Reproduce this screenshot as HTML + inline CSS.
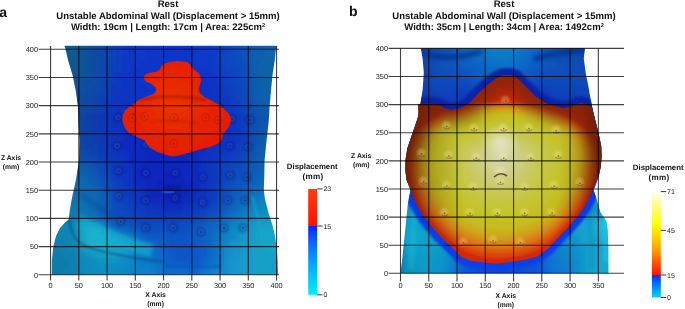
<!DOCTYPE html>
<html><head><meta charset="utf-8"><title>Abdominal wall displacement</title>
<style>
html,body{margin:0;padding:0;background:#fff;}
body{width:685px;height:309px;overflow:hidden;font-family:"Liberation Sans",sans-serif;}
svg{display:block;}
text{will-change:transform;text-rendering:geometricPrecision;}
.t{will-change:transform;}
</style></head><body>
<svg width="685" height="309" viewBox="0 0 685 309" font-family="Liberation Sans">
<rect width="685" height="309" fill="#fff"/>

<defs>
<clipPath id="clipL"><polygon points="64.4,45.8 276.6,45.8 276.0,48.0 274.7,60.5 272.4,76.0 270.9,91.5 269.6,107.0 268.6,122.6 266.6,140.0 264.6,160.0 264.3,175.0 263.8,190.0 264.8,198.3 268.7,213.8 272.6,225.5 274.5,233.3 276.4,245.0 277.4,257.0 278.2,274.8 51.8,274.8 51.8,261.0 53.2,247.0 56.0,236.0 60.0,228.0 65.0,222.5 68.6,219.5 69.6,212.0 71.0,203.0 72.8,194.0 76.0,179.4 79.0,160.0 79.4,140.0 78.6,125.0 77.9,107.0 75.9,91.5 72.8,76.0 68.1,60.5 65.2,48.0"/></clipPath>
<filter id="bl2" x="-50%" y="-50%" width="200%" height="200%"><feGaussianBlur stdDeviation="2"/></filter>
<filter id="bl4" x="-50%" y="-50%" width="200%" height="200%"><feGaussianBlur stdDeviation="4"/></filter>
<filter id="bl7" x="-50%" y="-50%" width="200%" height="200%"><feGaussianBlur stdDeviation="7"/></filter>
<filter id="bl10" x="-50%" y="-50%" width="200%" height="200%"><feGaussianBlur stdDeviation="10"/></filter>
<filter id="bl05" x="-20%" y="-20%" width="140%" height="140%"><feGaussianBlur stdDeviation="0.5"/></filter>
<filter id="bl1" x="-50%" y="-50%" width="200%" height="200%"><feGaussianBlur stdDeviation="1"/></filter>
<radialGradient id="redL" cx="0.45" cy="0.45" r="0.6">
 <stop offset="0" stop-color="#ea3406"/>
 <stop offset="0.6" stop-color="#e62404"/>
 <stop offset="1" stop-color="#e41c00"/>
</radialGradient>
</defs>
<g clip-path="url(#clipL)">
<g filter="url(#bl2)">
<rect x="50" y="42" width="12.5" height="6.5" fill="#0c6088"/>
<rect x="62" y="42" width="6.5" height="6.5" fill="#0c608c"/>
<rect x="68" y="42" width="6.5" height="6.5" fill="#0c5c8c"/>
<rect x="74" y="42" width="6.5" height="6.5" fill="#0c5890"/>
<rect x="80" y="42" width="6.5" height="6.5" fill="#0c5494"/>
<rect x="86" y="42" width="6.5" height="6.5" fill="#0c509c"/>
<rect x="92" y="42" width="6.5" height="6.5" fill="#0c4ca0"/>
<rect x="98" y="42" width="6.5" height="6.5" fill="#0c48a8"/>
<rect x="104" y="42" width="6.5" height="6.5" fill="#0c44b0"/>
<rect x="110" y="42" width="6.5" height="6.5" fill="#0c40b8"/>
<rect x="116" y="42" width="6.5" height="6.5" fill="#0c3cc0"/>
<rect x="122" y="42" width="12.5" height="6.5" fill="#0c38c4"/>
<rect x="134" y="42" width="12.5" height="6.5" fill="#0c38c8"/>
<rect x="146" y="42" width="18.5" height="6.5" fill="#0c34c8"/>
<rect x="164" y="42" width="24.5" height="6.5" fill="#0834c8"/>
<rect x="188" y="42" width="6.5" height="6.5" fill="#0c34c8"/>
<rect x="194" y="42" width="18.5" height="6.5" fill="#0c38c8"/>
<rect x="212" y="42" width="6.5" height="6.5" fill="#0c3cc8"/>
<rect x="218" y="42" width="6.5" height="6.5" fill="#0c40c4"/>
<rect x="224" y="42" width="6.5" height="6.5" fill="#0c44c4"/>
<rect x="230" y="42" width="6.5" height="6.5" fill="#0c48c0"/>
<rect x="236" y="42" width="6.5" height="6.5" fill="#0c4cbc"/>
<rect x="242" y="42" width="6.5" height="6.5" fill="#0c54b8"/>
<rect x="248" y="42" width="6.5" height="6.5" fill="#0c58b4"/>
<rect x="254" y="42" width="6.5" height="6.5" fill="#0c5cb0"/>
<rect x="260" y="42" width="6.5" height="6.5" fill="#0c60b0"/>
<rect x="266" y="42" width="6.5" height="6.5" fill="#0c60ac"/>
<rect x="272" y="42" width="12.5" height="6.5" fill="#0c64ac"/>
<rect x="50" y="48" width="6.5" height="6.5" fill="#0c6088"/>
<rect x="56" y="48" width="6.5" height="6.5" fill="#0c608c"/>
<rect x="62" y="48" width="12.5" height="6.5" fill="#0c5c8c"/>
<rect x="74" y="48" width="6.5" height="6.5" fill="#0c5890"/>
<rect x="80" y="48" width="6.5" height="6.5" fill="#0c5498"/>
<rect x="86" y="48" width="6.5" height="6.5" fill="#0c509c"/>
<rect x="92" y="48" width="6.5" height="6.5" fill="#0c4ca0"/>
<rect x="98" y="48" width="6.5" height="6.5" fill="#0c48a8"/>
<rect x="104" y="48" width="6.5" height="6.5" fill="#0c44b0"/>
<rect x="110" y="48" width="6.5" height="6.5" fill="#0c40b8"/>
<rect x="116" y="48" width="6.5" height="6.5" fill="#0c3cc0"/>
<rect x="122" y="48" width="12.5" height="6.5" fill="#0c38c4"/>
<rect x="134" y="48" width="12.5" height="6.5" fill="#0c38c8"/>
<rect x="146" y="48" width="24.5" height="6.5" fill="#0c34c8"/>
<rect x="170" y="48" width="24.5" height="6.5" fill="#0834c8"/>
<rect x="194" y="48" width="18.5" height="6.5" fill="#0c38c8"/>
<rect x="212" y="48" width="6.5" height="6.5" fill="#0c3cc8"/>
<rect x="218" y="48" width="6.5" height="6.5" fill="#0c40c4"/>
<rect x="224" y="48" width="6.5" height="6.5" fill="#0c44c4"/>
<rect x="230" y="48" width="6.5" height="6.5" fill="#0c48c0"/>
<rect x="236" y="48" width="6.5" height="6.5" fill="#0c4cc0"/>
<rect x="242" y="48" width="6.5" height="6.5" fill="#0c54b8"/>
<rect x="248" y="48" width="6.5" height="6.5" fill="#0c58b4"/>
<rect x="254" y="48" width="6.5" height="6.5" fill="#0c60b0"/>
<rect x="260" y="48" width="6.5" height="6.5" fill="#0c60ac"/>
<rect x="266" y="48" width="12.5" height="6.5" fill="#0c64ac"/>
<rect x="278" y="48" width="6.5" height="6.5" fill="#0c64a8"/>
<rect x="50" y="54" width="12.5" height="6.5" fill="#0c608c"/>
<rect x="62" y="54" width="6.5" height="6.5" fill="#0c5c8c"/>
<rect x="68" y="54" width="6.5" height="6.5" fill="#0c5c90"/>
<rect x="74" y="54" width="6.5" height="6.5" fill="#0c5894"/>
<rect x="80" y="54" width="6.5" height="6.5" fill="#0c5498"/>
<rect x="86" y="54" width="6.5" height="6.5" fill="#0c509c"/>
<rect x="92" y="54" width="6.5" height="6.5" fill="#0c4ca0"/>
<rect x="98" y="54" width="6.5" height="6.5" fill="#0c48a8"/>
<rect x="104" y="54" width="6.5" height="6.5" fill="#0c44b0"/>
<rect x="110" y="54" width="6.5" height="6.5" fill="#0c40b8"/>
<rect x="116" y="54" width="6.5" height="6.5" fill="#0c3cc0"/>
<rect x="122" y="54" width="12.5" height="6.5" fill="#0c38c4"/>
<rect x="134" y="54" width="12.5" height="6.5" fill="#0c38c8"/>
<rect x="146" y="54" width="18.5" height="6.5" fill="#0c34c8"/>
<rect x="164" y="54" width="30.5" height="6.5" fill="#0834c8"/>
<rect x="194" y="54" width="18.5" height="6.5" fill="#0c38c8"/>
<rect x="212" y="54" width="6.5" height="6.5" fill="#0c3cc8"/>
<rect x="218" y="54" width="6.5" height="6.5" fill="#0c40c4"/>
<rect x="224" y="54" width="6.5" height="6.5" fill="#0c44c4"/>
<rect x="230" y="54" width="6.5" height="6.5" fill="#0c48c0"/>
<rect x="236" y="54" width="6.5" height="6.5" fill="#0c4cc0"/>
<rect x="242" y="54" width="6.5" height="6.5" fill="#0c54b8"/>
<rect x="248" y="54" width="6.5" height="6.5" fill="#0c58b4"/>
<rect x="254" y="54" width="6.5" height="6.5" fill="#0c60b0"/>
<rect x="260" y="54" width="6.5" height="6.5" fill="#0c60ac"/>
<rect x="266" y="54" width="6.5" height="6.5" fill="#0c64ac"/>
<rect x="272" y="54" width="12.5" height="6.5" fill="#0c64a8"/>
<rect x="50" y="60" width="12.5" height="6.5" fill="#0c608c"/>
<rect x="62" y="60" width="6.5" height="6.5" fill="#0c5c90"/>
<rect x="68" y="60" width="6.5" height="6.5" fill="#0c5890"/>
<rect x="74" y="60" width="6.5" height="6.5" fill="#0c5894"/>
<rect x="80" y="60" width="6.5" height="6.5" fill="#0c5498"/>
<rect x="86" y="60" width="6.5" height="6.5" fill="#0c509c"/>
<rect x="92" y="60" width="6.5" height="6.5" fill="#0c4ca4"/>
<rect x="98" y="60" width="6.5" height="6.5" fill="#0c48a8"/>
<rect x="104" y="60" width="6.5" height="6.5" fill="#0c44b0"/>
<rect x="110" y="60" width="6.5" height="6.5" fill="#0c40b8"/>
<rect x="116" y="60" width="6.5" height="6.5" fill="#0c3cc0"/>
<rect x="122" y="60" width="12.5" height="6.5" fill="#0c38c4"/>
<rect x="134" y="60" width="6.5" height="6.5" fill="#0c38c8"/>
<rect x="140" y="60" width="24.5" height="6.5" fill="#0c34c8"/>
<rect x="164" y="60" width="24.5" height="6.5" fill="#0834c8"/>
<rect x="188" y="60" width="6.5" height="6.5" fill="#0c34c8"/>
<rect x="194" y="60" width="18.5" height="6.5" fill="#0c38c8"/>
<rect x="212" y="60" width="6.5" height="6.5" fill="#0c3cc4"/>
<rect x="218" y="60" width="6.5" height="6.5" fill="#0c40c4"/>
<rect x="224" y="60" width="6.5" height="6.5" fill="#0c44c4"/>
<rect x="230" y="60" width="6.5" height="6.5" fill="#0c48c0"/>
<rect x="236" y="60" width="6.5" height="6.5" fill="#0c4cc0"/>
<rect x="242" y="60" width="6.5" height="6.5" fill="#0c50b8"/>
<rect x="248" y="60" width="6.5" height="6.5" fill="#0c58b4"/>
<rect x="254" y="60" width="6.5" height="6.5" fill="#0c60ac"/>
<rect x="260" y="60" width="6.5" height="6.5" fill="#0c64ac"/>
<rect x="266" y="60" width="12.5" height="6.5" fill="#0c64a8"/>
<rect x="278" y="60" width="6.5" height="6.5" fill="#0c68a4"/>
<rect x="50" y="66" width="6.5" height="6.5" fill="#0c608c"/>
<rect x="56" y="66" width="12.5" height="6.5" fill="#0c5c90"/>
<rect x="68" y="66" width="12.5" height="6.5" fill="#0c5894"/>
<rect x="80" y="66" width="6.5" height="6.5" fill="#0c5498"/>
<rect x="86" y="66" width="6.5" height="6.5" fill="#0c509c"/>
<rect x="92" y="66" width="6.5" height="6.5" fill="#0c4ca4"/>
<rect x="98" y="66" width="6.5" height="6.5" fill="#0c48a8"/>
<rect x="104" y="66" width="6.5" height="6.5" fill="#0c44b0"/>
<rect x="110" y="66" width="6.5" height="6.5" fill="#0c40b8"/>
<rect x="116" y="66" width="6.5" height="6.5" fill="#0c3cc0"/>
<rect x="122" y="66" width="12.5" height="6.5" fill="#0c38c4"/>
<rect x="134" y="66" width="6.5" height="6.5" fill="#0c34c4"/>
<rect x="140" y="66" width="24.5" height="6.5" fill="#0c34c8"/>
<rect x="164" y="66" width="12.5" height="6.5" fill="#0834c8"/>
<rect x="176" y="66" width="6.5" height="6.5" fill="#0c34c8"/>
<rect x="182" y="66" width="6.5" height="6.5" fill="#0834c8"/>
<rect x="188" y="66" width="12.5" height="6.5" fill="#0c34c8"/>
<rect x="200" y="66" width="12.5" height="6.5" fill="#0c38c8"/>
<rect x="212" y="66" width="6.5" height="6.5" fill="#0c3cc4"/>
<rect x="218" y="66" width="6.5" height="6.5" fill="#0c40c4"/>
<rect x="224" y="66" width="6.5" height="6.5" fill="#0c44c4"/>
<rect x="230" y="66" width="6.5" height="6.5" fill="#0c44c0"/>
<rect x="236" y="66" width="6.5" height="6.5" fill="#0c48c0"/>
<rect x="242" y="66" width="6.5" height="6.5" fill="#0c50b8"/>
<rect x="248" y="66" width="6.5" height="6.5" fill="#0c58b4"/>
<rect x="254" y="66" width="6.5" height="6.5" fill="#0c60ac"/>
<rect x="260" y="66" width="12.5" height="6.5" fill="#0c64a8"/>
<rect x="272" y="66" width="6.5" height="6.5" fill="#0c64a4"/>
<rect x="278" y="66" width="6.5" height="6.5" fill="#0c68a4"/>
<rect x="56" y="72" width="6.5" height="6.5" fill="#0c5c90"/>
<rect x="62" y="72" width="6.5" height="6.5" fill="#0c5c94"/>
<rect x="68" y="72" width="6.5" height="6.5" fill="#0c5894"/>
<rect x="74" y="72" width="6.5" height="6.5" fill="#0c5498"/>
<rect x="80" y="72" width="6.5" height="6.5" fill="#0c549c"/>
<rect x="86" y="72" width="6.5" height="6.5" fill="#0c50a0"/>
<rect x="92" y="72" width="6.5" height="6.5" fill="#0c4ca4"/>
<rect x="98" y="72" width="6.5" height="6.5" fill="#0c48ac"/>
<rect x="104" y="72" width="6.5" height="6.5" fill="#0c44b0"/>
<rect x="110" y="72" width="6.5" height="6.5" fill="#0c3cb8"/>
<rect x="116" y="72" width="6.5" height="6.5" fill="#0c38c0"/>
<rect x="122" y="72" width="6.5" height="6.5" fill="#0c38c4"/>
<rect x="128" y="72" width="12.5" height="6.5" fill="#0c34c4"/>
<rect x="140" y="72" width="24.5" height="6.5" fill="#0c34c8"/>
<rect x="164" y="72" width="24.5" height="6.5" fill="#0834c8"/>
<rect x="188" y="72" width="12.5" height="6.5" fill="#0c34c8"/>
<rect x="200" y="72" width="12.5" height="6.5" fill="#0c34c4"/>
<rect x="212" y="72" width="6.5" height="6.5" fill="#0c38c4"/>
<rect x="218" y="72" width="6.5" height="6.5" fill="#0c3cc4"/>
<rect x="224" y="72" width="6.5" height="6.5" fill="#0c40c4"/>
<rect x="230" y="72" width="6.5" height="6.5" fill="#0c44c0"/>
<rect x="236" y="72" width="6.5" height="6.5" fill="#0c48c0"/>
<rect x="242" y="72" width="6.5" height="6.5" fill="#0c50b8"/>
<rect x="248" y="72" width="6.5" height="6.5" fill="#0c58b4"/>
<rect x="254" y="72" width="6.5" height="6.5" fill="#0c5cac"/>
<rect x="260" y="72" width="6.5" height="6.5" fill="#0c60a8"/>
<rect x="266" y="72" width="6.5" height="6.5" fill="#0c64a8"/>
<rect x="272" y="72" width="6.5" height="6.5" fill="#0c64a4"/>
<rect x="278" y="72" width="6.5" height="6.5" fill="#0c68a4"/>
<rect x="56" y="78" width="12.5" height="6.5" fill="#0c5c94"/>
<rect x="68" y="78" width="6.5" height="6.5" fill="#0c5898"/>
<rect x="74" y="78" width="6.5" height="6.5" fill="#0c549c"/>
<rect x="80" y="78" width="6.5" height="6.5" fill="#0c509c"/>
<rect x="86" y="78" width="6.5" height="6.5" fill="#0c4ca4"/>
<rect x="92" y="78" width="6.5" height="6.5" fill="#0c4ca8"/>
<rect x="98" y="78" width="6.5" height="6.5" fill="#0c44ac"/>
<rect x="104" y="78" width="6.5" height="6.5" fill="#0c40b4"/>
<rect x="110" y="78" width="6.5" height="6.5" fill="#0c3cbc"/>
<rect x="116" y="78" width="6.5" height="6.5" fill="#0c38c0"/>
<rect x="122" y="78" width="18.5" height="6.5" fill="#0c34c4"/>
<rect x="140" y="78" width="6.5" height="6.5" fill="#0c34c8"/>
<rect x="146" y="78" width="18.5" height="6.5" fill="#0c30c8"/>
<rect x="164" y="78" width="6.5" height="6.5" fill="#0830c8"/>
<rect x="170" y="78" width="12.5" height="6.5" fill="#0c30c4"/>
<rect x="182" y="78" width="12.5" height="6.5" fill="#0830c4"/>
<rect x="194" y="78" width="12.5" height="6.5" fill="#0c30c4"/>
<rect x="206" y="78" width="12.5" height="6.5" fill="#0c34c4"/>
<rect x="218" y="78" width="6.5" height="6.5" fill="#0c3cc4"/>
<rect x="224" y="78" width="6.5" height="6.5" fill="#0c40c4"/>
<rect x="230" y="78" width="6.5" height="6.5" fill="#0c44c0"/>
<rect x="236" y="78" width="6.5" height="6.5" fill="#0c48c0"/>
<rect x="242" y="78" width="6.5" height="6.5" fill="#0c4cb8"/>
<rect x="248" y="78" width="6.5" height="6.5" fill="#0c54b4"/>
<rect x="254" y="78" width="6.5" height="6.5" fill="#0c5cac"/>
<rect x="260" y="78" width="6.5" height="6.5" fill="#0c60a8"/>
<rect x="266" y="78" width="6.5" height="6.5" fill="#0c64a8"/>
<rect x="272" y="78" width="6.5" height="6.5" fill="#0c64a4"/>
<rect x="278" y="78" width="6.5" height="6.5" fill="#0c68a4"/>
<rect x="56" y="84" width="6.5" height="6.5" fill="#0c5894"/>
<rect x="62" y="84" width="12.5" height="6.5" fill="#0c5898"/>
<rect x="74" y="84" width="6.5" height="6.5" fill="#0c549c"/>
<rect x="80" y="84" width="6.5" height="6.5" fill="#0c50a0"/>
<rect x="86" y="84" width="6.5" height="6.5" fill="#0c4ca4"/>
<rect x="92" y="84" width="6.5" height="6.5" fill="#0c48a8"/>
<rect x="98" y="84" width="6.5" height="6.5" fill="#0c44b0"/>
<rect x="104" y="84" width="6.5" height="6.5" fill="#0c40b4"/>
<rect x="110" y="84" width="6.5" height="6.5" fill="#0c38bc"/>
<rect x="116" y="84" width="6.5" height="6.5" fill="#0c38c0"/>
<rect x="122" y="84" width="18.5" height="6.5" fill="#0c34c4"/>
<rect x="140" y="84" width="24.5" height="6.5" fill="#0c30c8"/>
<rect x="164" y="84" width="24.5" height="6.5" fill="#0830c4"/>
<rect x="188" y="84" width="24.5" height="6.5" fill="#0c30c4"/>
<rect x="212" y="84" width="6.5" height="6.5" fill="#0c34c4"/>
<rect x="218" y="84" width="6.5" height="6.5" fill="#0c38c4"/>
<rect x="224" y="84" width="6.5" height="6.5" fill="#0c3cc4"/>
<rect x="230" y="84" width="6.5" height="6.5" fill="#0c40c0"/>
<rect x="236" y="84" width="6.5" height="6.5" fill="#0c44c0"/>
<rect x="242" y="84" width="6.5" height="6.5" fill="#0c4cb8"/>
<rect x="248" y="84" width="6.5" height="6.5" fill="#0c54b4"/>
<rect x="254" y="84" width="6.5" height="6.5" fill="#0c5cac"/>
<rect x="260" y="84" width="6.5" height="6.5" fill="#0c60ac"/>
<rect x="266" y="84" width="12.5" height="6.5" fill="#0c64a8"/>
<rect x="278" y="84" width="6.5" height="6.5" fill="#0c68a4"/>
<rect x="56" y="90" width="12.5" height="6.5" fill="#0c5898"/>
<rect x="68" y="90" width="6.5" height="6.5" fill="#0c549c"/>
<rect x="74" y="90" width="6.5" height="6.5" fill="#0c509c"/>
<rect x="80" y="90" width="6.5" height="6.5" fill="#0c50a0"/>
<rect x="86" y="90" width="6.5" height="6.5" fill="#0c4ca4"/>
<rect x="92" y="90" width="6.5" height="6.5" fill="#0c48a8"/>
<rect x="98" y="90" width="6.5" height="6.5" fill="#0c44b0"/>
<rect x="104" y="90" width="6.5" height="6.5" fill="#0c3cb8"/>
<rect x="110" y="90" width="6.5" height="6.5" fill="#0c38bc"/>
<rect x="116" y="90" width="12.5" height="6.5" fill="#0c34c0"/>
<rect x="128" y="90" width="6.5" height="6.5" fill="#0c34c4"/>
<rect x="134" y="90" width="6.5" height="6.5" fill="#0c30c4"/>
<rect x="140" y="90" width="24.5" height="6.5" fill="#0c30c8"/>
<rect x="164" y="90" width="18.5" height="6.5" fill="#0830c4"/>
<rect x="182" y="90" width="6.5" height="6.5" fill="#0c30c4"/>
<rect x="188" y="90" width="6.5" height="6.5" fill="#0830c4"/>
<rect x="194" y="90" width="18.5" height="6.5" fill="#0c30c4"/>
<rect x="212" y="90" width="6.5" height="6.5" fill="#0c34c4"/>
<rect x="218" y="90" width="6.5" height="6.5" fill="#0c38c4"/>
<rect x="224" y="90" width="6.5" height="6.5" fill="#0c3cc4"/>
<rect x="230" y="90" width="6.5" height="6.5" fill="#0c40c0"/>
<rect x="236" y="90" width="6.5" height="6.5" fill="#0c44c0"/>
<rect x="242" y="90" width="6.5" height="6.5" fill="#0c4cb8"/>
<rect x="248" y="90" width="6.5" height="6.5" fill="#0c54b4"/>
<rect x="254" y="90" width="6.5" height="6.5" fill="#0c5cac"/>
<rect x="260" y="90" width="6.5" height="6.5" fill="#0c60ac"/>
<rect x="266" y="90" width="12.5" height="6.5" fill="#0c64a8"/>
<rect x="278" y="90" width="6.5" height="6.5" fill="#0c68a4"/>
<rect x="62" y="96" width="6.5" height="6.5" fill="#0c5498"/>
<rect x="68" y="96" width="12.5" height="6.5" fill="#0c509c"/>
<rect x="80" y="96" width="6.5" height="6.5" fill="#0c4ca0"/>
<rect x="86" y="96" width="6.5" height="6.5" fill="#0c48a4"/>
<rect x="92" y="96" width="6.5" height="6.5" fill="#0c44ac"/>
<rect x="98" y="96" width="6.5" height="6.5" fill="#0c40b0"/>
<rect x="104" y="96" width="6.5" height="6.5" fill="#0c3cb8"/>
<rect x="110" y="96" width="6.5" height="6.5" fill="#0c38bc"/>
<rect x="116" y="96" width="12.5" height="6.5" fill="#0c34c0"/>
<rect x="128" y="96" width="12.5" height="6.5" fill="#0c30c4"/>
<rect x="140" y="96" width="24.5" height="6.5" fill="#0c30c8"/>
<rect x="164" y="96" width="6.5" height="6.5" fill="#0c30c4"/>
<rect x="170" y="96" width="6.5" height="6.5" fill="#0830c4"/>
<rect x="176" y="96" width="6.5" height="6.5" fill="#0c30c4"/>
<rect x="182" y="96" width="6.5" height="6.5" fill="#0830c4"/>
<rect x="188" y="96" width="24.5" height="6.5" fill="#0c30c4"/>
<rect x="212" y="96" width="6.5" height="6.5" fill="#0c34c4"/>
<rect x="218" y="96" width="12.5" height="6.5" fill="#0c38c4"/>
<rect x="230" y="96" width="6.5" height="6.5" fill="#0c3cc0"/>
<rect x="236" y="96" width="6.5" height="6.5" fill="#0c44c0"/>
<rect x="242" y="96" width="6.5" height="6.5" fill="#0c48b8"/>
<rect x="248" y="96" width="6.5" height="6.5" fill="#0c54b4"/>
<rect x="254" y="96" width="6.5" height="6.5" fill="#0c5cac"/>
<rect x="260" y="96" width="6.5" height="6.5" fill="#0c60ac"/>
<rect x="266" y="96" width="12.5" height="6.5" fill="#0c64a8"/>
<rect x="278" y="96" width="6.5" height="6.5" fill="#0c68a4"/>
<rect x="62" y="102" width="12.5" height="6.5" fill="#0c5098"/>
<rect x="74" y="102" width="6.5" height="6.5" fill="#0c4c9c"/>
<rect x="80" y="102" width="6.5" height="6.5" fill="#0c4ca0"/>
<rect x="86" y="102" width="6.5" height="6.5" fill="#0c48a4"/>
<rect x="92" y="102" width="6.5" height="6.5" fill="#0c44ac"/>
<rect x="98" y="102" width="6.5" height="6.5" fill="#0c40b0"/>
<rect x="104" y="102" width="6.5" height="6.5" fill="#0c38b8"/>
<rect x="110" y="102" width="6.5" height="6.5" fill="#0c34bc"/>
<rect x="116" y="102" width="6.5" height="6.5" fill="#0c34c0"/>
<rect x="122" y="102" width="6.5" height="6.5" fill="#0c30c0"/>
<rect x="128" y="102" width="18.5" height="6.5" fill="#0c30c4"/>
<rect x="146" y="102" width="12.5" height="6.5" fill="#0c30c8"/>
<rect x="158" y="102" width="6.5" height="6.5" fill="#0c30c4"/>
<rect x="164" y="102" width="30.5" height="6.5" fill="#0830c4"/>
<rect x="194" y="102" width="24.5" height="6.5" fill="#0c30c4"/>
<rect x="218" y="102" width="6.5" height="6.5" fill="#0c34c4"/>
<rect x="224" y="102" width="6.5" height="6.5" fill="#0c38c4"/>
<rect x="230" y="102" width="6.5" height="6.5" fill="#0c3cc4"/>
<rect x="236" y="102" width="6.5" height="6.5" fill="#0c40c0"/>
<rect x="242" y="102" width="6.5" height="6.5" fill="#0c48bc"/>
<rect x="248" y="102" width="6.5" height="6.5" fill="#0c50b4"/>
<rect x="254" y="102" width="6.5" height="6.5" fill="#0c58b0"/>
<rect x="260" y="102" width="6.5" height="6.5" fill="#0c5cac"/>
<rect x="266" y="102" width="6.5" height="6.5" fill="#0c60a8"/>
<rect x="272" y="102" width="6.5" height="6.5" fill="#0c64a8"/>
<rect x="278" y="102" width="6.5" height="6.5" fill="#0c68a4"/>
<rect x="62" y="108" width="12.5" height="6.5" fill="#0c4c98"/>
<rect x="74" y="108" width="6.5" height="6.5" fill="#0c489c"/>
<rect x="80" y="108" width="6.5" height="6.5" fill="#0c48a0"/>
<rect x="86" y="108" width="6.5" height="6.5" fill="#0c44a4"/>
<rect x="92" y="108" width="6.5" height="6.5" fill="#0c40ac"/>
<rect x="98" y="108" width="6.5" height="6.5" fill="#0c3cb0"/>
<rect x="104" y="108" width="6.5" height="6.5" fill="#0c38b8"/>
<rect x="110" y="108" width="6.5" height="6.5" fill="#0c34bc"/>
<rect x="116" y="108" width="18.5" height="6.5" fill="#0c30c0"/>
<rect x="134" y="108" width="24.5" height="6.5" fill="#0c30c4"/>
<rect x="158" y="108" width="18.5" height="6.5" fill="#0830c4"/>
<rect x="176" y="108" width="12.5" height="6.5" fill="#0c30c4"/>
<rect x="188" y="108" width="6.5" height="6.5" fill="#082cc4"/>
<rect x="194" y="108" width="12.5" height="6.5" fill="#0c2cc4"/>
<rect x="206" y="108" width="18.5" height="6.5" fill="#0c30c4"/>
<rect x="224" y="108" width="6.5" height="6.5" fill="#0c34c4"/>
<rect x="230" y="108" width="6.5" height="6.5" fill="#0c38c4"/>
<rect x="236" y="108" width="6.5" height="6.5" fill="#0c3cc0"/>
<rect x="242" y="108" width="6.5" height="6.5" fill="#0c44bc"/>
<rect x="248" y="108" width="6.5" height="6.5" fill="#0c4cb8"/>
<rect x="254" y="108" width="6.5" height="6.5" fill="#0c54b0"/>
<rect x="260" y="108" width="6.5" height="6.5" fill="#0c58ac"/>
<rect x="266" y="108" width="6.5" height="6.5" fill="#0c5cac"/>
<rect x="272" y="108" width="6.5" height="6.5" fill="#0c60a8"/>
<rect x="278" y="108" width="6.5" height="6.5" fill="#0c64a8"/>
<rect x="62" y="114" width="12.5" height="6.5" fill="#0c4898"/>
<rect x="74" y="114" width="6.5" height="6.5" fill="#0c489c"/>
<rect x="80" y="114" width="6.5" height="6.5" fill="#0c44a0"/>
<rect x="86" y="114" width="6.5" height="6.5" fill="#0c40a4"/>
<rect x="92" y="114" width="6.5" height="6.5" fill="#0c3cac"/>
<rect x="98" y="114" width="6.5" height="6.5" fill="#0c38b0"/>
<rect x="104" y="114" width="6.5" height="6.5" fill="#0c34b8"/>
<rect x="110" y="114" width="6.5" height="6.5" fill="#0c30bc"/>
<rect x="116" y="114" width="6.5" height="6.5" fill="#0c30c0"/>
<rect x="122" y="114" width="18.5" height="6.5" fill="#0c2cc0"/>
<rect x="140" y="114" width="6.5" height="6.5" fill="#0c2cc4"/>
<rect x="146" y="114" width="12.5" height="6.5" fill="#0c30c4"/>
<rect x="158" y="114" width="24.5" height="6.5" fill="#082cc4"/>
<rect x="182" y="114" width="30.5" height="6.5" fill="#0c2cc4"/>
<rect x="212" y="114" width="12.5" height="6.5" fill="#0c30c4"/>
<rect x="224" y="114" width="12.5" height="6.5" fill="#0c34c4"/>
<rect x="236" y="114" width="6.5" height="6.5" fill="#0c38c0"/>
<rect x="242" y="114" width="6.5" height="6.5" fill="#0c40bc"/>
<rect x="248" y="114" width="6.5" height="6.5" fill="#0c48b8"/>
<rect x="254" y="114" width="6.5" height="6.5" fill="#0c50b4"/>
<rect x="260" y="114" width="6.5" height="6.5" fill="#0c54b0"/>
<rect x="266" y="114" width="6.5" height="6.5" fill="#0c58ac"/>
<rect x="272" y="114" width="6.5" height="6.5" fill="#0c5cac"/>
<rect x="278" y="114" width="6.5" height="6.5" fill="#0c60a8"/>
<rect x="62" y="120" width="12.5" height="6.5" fill="#0c4898"/>
<rect x="74" y="120" width="6.5" height="6.5" fill="#0c449c"/>
<rect x="80" y="120" width="6.5" height="6.5" fill="#0c44a0"/>
<rect x="86" y="120" width="6.5" height="6.5" fill="#0c40a8"/>
<rect x="92" y="120" width="6.5" height="6.5" fill="#0c3cac"/>
<rect x="98" y="120" width="6.5" height="6.5" fill="#0c38b4"/>
<rect x="104" y="120" width="6.5" height="6.5" fill="#0c34b8"/>
<rect x="110" y="120" width="6.5" height="6.5" fill="#0c30bc"/>
<rect x="116" y="120" width="6.5" height="6.5" fill="#0c30c0"/>
<rect x="122" y="120" width="24.5" height="6.5" fill="#0c2cc0"/>
<rect x="146" y="120" width="12.5" height="6.5" fill="#0c2cc4"/>
<rect x="158" y="120" width="36.5" height="6.5" fill="#082cc4"/>
<rect x="194" y="120" width="24.5" height="6.5" fill="#0c2cc4"/>
<rect x="218" y="120" width="12.5" height="6.5" fill="#0c30c4"/>
<rect x="230" y="120" width="6.5" height="6.5" fill="#0c34c4"/>
<rect x="236" y="120" width="6.5" height="6.5" fill="#0c38c0"/>
<rect x="242" y="120" width="6.5" height="6.5" fill="#0c40bc"/>
<rect x="248" y="120" width="6.5" height="6.5" fill="#0c48b8"/>
<rect x="254" y="120" width="6.5" height="6.5" fill="#0c50b4"/>
<rect x="260" y="120" width="6.5" height="6.5" fill="#0c54b0"/>
<rect x="266" y="120" width="6.5" height="6.5" fill="#0c58ac"/>
<rect x="272" y="120" width="6.5" height="6.5" fill="#0c5cac"/>
<rect x="278" y="120" width="6.5" height="6.5" fill="#0c5ca8"/>
<rect x="62" y="126" width="12.5" height="6.5" fill="#0c4898"/>
<rect x="74" y="126" width="6.5" height="6.5" fill="#0c449c"/>
<rect x="80" y="126" width="6.5" height="6.5" fill="#0c44a4"/>
<rect x="86" y="126" width="6.5" height="6.5" fill="#0c40a8"/>
<rect x="92" y="126" width="6.5" height="6.5" fill="#0c3cac"/>
<rect x="98" y="126" width="6.5" height="6.5" fill="#0c38b4"/>
<rect x="104" y="126" width="6.5" height="6.5" fill="#0c34b8"/>
<rect x="110" y="126" width="6.5" height="6.5" fill="#0c30bc"/>
<rect x="116" y="126" width="6.5" height="6.5" fill="#0c30c0"/>
<rect x="122" y="126" width="24.5" height="6.5" fill="#0c2cc0"/>
<rect x="146" y="126" width="6.5" height="6.5" fill="#0c2cc4"/>
<rect x="152" y="126" width="42.5" height="6.5" fill="#082cc4"/>
<rect x="194" y="126" width="24.5" height="6.5" fill="#0c2cc4"/>
<rect x="218" y="126" width="12.5" height="6.5" fill="#0c30c8"/>
<rect x="230" y="126" width="6.5" height="6.5" fill="#0c34c4"/>
<rect x="236" y="126" width="6.5" height="6.5" fill="#0c38c4"/>
<rect x="242" y="126" width="6.5" height="6.5" fill="#0c40bc"/>
<rect x="248" y="126" width="6.5" height="6.5" fill="#0c48b8"/>
<rect x="254" y="126" width="6.5" height="6.5" fill="#0c50b4"/>
<rect x="260" y="126" width="6.5" height="6.5" fill="#0c54b0"/>
<rect x="266" y="126" width="6.5" height="6.5" fill="#0c58ac"/>
<rect x="272" y="126" width="6.5" height="6.5" fill="#0c5cac"/>
<rect x="278" y="126" width="6.5" height="6.5" fill="#0c5ca8"/>
<rect x="62" y="132" width="6.5" height="6.5" fill="#0c4898"/>
<rect x="68" y="132" width="6.5" height="6.5" fill="#0c489c"/>
<rect x="74" y="132" width="6.5" height="6.5" fill="#0c44a0"/>
<rect x="80" y="132" width="6.5" height="6.5" fill="#0c44a4"/>
<rect x="86" y="132" width="6.5" height="6.5" fill="#0c40a8"/>
<rect x="92" y="132" width="6.5" height="6.5" fill="#0c3cac"/>
<rect x="98" y="132" width="6.5" height="6.5" fill="#0c38b4"/>
<rect x="104" y="132" width="6.5" height="6.5" fill="#0c34b8"/>
<rect x="110" y="132" width="6.5" height="6.5" fill="#0c30bc"/>
<rect x="116" y="132" width="6.5" height="6.5" fill="#0c30c0"/>
<rect x="122" y="132" width="24.5" height="6.5" fill="#0c2cc0"/>
<rect x="146" y="132" width="6.5" height="6.5" fill="#082cc0"/>
<rect x="152" y="132" width="48.5" height="6.5" fill="#082cc4"/>
<rect x="200" y="132" width="18.5" height="6.5" fill="#0c2cc4"/>
<rect x="218" y="132" width="12.5" height="6.5" fill="#0c30c8"/>
<rect x="230" y="132" width="6.5" height="6.5" fill="#0c34c4"/>
<rect x="236" y="132" width="6.5" height="6.5" fill="#0c38c4"/>
<rect x="242" y="132" width="6.5" height="6.5" fill="#0c40bc"/>
<rect x="248" y="132" width="6.5" height="6.5" fill="#0c4cb4"/>
<rect x="254" y="132" width="6.5" height="6.5" fill="#0c54b0"/>
<rect x="260" y="132" width="6.5" height="6.5" fill="#0c58ac"/>
<rect x="266" y="132" width="6.5" height="6.5" fill="#0c5cac"/>
<rect x="272" y="132" width="6.5" height="6.5" fill="#0c5ca8"/>
<rect x="278" y="132" width="6.5" height="6.5" fill="#0c60a8"/>
<rect x="62" y="138" width="12.5" height="6.5" fill="#0c489c"/>
<rect x="74" y="138" width="6.5" height="6.5" fill="#0c44a0"/>
<rect x="80" y="138" width="6.5" height="6.5" fill="#0c44a4"/>
<rect x="86" y="138" width="6.5" height="6.5" fill="#0c40a8"/>
<rect x="92" y="138" width="6.5" height="6.5" fill="#0c3cb0"/>
<rect x="98" y="138" width="6.5" height="6.5" fill="#0c38b4"/>
<rect x="104" y="138" width="6.5" height="6.5" fill="#0c34b8"/>
<rect x="110" y="138" width="6.5" height="6.5" fill="#0c30bc"/>
<rect x="116" y="138" width="6.5" height="6.5" fill="#0c30c0"/>
<rect x="122" y="138" width="24.5" height="6.5" fill="#0c2cc0"/>
<rect x="146" y="138" width="6.5" height="6.5" fill="#082cc0"/>
<rect x="152" y="138" width="48.5" height="6.5" fill="#082cc4"/>
<rect x="200" y="138" width="12.5" height="6.5" fill="#0c2cc4"/>
<rect x="212" y="138" width="6.5" height="6.5" fill="#0c30c4"/>
<rect x="218" y="138" width="12.5" height="6.5" fill="#0c30c8"/>
<rect x="230" y="138" width="6.5" height="6.5" fill="#0c34c4"/>
<rect x="236" y="138" width="6.5" height="6.5" fill="#0c38c4"/>
<rect x="242" y="138" width="6.5" height="6.5" fill="#0c40bc"/>
<rect x="248" y="138" width="6.5" height="6.5" fill="#0c4cb4"/>
<rect x="254" y="138" width="6.5" height="6.5" fill="#0c54ac"/>
<rect x="260" y="138" width="12.5" height="6.5" fill="#0c5ca8"/>
<rect x="272" y="138" width="12.5" height="6.5" fill="#0c60a8"/>
<rect x="62" y="144" width="6.5" height="6.5" fill="#0c4c9c"/>
<rect x="68" y="144" width="12.5" height="6.5" fill="#0c48a0"/>
<rect x="80" y="144" width="6.5" height="6.5" fill="#0c44a4"/>
<rect x="86" y="144" width="6.5" height="6.5" fill="#0c40a8"/>
<rect x="92" y="144" width="6.5" height="6.5" fill="#0c40b0"/>
<rect x="98" y="144" width="6.5" height="6.5" fill="#0c3cb4"/>
<rect x="104" y="144" width="6.5" height="6.5" fill="#0c34b8"/>
<rect x="110" y="144" width="6.5" height="6.5" fill="#0c30bc"/>
<rect x="116" y="144" width="6.5" height="6.5" fill="#0c30c0"/>
<rect x="122" y="144" width="24.5" height="6.5" fill="#0c2cc0"/>
<rect x="146" y="144" width="12.5" height="6.5" fill="#082cc0"/>
<rect x="158" y="144" width="48.5" height="6.5" fill="#082cc4"/>
<rect x="206" y="144" width="12.5" height="6.5" fill="#0c30c4"/>
<rect x="218" y="144" width="6.5" height="6.5" fill="#0c30c8"/>
<rect x="224" y="144" width="6.5" height="6.5" fill="#0c34c8"/>
<rect x="230" y="144" width="6.5" height="6.5" fill="#0c34c4"/>
<rect x="236" y="144" width="6.5" height="6.5" fill="#0c3cc4"/>
<rect x="242" y="144" width="6.5" height="6.5" fill="#0c44bc"/>
<rect x="248" y="144" width="6.5" height="6.5" fill="#0c50b4"/>
<rect x="254" y="144" width="6.5" height="6.5" fill="#0c58ac"/>
<rect x="260" y="144" width="6.5" height="6.5" fill="#0c5ca8"/>
<rect x="266" y="144" width="18.5" height="6.5" fill="#0c60a4"/>
<rect x="62" y="150" width="12.5" height="6.5" fill="#0c50a0"/>
<rect x="74" y="150" width="6.5" height="6.5" fill="#0c4ca4"/>
<rect x="80" y="150" width="6.5" height="6.5" fill="#0c48a8"/>
<rect x="86" y="150" width="6.5" height="6.5" fill="#0c44ac"/>
<rect x="92" y="150" width="6.5" height="6.5" fill="#0c40b0"/>
<rect x="98" y="150" width="6.5" height="6.5" fill="#0c3cb4"/>
<rect x="104" y="150" width="6.5" height="6.5" fill="#0c38b8"/>
<rect x="110" y="150" width="6.5" height="6.5" fill="#0c34bc"/>
<rect x="116" y="150" width="12.5" height="6.5" fill="#0c30c0"/>
<rect x="128" y="150" width="12.5" height="6.5" fill="#0c2cc0"/>
<rect x="140" y="150" width="6.5" height="6.5" fill="#082cc0"/>
<rect x="146" y="150" width="30.5" height="6.5" fill="#0828c0"/>
<rect x="176" y="150" width="24.5" height="6.5" fill="#082cc0"/>
<rect x="200" y="150" width="6.5" height="6.5" fill="#0830c0"/>
<rect x="206" y="150" width="6.5" height="6.5" fill="#0c30c4"/>
<rect x="212" y="150" width="12.5" height="6.5" fill="#0c34c4"/>
<rect x="224" y="150" width="12.5" height="6.5" fill="#0c38c4"/>
<rect x="236" y="150" width="6.5" height="6.5" fill="#0c40c0"/>
<rect x="242" y="150" width="6.5" height="6.5" fill="#0c48bc"/>
<rect x="248" y="150" width="6.5" height="6.5" fill="#0c50b4"/>
<rect x="254" y="150" width="6.5" height="6.5" fill="#0c58ac"/>
<rect x="260" y="150" width="6.5" height="6.5" fill="#0c60a8"/>
<rect x="266" y="150" width="12.5" height="6.5" fill="#0c60a4"/>
<rect x="278" y="150" width="6.5" height="6.5" fill="#0c64a4"/>
<rect x="62" y="156" width="12.5" height="6.5" fill="#0c58a4"/>
<rect x="74" y="156" width="6.5" height="6.5" fill="#0c54a4"/>
<rect x="80" y="156" width="6.5" height="6.5" fill="#0c50a8"/>
<rect x="86" y="156" width="6.5" height="6.5" fill="#0c4cac"/>
<rect x="92" y="156" width="6.5" height="6.5" fill="#0c48b0"/>
<rect x="98" y="156" width="6.5" height="6.5" fill="#0c40b4"/>
<rect x="104" y="156" width="6.5" height="6.5" fill="#0c3cb8"/>
<rect x="110" y="156" width="6.5" height="6.5" fill="#0c38bc"/>
<rect x="116" y="156" width="6.5" height="6.5" fill="#0c34c0"/>
<rect x="122" y="156" width="6.5" height="6.5" fill="#0c30c0"/>
<rect x="128" y="156" width="12.5" height="6.5" fill="#0c2cc0"/>
<rect x="140" y="156" width="6.5" height="6.5" fill="#082cc0"/>
<rect x="146" y="156" width="42.5" height="6.5" fill="#0828c0"/>
<rect x="188" y="156" width="12.5" height="6.5" fill="#082cc0"/>
<rect x="200" y="156" width="6.5" height="6.5" fill="#0830c0"/>
<rect x="206" y="156" width="6.5" height="6.5" fill="#0c34c0"/>
<rect x="212" y="156" width="6.5" height="6.5" fill="#0c34c4"/>
<rect x="218" y="156" width="6.5" height="6.5" fill="#0c38c4"/>
<rect x="224" y="156" width="6.5" height="6.5" fill="#0c3cc4"/>
<rect x="230" y="156" width="6.5" height="6.5" fill="#0c40c4"/>
<rect x="236" y="156" width="6.5" height="6.5" fill="#0c44c0"/>
<rect x="242" y="156" width="6.5" height="6.5" fill="#0c4cbc"/>
<rect x="248" y="156" width="6.5" height="6.5" fill="#0c54b4"/>
<rect x="254" y="156" width="6.5" height="6.5" fill="#0c5cb0"/>
<rect x="260" y="156" width="6.5" height="6.5" fill="#0c60ac"/>
<rect x="266" y="156" width="6.5" height="6.5" fill="#0c60a8"/>
<rect x="272" y="156" width="6.5" height="6.5" fill="#0c60a4"/>
<rect x="278" y="156" width="6.5" height="6.5" fill="#0c64a4"/>
<rect x="62" y="162" width="12.5" height="6.5" fill="#0c60a8"/>
<rect x="74" y="162" width="6.5" height="6.5" fill="#0c5ca8"/>
<rect x="80" y="162" width="6.5" height="6.5" fill="#0c58ac"/>
<rect x="86" y="162" width="6.5" height="6.5" fill="#0c54b0"/>
<rect x="92" y="162" width="6.5" height="6.5" fill="#0c4cb4"/>
<rect x="98" y="162" width="6.5" height="6.5" fill="#0c48b8"/>
<rect x="104" y="162" width="6.5" height="6.5" fill="#0c40b8"/>
<rect x="110" y="162" width="6.5" height="6.5" fill="#0c38bc"/>
<rect x="116" y="162" width="6.5" height="6.5" fill="#0c34c0"/>
<rect x="122" y="162" width="12.5" height="6.5" fill="#0c30c0"/>
<rect x="134" y="162" width="6.5" height="6.5" fill="#0c2cc0"/>
<rect x="140" y="162" width="24.5" height="6.5" fill="#0828c0"/>
<rect x="164" y="162" width="18.5" height="6.5" fill="#0828bc"/>
<rect x="182" y="162" width="6.5" height="6.5" fill="#0828c0"/>
<rect x="188" y="162" width="12.5" height="6.5" fill="#082cc0"/>
<rect x="200" y="162" width="6.5" height="6.5" fill="#0830c0"/>
<rect x="206" y="162" width="6.5" height="6.5" fill="#0c34c0"/>
<rect x="212" y="162" width="6.5" height="6.5" fill="#0c38c0"/>
<rect x="218" y="162" width="6.5" height="6.5" fill="#0c3cc0"/>
<rect x="224" y="162" width="6.5" height="6.5" fill="#0c40c0"/>
<rect x="230" y="162" width="6.5" height="6.5" fill="#0c44c0"/>
<rect x="236" y="162" width="6.5" height="6.5" fill="#0c48c0"/>
<rect x="242" y="162" width="6.5" height="6.5" fill="#0c50bc"/>
<rect x="248" y="162" width="6.5" height="6.5" fill="#0c54b8"/>
<rect x="254" y="162" width="6.5" height="6.5" fill="#0c5cb4"/>
<rect x="260" y="162" width="6.5" height="6.5" fill="#0c60b0"/>
<rect x="266" y="162" width="6.5" height="6.5" fill="#0c60ac"/>
<rect x="272" y="162" width="6.5" height="6.5" fill="#0c60a8"/>
<rect x="62" y="168" width="6.5" height="6.5" fill="#0c68a8"/>
<rect x="68" y="168" width="6.5" height="6.5" fill="#0c64a8"/>
<rect x="74" y="168" width="6.5" height="6.5" fill="#0c64ac"/>
<rect x="80" y="168" width="6.5" height="6.5" fill="#0c60ac"/>
<rect x="86" y="168" width="6.5" height="6.5" fill="#0c58b0"/>
<rect x="92" y="168" width="6.5" height="6.5" fill="#0c54b4"/>
<rect x="98" y="168" width="6.5" height="6.5" fill="#0c4cb8"/>
<rect x="104" y="168" width="6.5" height="6.5" fill="#0c44bc"/>
<rect x="110" y="168" width="6.5" height="6.5" fill="#0c3cbc"/>
<rect x="116" y="168" width="6.5" height="6.5" fill="#0c38c0"/>
<rect x="122" y="168" width="12.5" height="6.5" fill="#0c30c0"/>
<rect x="134" y="168" width="6.5" height="6.5" fill="#0c2cc0"/>
<rect x="140" y="168" width="12.5" height="6.5" fill="#0828c0"/>
<rect x="152" y="168" width="36.5" height="6.5" fill="#0828bc"/>
<rect x="188" y="168" width="12.5" height="6.5" fill="#082cc0"/>
<rect x="200" y="168" width="6.5" height="6.5" fill="#0830c0"/>
<rect x="206" y="168" width="6.5" height="6.5" fill="#0c34c0"/>
<rect x="212" y="168" width="6.5" height="6.5" fill="#0c38c0"/>
<rect x="218" y="168" width="6.5" height="6.5" fill="#0c3cc0"/>
<rect x="224" y="168" width="6.5" height="6.5" fill="#0c44c0"/>
<rect x="230" y="168" width="6.5" height="6.5" fill="#0c48c0"/>
<rect x="236" y="168" width="6.5" height="6.5" fill="#0c4cc0"/>
<rect x="242" y="168" width="6.5" height="6.5" fill="#0c50c0"/>
<rect x="248" y="168" width="6.5" height="6.5" fill="#0c58bc"/>
<rect x="254" y="168" width="6.5" height="6.5" fill="#0c5cb8"/>
<rect x="260" y="168" width="6.5" height="6.5" fill="#0c60b4"/>
<rect x="266" y="168" width="6.5" height="6.5" fill="#0c64b0"/>
<rect x="272" y="168" width="6.5" height="6.5" fill="#0c60ac"/>
<rect x="56" y="174" width="6.5" height="6.5" fill="#0c6ca8"/>
<rect x="62" y="174" width="6.5" height="6.5" fill="#0c68a8"/>
<rect x="68" y="174" width="12.5" height="6.5" fill="#0c68ac"/>
<rect x="80" y="174" width="6.5" height="6.5" fill="#0c64b0"/>
<rect x="86" y="174" width="6.5" height="6.5" fill="#0c60b0"/>
<rect x="92" y="174" width="6.5" height="6.5" fill="#0c58b4"/>
<rect x="98" y="174" width="6.5" height="6.5" fill="#0c50b8"/>
<rect x="104" y="174" width="6.5" height="6.5" fill="#0c48b8"/>
<rect x="110" y="174" width="6.5" height="6.5" fill="#0c40bc"/>
<rect x="116" y="174" width="6.5" height="6.5" fill="#0c38c0"/>
<rect x="122" y="174" width="6.5" height="6.5" fill="#0c34c0"/>
<rect x="128" y="174" width="6.5" height="6.5" fill="#0c30c0"/>
<rect x="134" y="174" width="6.5" height="6.5" fill="#082cc0"/>
<rect x="140" y="174" width="12.5" height="6.5" fill="#0828c0"/>
<rect x="152" y="174" width="12.5" height="6.5" fill="#0828bc"/>
<rect x="164" y="174" width="12.5" height="6.5" fill="#0824b8"/>
<rect x="176" y="174" width="6.5" height="6.5" fill="#0828b8"/>
<rect x="182" y="174" width="6.5" height="6.5" fill="#0828bc"/>
<rect x="188" y="174" width="6.5" height="6.5" fill="#082cbc"/>
<rect x="194" y="174" width="6.5" height="6.5" fill="#082cc0"/>
<rect x="200" y="174" width="6.5" height="6.5" fill="#0830c0"/>
<rect x="206" y="174" width="6.5" height="6.5" fill="#0c34c0"/>
<rect x="212" y="174" width="6.5" height="6.5" fill="#0c38c0"/>
<rect x="218" y="174" width="6.5" height="6.5" fill="#0c40c0"/>
<rect x="224" y="174" width="6.5" height="6.5" fill="#0c44c0"/>
<rect x="230" y="174" width="6.5" height="6.5" fill="#0c4cc0"/>
<rect x="236" y="174" width="6.5" height="6.5" fill="#0c50c0"/>
<rect x="242" y="174" width="6.5" height="6.5" fill="#0c54c0"/>
<rect x="248" y="174" width="6.5" height="6.5" fill="#0c58bc"/>
<rect x="254" y="174" width="6.5" height="6.5" fill="#0c60bc"/>
<rect x="260" y="174" width="12.5" height="6.5" fill="#0c68b8"/>
<rect x="272" y="174" width="6.5" height="6.5" fill="#0c64b4"/>
<rect x="56" y="180" width="24.5" height="6.5" fill="#0c6cac"/>
<rect x="80" y="180" width="6.5" height="6.5" fill="#0c68b0"/>
<rect x="86" y="180" width="6.5" height="6.5" fill="#0c64b0"/>
<rect x="92" y="180" width="6.5" height="6.5" fill="#0c5cb4"/>
<rect x="98" y="180" width="6.5" height="6.5" fill="#0c54b8"/>
<rect x="104" y="180" width="6.5" height="6.5" fill="#0c4cb8"/>
<rect x="110" y="180" width="6.5" height="6.5" fill="#0c44bc"/>
<rect x="116" y="180" width="6.5" height="6.5" fill="#0c3cc0"/>
<rect x="122" y="180" width="6.5" height="6.5" fill="#0c34c0"/>
<rect x="128" y="180" width="6.5" height="6.5" fill="#0c30c0"/>
<rect x="134" y="180" width="12.5" height="6.5" fill="#082cc0"/>
<rect x="146" y="180" width="12.5" height="6.5" fill="#0828bc"/>
<rect x="158" y="180" width="24.5" height="6.5" fill="#0824b8"/>
<rect x="182" y="180" width="6.5" height="6.5" fill="#0828b8"/>
<rect x="188" y="180" width="6.5" height="6.5" fill="#0828bc"/>
<rect x="194" y="180" width="6.5" height="6.5" fill="#082cbc"/>
<rect x="200" y="180" width="6.5" height="6.5" fill="#0830c0"/>
<rect x="206" y="180" width="6.5" height="6.5" fill="#0c34c0"/>
<rect x="212" y="180" width="6.5" height="6.5" fill="#0c38c0"/>
<rect x="218" y="180" width="6.5" height="6.5" fill="#0c40c0"/>
<rect x="224" y="180" width="6.5" height="6.5" fill="#0c48c0"/>
<rect x="230" y="180" width="6.5" height="6.5" fill="#0c4cc0"/>
<rect x="236" y="180" width="6.5" height="6.5" fill="#0c54c0"/>
<rect x="242" y="180" width="6.5" height="6.5" fill="#0c58c0"/>
<rect x="248" y="180" width="6.5" height="6.5" fill="#0c5cc0"/>
<rect x="254" y="180" width="6.5" height="6.5" fill="#0c64bc"/>
<rect x="260" y="180" width="6.5" height="6.5" fill="#0c68bc"/>
<rect x="266" y="180" width="6.5" height="6.5" fill="#0c6cbc"/>
<rect x="272" y="180" width="6.5" height="6.5" fill="#0c6cb8"/>
<rect x="56" y="186" width="18.5" height="6.5" fill="#0c70ac"/>
<rect x="74" y="186" width="12.5" height="6.5" fill="#0c6cb0"/>
<rect x="86" y="186" width="6.5" height="6.5" fill="#0c68b0"/>
<rect x="92" y="186" width="6.5" height="6.5" fill="#0c64b4"/>
<rect x="98" y="186" width="6.5" height="6.5" fill="#0c5cb8"/>
<rect x="104" y="186" width="6.5" height="6.5" fill="#0c50b8"/>
<rect x="110" y="186" width="6.5" height="6.5" fill="#0c48bc"/>
<rect x="116" y="186" width="6.5" height="6.5" fill="#0c40bc"/>
<rect x="122" y="186" width="6.5" height="6.5" fill="#0c38c0"/>
<rect x="128" y="186" width="6.5" height="6.5" fill="#0c34c0"/>
<rect x="134" y="186" width="6.5" height="6.5" fill="#0830c0"/>
<rect x="140" y="186" width="6.5" height="6.5" fill="#082cc0"/>
<rect x="146" y="186" width="6.5" height="6.5" fill="#0828bc"/>
<rect x="152" y="186" width="12.5" height="6.5" fill="#0828b8"/>
<rect x="164" y="186" width="18.5" height="6.5" fill="#0824b4"/>
<rect x="182" y="186" width="6.5" height="6.5" fill="#0828b8"/>
<rect x="188" y="186" width="6.5" height="6.5" fill="#0828bc"/>
<rect x="194" y="186" width="6.5" height="6.5" fill="#082cbc"/>
<rect x="200" y="186" width="6.5" height="6.5" fill="#0830c0"/>
<rect x="206" y="186" width="6.5" height="6.5" fill="#0c34c0"/>
<rect x="212" y="186" width="6.5" height="6.5" fill="#0c3cc0"/>
<rect x="218" y="186" width="6.5" height="6.5" fill="#0c44c0"/>
<rect x="224" y="186" width="6.5" height="6.5" fill="#0c4cc0"/>
<rect x="230" y="186" width="6.5" height="6.5" fill="#0c54c0"/>
<rect x="236" y="186" width="6.5" height="6.5" fill="#0c58c0"/>
<rect x="242" y="186" width="6.5" height="6.5" fill="#0c5cc0"/>
<rect x="248" y="186" width="6.5" height="6.5" fill="#0c64c0"/>
<rect x="254" y="186" width="6.5" height="6.5" fill="#0c6cc0"/>
<rect x="260" y="186" width="6.5" height="6.5" fill="#0c70bc"/>
<rect x="266" y="186" width="6.5" height="6.5" fill="#0c74bc"/>
<rect x="272" y="186" width="6.5" height="6.5" fill="#0c78bc"/>
<rect x="56" y="192" width="18.5" height="6.5" fill="#0c74b0"/>
<rect x="74" y="192" width="12.5" height="6.5" fill="#0c70b0"/>
<rect x="86" y="192" width="6.5" height="6.5" fill="#0c6cb4"/>
<rect x="92" y="192" width="6.5" height="6.5" fill="#0c68b4"/>
<rect x="98" y="192" width="6.5" height="6.5" fill="#0c60b8"/>
<rect x="104" y="192" width="6.5" height="6.5" fill="#0c54b8"/>
<rect x="110" y="192" width="6.5" height="6.5" fill="#0c4cbc"/>
<rect x="116" y="192" width="6.5" height="6.5" fill="#0c44bc"/>
<rect x="122" y="192" width="6.5" height="6.5" fill="#0c3cc0"/>
<rect x="128" y="192" width="6.5" height="6.5" fill="#0c38c0"/>
<rect x="134" y="192" width="6.5" height="6.5" fill="#0c34c0"/>
<rect x="140" y="192" width="6.5" height="6.5" fill="#0830c0"/>
<rect x="146" y="192" width="6.5" height="6.5" fill="#082cbc"/>
<rect x="152" y="192" width="6.5" height="6.5" fill="#0828bc"/>
<rect x="158" y="192" width="6.5" height="6.5" fill="#0828b8"/>
<rect x="164" y="192" width="18.5" height="6.5" fill="#0824b4"/>
<rect x="182" y="192" width="6.5" height="6.5" fill="#0828b8"/>
<rect x="188" y="192" width="6.5" height="6.5" fill="#082cbc"/>
<rect x="194" y="192" width="6.5" height="6.5" fill="#0830bc"/>
<rect x="200" y="192" width="6.5" height="6.5" fill="#0c30c0"/>
<rect x="206" y="192" width="6.5" height="6.5" fill="#0c38c0"/>
<rect x="212" y="192" width="6.5" height="6.5" fill="#0c3cc0"/>
<rect x="218" y="192" width="6.5" height="6.5" fill="#0c48c0"/>
<rect x="224" y="192" width="6.5" height="6.5" fill="#0c50c0"/>
<rect x="230" y="192" width="6.5" height="6.5" fill="#0c58c0"/>
<rect x="236" y="192" width="6.5" height="6.5" fill="#0c60c0"/>
<rect x="242" y="192" width="6.5" height="6.5" fill="#0c68c0"/>
<rect x="248" y="192" width="6.5" height="6.5" fill="#0c6cc0"/>
<rect x="254" y="192" width="6.5" height="6.5" fill="#0c74c0"/>
<rect x="260" y="192" width="6.5" height="6.5" fill="#0c7cc0"/>
<rect x="266" y="192" width="12.5" height="6.5" fill="#0c80c0"/>
<rect x="56" y="198" width="12.5" height="6.5" fill="#0c78b0"/>
<rect x="68" y="198" width="12.5" height="6.5" fill="#0c74b0"/>
<rect x="80" y="198" width="6.5" height="6.5" fill="#0c70b0"/>
<rect x="86" y="198" width="6.5" height="6.5" fill="#0c6cb4"/>
<rect x="92" y="198" width="6.5" height="6.5" fill="#0c68b4"/>
<rect x="98" y="198" width="6.5" height="6.5" fill="#0c60b8"/>
<rect x="104" y="198" width="6.5" height="6.5" fill="#0c58b8"/>
<rect x="110" y="198" width="6.5" height="6.5" fill="#0c4cbc"/>
<rect x="116" y="198" width="6.5" height="6.5" fill="#0c44bc"/>
<rect x="122" y="198" width="6.5" height="6.5" fill="#0c40c0"/>
<rect x="128" y="198" width="6.5" height="6.5" fill="#0c3cc0"/>
<rect x="134" y="198" width="6.5" height="6.5" fill="#0c34c0"/>
<rect x="140" y="198" width="6.5" height="6.5" fill="#0830c0"/>
<rect x="146" y="198" width="6.5" height="6.5" fill="#0830bc"/>
<rect x="152" y="198" width="6.5" height="6.5" fill="#082cbc"/>
<rect x="158" y="198" width="6.5" height="6.5" fill="#082cb8"/>
<rect x="164" y="198" width="18.5" height="6.5" fill="#0828b8"/>
<rect x="182" y="198" width="6.5" height="6.5" fill="#082cb8"/>
<rect x="188" y="198" width="6.5" height="6.5" fill="#082cbc"/>
<rect x="194" y="198" width="6.5" height="6.5" fill="#0830bc"/>
<rect x="200" y="198" width="6.5" height="6.5" fill="#0c34c0"/>
<rect x="206" y="198" width="6.5" height="6.5" fill="#0c38c0"/>
<rect x="212" y="198" width="6.5" height="6.5" fill="#0c40c0"/>
<rect x="218" y="198" width="6.5" height="6.5" fill="#0c4cc0"/>
<rect x="224" y="198" width="6.5" height="6.5" fill="#0c58c0"/>
<rect x="230" y="198" width="6.5" height="6.5" fill="#0c60c0"/>
<rect x="236" y="198" width="6.5" height="6.5" fill="#0c64c0"/>
<rect x="242" y="198" width="6.5" height="6.5" fill="#0c6cc0"/>
<rect x="248" y="198" width="6.5" height="6.5" fill="#0c78c0"/>
<rect x="254" y="198" width="6.5" height="6.5" fill="#0c7cc0"/>
<rect x="260" y="198" width="12.5" height="6.5" fill="#0c84c0"/>
<rect x="272" y="198" width="12.5" height="6.5" fill="#0c88c0"/>
<rect x="56" y="204" width="18.5" height="6.5" fill="#0c78b0"/>
<rect x="74" y="204" width="6.5" height="6.5" fill="#0c74b0"/>
<rect x="80" y="204" width="6.5" height="6.5" fill="#0c70b4"/>
<rect x="86" y="204" width="6.5" height="6.5" fill="#0c6cb4"/>
<rect x="92" y="204" width="6.5" height="6.5" fill="#0c68b4"/>
<rect x="98" y="204" width="6.5" height="6.5" fill="#0c60b8"/>
<rect x="104" y="204" width="6.5" height="6.5" fill="#0c58b8"/>
<rect x="110" y="204" width="6.5" height="6.5" fill="#0c50bc"/>
<rect x="116" y="204" width="6.5" height="6.5" fill="#0c48bc"/>
<rect x="122" y="204" width="6.5" height="6.5" fill="#0c44bc"/>
<rect x="128" y="204" width="6.5" height="6.5" fill="#0c40c0"/>
<rect x="134" y="204" width="12.5" height="6.5" fill="#0c38c0"/>
<rect x="146" y="204" width="6.5" height="6.5" fill="#0834c0"/>
<rect x="152" y="204" width="12.5" height="6.5" fill="#0830bc"/>
<rect x="164" y="204" width="6.5" height="6.5" fill="#082cbc"/>
<rect x="170" y="204" width="6.5" height="6.5" fill="#082cb8"/>
<rect x="176" y="204" width="6.5" height="6.5" fill="#082cbc"/>
<rect x="182" y="204" width="6.5" height="6.5" fill="#0830bc"/>
<rect x="188" y="204" width="6.5" height="6.5" fill="#0c34bc"/>
<rect x="194" y="204" width="12.5" height="6.5" fill="#0c38c0"/>
<rect x="206" y="204" width="6.5" height="6.5" fill="#0c40c0"/>
<rect x="212" y="204" width="6.5" height="6.5" fill="#0c48c0"/>
<rect x="218" y="204" width="6.5" height="6.5" fill="#0c50c0"/>
<rect x="224" y="204" width="6.5" height="6.5" fill="#0c5cc0"/>
<rect x="230" y="204" width="6.5" height="6.5" fill="#0c64c0"/>
<rect x="236" y="204" width="6.5" height="6.5" fill="#0c6cc0"/>
<rect x="242" y="204" width="6.5" height="6.5" fill="#0c74c0"/>
<rect x="248" y="204" width="6.5" height="6.5" fill="#0c7cc0"/>
<rect x="254" y="204" width="6.5" height="6.5" fill="#0c84c0"/>
<rect x="260" y="204" width="6.5" height="6.5" fill="#0c88c0"/>
<rect x="266" y="204" width="18.5" height="6.5" fill="#0c8cc0"/>
<rect x="50" y="210" width="6.5" height="6.5" fill="#0c80b4"/>
<rect x="56" y="210" width="6.5" height="6.5" fill="#0c7cb4"/>
<rect x="62" y="210" width="6.5" height="6.5" fill="#0c7cb0"/>
<rect x="68" y="210" width="6.5" height="6.5" fill="#0c78b0"/>
<rect x="74" y="210" width="6.5" height="6.5" fill="#0c78b4"/>
<rect x="80" y="210" width="6.5" height="6.5" fill="#0c74b4"/>
<rect x="86" y="210" width="6.5" height="6.5" fill="#0c70b4"/>
<rect x="92" y="210" width="6.5" height="6.5" fill="#0c6cb8"/>
<rect x="98" y="210" width="6.5" height="6.5" fill="#0c64b8"/>
<rect x="104" y="210" width="6.5" height="6.5" fill="#0c58b8"/>
<rect x="110" y="210" width="6.5" height="6.5" fill="#0c50bc"/>
<rect x="116" y="210" width="6.5" height="6.5" fill="#0c4cbc"/>
<rect x="122" y="210" width="6.5" height="6.5" fill="#0c48bc"/>
<rect x="128" y="210" width="6.5" height="6.5" fill="#0c44bc"/>
<rect x="134" y="210" width="6.5" height="6.5" fill="#0c40c0"/>
<rect x="140" y="210" width="6.5" height="6.5" fill="#0c3cc0"/>
<rect x="146" y="210" width="12.5" height="6.5" fill="#0c38c0"/>
<rect x="158" y="210" width="24.5" height="6.5" fill="#0c34bc"/>
<rect x="182" y="210" width="6.5" height="6.5" fill="#0c38bc"/>
<rect x="188" y="210" width="6.5" height="6.5" fill="#0c3cc0"/>
<rect x="194" y="210" width="6.5" height="6.5" fill="#0c40c0"/>
<rect x="200" y="210" width="6.5" height="6.5" fill="#0c44c0"/>
<rect x="206" y="210" width="6.5" height="6.5" fill="#0c48c0"/>
<rect x="212" y="210" width="6.5" height="6.5" fill="#0c50c0"/>
<rect x="218" y="210" width="6.5" height="6.5" fill="#0c58c0"/>
<rect x="224" y="210" width="6.5" height="6.5" fill="#0c64c0"/>
<rect x="230" y="210" width="6.5" height="6.5" fill="#0c6cc4"/>
<rect x="236" y="210" width="6.5" height="6.5" fill="#0c74c4"/>
<rect x="242" y="210" width="6.5" height="6.5" fill="#0c7cc4"/>
<rect x="248" y="210" width="6.5" height="6.5" fill="#1084c4"/>
<rect x="254" y="210" width="6.5" height="6.5" fill="#108cc4"/>
<rect x="260" y="210" width="18.5" height="6.5" fill="#1090c4"/>
<rect x="278" y="210" width="6.5" height="6.5" fill="#1094c4"/>
<rect x="44" y="216" width="12.5" height="6.5" fill="#0c84b4"/>
<rect x="56" y="216" width="12.5" height="6.5" fill="#0c80b4"/>
<rect x="68" y="216" width="18.5" height="6.5" fill="#0c7cb4"/>
<rect x="86" y="216" width="6.5" height="6.5" fill="#1078b8"/>
<rect x="92" y="216" width="6.5" height="6.5" fill="#1074bc"/>
<rect x="98" y="216" width="6.5" height="6.5" fill="#0c68bc"/>
<rect x="104" y="216" width="6.5" height="6.5" fill="#0c60bc"/>
<rect x="110" y="216" width="6.5" height="6.5" fill="#0c54bc"/>
<rect x="116" y="216" width="6.5" height="6.5" fill="#0c50bc"/>
<rect x="122" y="216" width="6.5" height="6.5" fill="#0c4cbc"/>
<rect x="128" y="216" width="6.5" height="6.5" fill="#0c48bc"/>
<rect x="134" y="216" width="6.5" height="6.5" fill="#0c44c0"/>
<rect x="140" y="216" width="24.5" height="6.5" fill="#0c40c0"/>
<rect x="164" y="216" width="12.5" height="6.5" fill="#0c3cc0"/>
<rect x="176" y="216" width="12.5" height="6.5" fill="#0c40c0"/>
<rect x="188" y="216" width="6.5" height="6.5" fill="#0c44c0"/>
<rect x="194" y="216" width="6.5" height="6.5" fill="#0c4cc0"/>
<rect x="200" y="216" width="6.5" height="6.5" fill="#0c50c0"/>
<rect x="206" y="216" width="6.5" height="6.5" fill="#0c54c0"/>
<rect x="212" y="216" width="6.5" height="6.5" fill="#0c5cc0"/>
<rect x="218" y="216" width="6.5" height="6.5" fill="#0c64c4"/>
<rect x="224" y="216" width="6.5" height="6.5" fill="#0c70c4"/>
<rect x="230" y="216" width="6.5" height="6.5" fill="#1078c4"/>
<rect x="236" y="216" width="6.5" height="6.5" fill="#107cc4"/>
<rect x="242" y="216" width="6.5" height="6.5" fill="#1084c4"/>
<rect x="248" y="216" width="6.5" height="6.5" fill="#108cc4"/>
<rect x="254" y="216" width="6.5" height="6.5" fill="#1094c4"/>
<rect x="260" y="216" width="18.5" height="6.5" fill="#1498c4"/>
<rect x="278" y="216" width="6.5" height="6.5" fill="#149cc4"/>
<rect x="44" y="222" width="12.5" height="6.5" fill="#0c84b8"/>
<rect x="56" y="222" width="18.5" height="6.5" fill="#0c84b4"/>
<rect x="74" y="222" width="6.5" height="6.5" fill="#1084b8"/>
<rect x="80" y="222" width="6.5" height="6.5" fill="#108cbc"/>
<rect x="86" y="222" width="6.5" height="6.5" fill="#1494c0"/>
<rect x="92" y="222" width="6.5" height="6.5" fill="#1490c4"/>
<rect x="98" y="222" width="6.5" height="6.5" fill="#1484c0"/>
<rect x="104" y="222" width="6.5" height="6.5" fill="#1070c0"/>
<rect x="110" y="222" width="6.5" height="6.5" fill="#0c60bc"/>
<rect x="116" y="222" width="6.5" height="6.5" fill="#0c5cbc"/>
<rect x="122" y="222" width="6.5" height="6.5" fill="#0c58bc"/>
<rect x="128" y="222" width="6.5" height="6.5" fill="#0c50bc"/>
<rect x="134" y="222" width="6.5" height="6.5" fill="#0c4cc0"/>
<rect x="140" y="222" width="42.5" height="6.5" fill="#0c48c0"/>
<rect x="182" y="222" width="6.5" height="6.5" fill="#0c4cc0"/>
<rect x="188" y="222" width="6.5" height="6.5" fill="#0c50c0"/>
<rect x="194" y="222" width="6.5" height="6.5" fill="#0c54c0"/>
<rect x="200" y="222" width="6.5" height="6.5" fill="#0c58c0"/>
<rect x="206" y="222" width="6.5" height="6.5" fill="#0c60c0"/>
<rect x="212" y="222" width="6.5" height="6.5" fill="#0c64c4"/>
<rect x="218" y="222" width="6.5" height="6.5" fill="#0c70c4"/>
<rect x="224" y="222" width="6.5" height="6.5" fill="#107cc4"/>
<rect x="230" y="222" width="6.5" height="6.5" fill="#1080c4"/>
<rect x="236" y="222" width="6.5" height="6.5" fill="#1088c4"/>
<rect x="242" y="222" width="6.5" height="6.5" fill="#108cc4"/>
<rect x="248" y="222" width="6.5" height="6.5" fill="#1494c4"/>
<rect x="254" y="222" width="6.5" height="6.5" fill="#149cc4"/>
<rect x="260" y="222" width="6.5" height="6.5" fill="#149cc8"/>
<rect x="266" y="222" width="18.5" height="6.5" fill="#14a0c8"/>
<rect x="44" y="228" width="18.5" height="6.5" fill="#0c84b4"/>
<rect x="62" y="228" width="6.5" height="6.5" fill="#0c84b8"/>
<rect x="68" y="228" width="6.5" height="6.5" fill="#0c88b8"/>
<rect x="74" y="228" width="6.5" height="6.5" fill="#1090bc"/>
<rect x="80" y="228" width="6.5" height="6.5" fill="#18a0c4"/>
<rect x="86" y="228" width="12.5" height="6.5" fill="#1ca8c8"/>
<rect x="98" y="228" width="6.5" height="6.5" fill="#18a0c8"/>
<rect x="104" y="228" width="6.5" height="6.5" fill="#148cc4"/>
<rect x="110" y="228" width="6.5" height="6.5" fill="#107cc0"/>
<rect x="116" y="228" width="6.5" height="6.5" fill="#106cc0"/>
<rect x="122" y="228" width="6.5" height="6.5" fill="#1068c0"/>
<rect x="128" y="228" width="6.5" height="6.5" fill="#0c60c0"/>
<rect x="134" y="228" width="6.5" height="6.5" fill="#0c58c0"/>
<rect x="140" y="228" width="6.5" height="6.5" fill="#0c54c0"/>
<rect x="146" y="228" width="42.5" height="6.5" fill="#0c50c0"/>
<rect x="188" y="228" width="6.5" height="6.5" fill="#0c54c0"/>
<rect x="194" y="228" width="6.5" height="6.5" fill="#0c5cc0"/>
<rect x="200" y="228" width="6.5" height="6.5" fill="#0c60c0"/>
<rect x="206" y="228" width="6.5" height="6.5" fill="#0c64c0"/>
<rect x="212" y="228" width="6.5" height="6.5" fill="#0c6cc4"/>
<rect x="218" y="228" width="6.5" height="6.5" fill="#1078c4"/>
<rect x="224" y="228" width="6.5" height="6.5" fill="#1080c8"/>
<rect x="230" y="228" width="6.5" height="6.5" fill="#1088c8"/>
<rect x="236" y="228" width="6.5" height="6.5" fill="#1090c8"/>
<rect x="242" y="228" width="6.5" height="6.5" fill="#1494c8"/>
<rect x="248" y="228" width="6.5" height="6.5" fill="#149cc8"/>
<rect x="254" y="228" width="6.5" height="6.5" fill="#14a0c8"/>
<rect x="260" y="228" width="24.5" height="6.5" fill="#18a4c8"/>
<rect x="44" y="234" width="24.5" height="6.5" fill="#0c84b4"/>
<rect x="68" y="234" width="6.5" height="6.5" fill="#0c88b8"/>
<rect x="74" y="234" width="6.5" height="6.5" fill="#1094bc"/>
<rect x="80" y="234" width="6.5" height="6.5" fill="#18a8c4"/>
<rect x="86" y="234" width="6.5" height="6.5" fill="#1cb0cc"/>
<rect x="92" y="234" width="6.5" height="6.5" fill="#1cb4cc"/>
<rect x="98" y="234" width="6.5" height="6.5" fill="#1caccc"/>
<rect x="104" y="234" width="6.5" height="6.5" fill="#18a0c8"/>
<rect x="110" y="234" width="6.5" height="6.5" fill="#1494c8"/>
<rect x="116" y="234" width="6.5" height="6.5" fill="#1488c4"/>
<rect x="122" y="234" width="6.5" height="6.5" fill="#107cc4"/>
<rect x="128" y="234" width="6.5" height="6.5" fill="#1074c4"/>
<rect x="134" y="234" width="6.5" height="6.5" fill="#0c68c4"/>
<rect x="140" y="234" width="6.5" height="6.5" fill="#0c60c4"/>
<rect x="146" y="234" width="6.5" height="6.5" fill="#0c5cc4"/>
<rect x="152" y="234" width="12.5" height="6.5" fill="#0c58c4"/>
<rect x="164" y="234" width="24.5" height="6.5" fill="#0c54c4"/>
<rect x="188" y="234" width="6.5" height="6.5" fill="#0c58c4"/>
<rect x="194" y="234" width="6.5" height="6.5" fill="#0c5cc4"/>
<rect x="200" y="234" width="6.5" height="6.5" fill="#0c60c4"/>
<rect x="206" y="234" width="6.5" height="6.5" fill="#0c68c4"/>
<rect x="212" y="234" width="6.5" height="6.5" fill="#0c70c4"/>
<rect x="218" y="234" width="6.5" height="6.5" fill="#107cc8"/>
<rect x="224" y="234" width="6.5" height="6.5" fill="#1084c8"/>
<rect x="230" y="234" width="6.5" height="6.5" fill="#108cc8"/>
<rect x="236" y="234" width="6.5" height="6.5" fill="#1490c8"/>
<rect x="242" y="234" width="6.5" height="6.5" fill="#1498c8"/>
<rect x="248" y="234" width="6.5" height="6.5" fill="#149cc8"/>
<rect x="254" y="234" width="6.5" height="6.5" fill="#18a0c8"/>
<rect x="260" y="234" width="24.5" height="6.5" fill="#18a4c8"/>
<rect x="44" y="240" width="18.5" height="6.5" fill="#0c80b0"/>
<rect x="62" y="240" width="12.5" height="6.5" fill="#0c84b4"/>
<rect x="74" y="240" width="6.5" height="6.5" fill="#1090bc"/>
<rect x="80" y="240" width="6.5" height="6.5" fill="#18a0c4"/>
<rect x="86" y="240" width="6.5" height="6.5" fill="#1cacc8"/>
<rect x="92" y="240" width="12.5" height="6.5" fill="#1cb0cc"/>
<rect x="104" y="240" width="6.5" height="6.5" fill="#18a8cc"/>
<rect x="110" y="240" width="6.5" height="6.5" fill="#18a0c8"/>
<rect x="116" y="240" width="6.5" height="6.5" fill="#1498c8"/>
<rect x="122" y="240" width="6.5" height="6.5" fill="#1490c8"/>
<rect x="128" y="240" width="6.5" height="6.5" fill="#1084c8"/>
<rect x="134" y="240" width="6.5" height="6.5" fill="#1074c4"/>
<rect x="140" y="240" width="6.5" height="6.5" fill="#0c6cc4"/>
<rect x="146" y="240" width="12.5" height="6.5" fill="#0c64c4"/>
<rect x="158" y="240" width="6.5" height="6.5" fill="#0c60c4"/>
<rect x="164" y="240" width="6.5" height="6.5" fill="#0c58c4"/>
<rect x="170" y="240" width="18.5" height="6.5" fill="#0c54c4"/>
<rect x="188" y="240" width="6.5" height="6.5" fill="#0c58c4"/>
<rect x="194" y="240" width="6.5" height="6.5" fill="#0c5cc4"/>
<rect x="200" y="240" width="6.5" height="6.5" fill="#0c60c4"/>
<rect x="206" y="240" width="6.5" height="6.5" fill="#0c64c4"/>
<rect x="212" y="240" width="6.5" height="6.5" fill="#0c70c8"/>
<rect x="218" y="240" width="6.5" height="6.5" fill="#107cc8"/>
<rect x="224" y="240" width="6.5" height="6.5" fill="#1088c8"/>
<rect x="230" y="240" width="6.5" height="6.5" fill="#1490cc"/>
<rect x="236" y="240" width="6.5" height="6.5" fill="#1494cc"/>
<rect x="242" y="240" width="6.5" height="6.5" fill="#1498c8"/>
<rect x="248" y="240" width="6.5" height="6.5" fill="#189cc8"/>
<rect x="254" y="240" width="6.5" height="6.5" fill="#18a0c8"/>
<rect x="260" y="240" width="24.5" height="6.5" fill="#18a4c8"/>
<rect x="44" y="246" width="6.5" height="6.5" fill="#0c7cac"/>
<rect x="50" y="246" width="18.5" height="6.5" fill="#0c80b0"/>
<rect x="68" y="246" width="6.5" height="6.5" fill="#0c84b0"/>
<rect x="74" y="246" width="6.5" height="6.5" fill="#1088b8"/>
<rect x="80" y="246" width="6.5" height="6.5" fill="#1494bc"/>
<rect x="86" y="246" width="6.5" height="6.5" fill="#18a0c4"/>
<rect x="92" y="246" width="18.5" height="6.5" fill="#18a8c8"/>
<rect x="110" y="246" width="6.5" height="6.5" fill="#18a0c8"/>
<rect x="116" y="246" width="6.5" height="6.5" fill="#149cc8"/>
<rect x="122" y="246" width="6.5" height="6.5" fill="#1494c8"/>
<rect x="128" y="246" width="6.5" height="6.5" fill="#108cc8"/>
<rect x="134" y="246" width="6.5" height="6.5" fill="#107cc8"/>
<rect x="140" y="246" width="6.5" height="6.5" fill="#0c74c8"/>
<rect x="146" y="246" width="6.5" height="6.5" fill="#0c6cc8"/>
<rect x="152" y="246" width="6.5" height="6.5" fill="#0c68c8"/>
<rect x="158" y="246" width="6.5" height="6.5" fill="#0c64c8"/>
<rect x="164" y="246" width="6.5" height="6.5" fill="#0c5cc8"/>
<rect x="170" y="246" width="6.5" height="6.5" fill="#0c54c8"/>
<rect x="176" y="246" width="18.5" height="6.5" fill="#0c54c4"/>
<rect x="194" y="246" width="6.5" height="6.5" fill="#0c58c4"/>
<rect x="200" y="246" width="6.5" height="6.5" fill="#0c5cc8"/>
<rect x="206" y="246" width="6.5" height="6.5" fill="#0c64c8"/>
<rect x="212" y="246" width="6.5" height="6.5" fill="#0c6cc8"/>
<rect x="218" y="246" width="6.5" height="6.5" fill="#107cc8"/>
<rect x="224" y="246" width="6.5" height="6.5" fill="#1488cc"/>
<rect x="230" y="246" width="6.5" height="6.5" fill="#1490cc"/>
<rect x="236" y="246" width="6.5" height="6.5" fill="#1494cc"/>
<rect x="242" y="246" width="6.5" height="6.5" fill="#1898cc"/>
<rect x="248" y="246" width="6.5" height="6.5" fill="#189cc8"/>
<rect x="254" y="246" width="12.5" height="6.5" fill="#18a0c8"/>
<rect x="266" y="246" width="12.5" height="6.5" fill="#18a4c8"/>
<rect x="278" y="246" width="6.5" height="6.5" fill="#18a0c8"/>
<rect x="44" y="252" width="18.5" height="6.5" fill="#0c7cac"/>
<rect x="62" y="252" width="12.5" height="6.5" fill="#0c80b0"/>
<rect x="74" y="252" width="6.5" height="6.5" fill="#0c84b4"/>
<rect x="80" y="252" width="6.5" height="6.5" fill="#108cb8"/>
<rect x="86" y="252" width="6.5" height="6.5" fill="#1094c0"/>
<rect x="92" y="252" width="6.5" height="6.5" fill="#1498c4"/>
<rect x="98" y="252" width="12.5" height="6.5" fill="#149cc4"/>
<rect x="110" y="252" width="6.5" height="6.5" fill="#149cc8"/>
<rect x="116" y="252" width="6.5" height="6.5" fill="#1498c8"/>
<rect x="122" y="252" width="6.5" height="6.5" fill="#1494c8"/>
<rect x="128" y="252" width="6.5" height="6.5" fill="#108cc8"/>
<rect x="134" y="252" width="6.5" height="6.5" fill="#1080c8"/>
<rect x="140" y="252" width="6.5" height="6.5" fill="#1074c8"/>
<rect x="146" y="252" width="6.5" height="6.5" fill="#0c70c8"/>
<rect x="152" y="252" width="6.5" height="6.5" fill="#0c6cc8"/>
<rect x="158" y="252" width="6.5" height="6.5" fill="#0c68c8"/>
<rect x="164" y="252" width="6.5" height="6.5" fill="#0c60c8"/>
<rect x="170" y="252" width="6.5" height="6.5" fill="#0c58c8"/>
<rect x="176" y="252" width="18.5" height="6.5" fill="#0c54c8"/>
<rect x="194" y="252" width="6.5" height="6.5" fill="#0c58c8"/>
<rect x="200" y="252" width="6.5" height="6.5" fill="#0c5cc8"/>
<rect x="206" y="252" width="6.5" height="6.5" fill="#0c64c8"/>
<rect x="212" y="252" width="6.5" height="6.5" fill="#106cc8"/>
<rect x="218" y="252" width="6.5" height="6.5" fill="#107ccc"/>
<rect x="224" y="252" width="6.5" height="6.5" fill="#1488cc"/>
<rect x="230" y="252" width="6.5" height="6.5" fill="#1490cc"/>
<rect x="236" y="252" width="6.5" height="6.5" fill="#1898cc"/>
<rect x="242" y="252" width="12.5" height="6.5" fill="#189ccc"/>
<rect x="254" y="252" width="30.5" height="6.5" fill="#18a0c8"/>
<rect x="44" y="258" width="24.5" height="6.5" fill="#0c7cac"/>
<rect x="68" y="258" width="6.5" height="6.5" fill="#0c80b0"/>
<rect x="74" y="258" width="6.5" height="6.5" fill="#0c84b4"/>
<rect x="80" y="258" width="6.5" height="6.5" fill="#1088b8"/>
<rect x="86" y="258" width="6.5" height="6.5" fill="#108cbc"/>
<rect x="92" y="258" width="6.5" height="6.5" fill="#1090c0"/>
<rect x="98" y="258" width="6.5" height="6.5" fill="#1094c0"/>
<rect x="104" y="258" width="12.5" height="6.5" fill="#1094c4"/>
<rect x="116" y="258" width="6.5" height="6.5" fill="#1090c4"/>
<rect x="122" y="258" width="6.5" height="6.5" fill="#108cc4"/>
<rect x="128" y="258" width="6.5" height="6.5" fill="#1088c4"/>
<rect x="134" y="258" width="6.5" height="6.5" fill="#1080c8"/>
<rect x="140" y="258" width="6.5" height="6.5" fill="#1078c8"/>
<rect x="146" y="258" width="6.5" height="6.5" fill="#1074c8"/>
<rect x="152" y="258" width="6.5" height="6.5" fill="#1070c8"/>
<rect x="158" y="258" width="6.5" height="6.5" fill="#0c6cc8"/>
<rect x="164" y="258" width="6.5" height="6.5" fill="#0c60c8"/>
<rect x="170" y="258" width="6.5" height="6.5" fill="#0c5cc8"/>
<rect x="176" y="258" width="24.5" height="6.5" fill="#0c58c8"/>
<rect x="200" y="258" width="6.5" height="6.5" fill="#0c60c8"/>
<rect x="206" y="258" width="6.5" height="6.5" fill="#0c68c8"/>
<rect x="212" y="258" width="6.5" height="6.5" fill="#1070cc"/>
<rect x="218" y="258" width="6.5" height="6.5" fill="#107ccc"/>
<rect x="224" y="258" width="6.5" height="6.5" fill="#148ccc"/>
<rect x="230" y="258" width="6.5" height="6.5" fill="#1894d0"/>
<rect x="236" y="258" width="6.5" height="6.5" fill="#1898cc"/>
<rect x="242" y="258" width="12.5" height="6.5" fill="#189ccc"/>
<rect x="254" y="258" width="30.5" height="6.5" fill="#18a0c8"/>
<rect x="44" y="264" width="24.5" height="6.5" fill="#0c7cac"/>
<rect x="68" y="264" width="6.5" height="6.5" fill="#0c80b0"/>
<rect x="74" y="264" width="6.5" height="6.5" fill="#0c84b4"/>
<rect x="80" y="264" width="6.5" height="6.5" fill="#0c88b8"/>
<rect x="86" y="264" width="6.5" height="6.5" fill="#108cbc"/>
<rect x="92" y="264" width="6.5" height="6.5" fill="#108cc0"/>
<rect x="98" y="264" width="6.5" height="6.5" fill="#1090c0"/>
<rect x="104" y="264" width="18.5" height="6.5" fill="#108cc0"/>
<rect x="122" y="264" width="6.5" height="6.5" fill="#1088c4"/>
<rect x="128" y="264" width="6.5" height="6.5" fill="#1084c4"/>
<rect x="134" y="264" width="6.5" height="6.5" fill="#1080c8"/>
<rect x="140" y="264" width="6.5" height="6.5" fill="#107cc8"/>
<rect x="146" y="264" width="6.5" height="6.5" fill="#107ccc"/>
<rect x="152" y="264" width="6.5" height="6.5" fill="#1078c8"/>
<rect x="158" y="264" width="6.5" height="6.5" fill="#1070c8"/>
<rect x="164" y="264" width="6.5" height="6.5" fill="#0c68c8"/>
<rect x="170" y="264" width="6.5" height="6.5" fill="#1064cc"/>
<rect x="176" y="264" width="6.5" height="6.5" fill="#1068cc"/>
<rect x="182" y="264" width="6.5" height="6.5" fill="#1064cc"/>
<rect x="188" y="264" width="6.5" height="6.5" fill="#0c5cc8"/>
<rect x="194" y="264" width="6.5" height="6.5" fill="#0c60c8"/>
<rect x="200" y="264" width="6.5" height="6.5" fill="#106ccc"/>
<rect x="206" y="264" width="6.5" height="6.5" fill="#1074cc"/>
<rect x="212" y="264" width="6.5" height="6.5" fill="#1078cc"/>
<rect x="218" y="264" width="6.5" height="6.5" fill="#1480cc"/>
<rect x="224" y="264" width="6.5" height="6.5" fill="#148cd0"/>
<rect x="230" y="264" width="6.5" height="6.5" fill="#1894d0"/>
<rect x="236" y="264" width="6.5" height="6.5" fill="#1898cc"/>
<rect x="242" y="264" width="12.5" height="6.5" fill="#189ccc"/>
<rect x="254" y="264" width="30.5" height="6.5" fill="#18a0c8"/>
<rect x="44" y="270" width="18.5" height="6.5" fill="#0c7cac"/>
<rect x="62" y="270" width="12.5" height="6.5" fill="#0c80b0"/>
<rect x="74" y="270" width="6.5" height="6.5" fill="#0c84b4"/>
<rect x="80" y="270" width="6.5" height="6.5" fill="#0c88b8"/>
<rect x="86" y="270" width="12.5" height="6.5" fill="#108cbc"/>
<rect x="98" y="270" width="18.5" height="6.5" fill="#108cc0"/>
<rect x="116" y="270" width="12.5" height="6.5" fill="#1088c0"/>
<rect x="128" y="270" width="6.5" height="6.5" fill="#1084c4"/>
<rect x="134" y="270" width="12.5" height="6.5" fill="#1080c8"/>
<rect x="146" y="270" width="6.5" height="6.5" fill="#1080cc"/>
<rect x="152" y="270" width="6.5" height="6.5" fill="#107ccc"/>
<rect x="158" y="270" width="6.5" height="6.5" fill="#1074c8"/>
<rect x="164" y="270" width="6.5" height="6.5" fill="#106cc8"/>
<rect x="170" y="270" width="18.5" height="6.5" fill="#1070cc"/>
<rect x="188" y="270" width="6.5" height="6.5" fill="#1068cc"/>
<rect x="194" y="270" width="6.5" height="6.5" fill="#0c68cc"/>
<rect x="200" y="270" width="6.5" height="6.5" fill="#1074cc"/>
<rect x="206" y="270" width="6.5" height="6.5" fill="#107ccc"/>
<rect x="212" y="270" width="6.5" height="6.5" fill="#1480cc"/>
<rect x="218" y="270" width="6.5" height="6.5" fill="#1484cc"/>
<rect x="224" y="270" width="6.5" height="6.5" fill="#148cd0"/>
<rect x="230" y="270" width="6.5" height="6.5" fill="#1894d0"/>
<rect x="236" y="270" width="6.5" height="6.5" fill="#1898cc"/>
<rect x="242" y="270" width="12.5" height="6.5" fill="#189ccc"/>
<rect x="254" y="270" width="30.5" height="6.5" fill="#18a0c8"/>
<rect x="44" y="276" width="18.5" height="6.5" fill="#0c7cac"/>
<rect x="62" y="276" width="12.5" height="6.5" fill="#0c80b0"/>
<rect x="74" y="276" width="6.5" height="6.5" fill="#0c84b4"/>
<rect x="80" y="276" width="6.5" height="6.5" fill="#0c84b8"/>
<rect x="86" y="276" width="6.5" height="6.5" fill="#1088bc"/>
<rect x="92" y="276" width="6.5" height="6.5" fill="#108cbc"/>
<rect x="98" y="276" width="18.5" height="6.5" fill="#108cc0"/>
<rect x="116" y="276" width="12.5" height="6.5" fill="#1088c0"/>
<rect x="128" y="276" width="6.5" height="6.5" fill="#1084c4"/>
<rect x="134" y="276" width="12.5" height="6.5" fill="#1080c8"/>
<rect x="146" y="276" width="6.5" height="6.5" fill="#1080cc"/>
<rect x="152" y="276" width="6.5" height="6.5" fill="#107ccc"/>
<rect x="158" y="276" width="6.5" height="6.5" fill="#1078cc"/>
<rect x="164" y="276" width="12.5" height="6.5" fill="#1070cc"/>
<rect x="176" y="276" width="12.5" height="6.5" fill="#1074cc"/>
<rect x="188" y="276" width="12.5" height="6.5" fill="#106ccc"/>
<rect x="200" y="276" width="6.5" height="6.5" fill="#1078cc"/>
<rect x="206" y="276" width="12.5" height="6.5" fill="#1480d0"/>
<rect x="218" y="276" width="6.5" height="6.5" fill="#1484d0"/>
<rect x="224" y="276" width="6.5" height="6.5" fill="#148cd0"/>
<rect x="230" y="276" width="6.5" height="6.5" fill="#1894d0"/>
<rect x="236" y="276" width="6.5" height="6.5" fill="#1898cc"/>
<rect x="242" y="276" width="6.5" height="6.5" fill="#189ccc"/>
<rect x="248" y="276" width="36.5" height="6.5" fill="#18a0c8"/>
</g>
<g filter="url(#bl2)">
<path d="M78,221 Q106,237 152,251" stroke="#18b8d0" stroke-width="13" fill="none" opacity="0.6"/>
<path d="M80,194 Q96,205 114,218" stroke="#0a4c9c" stroke-width="5" fill="none" opacity="0.45"/>
</g>
<g filter="url(#bl1)">
<path d="M69,219 Q71,236 80,243 Q90,249 105,252 Q135,259 165,262" stroke="#0a5080" stroke-width="2.2" fill="none" opacity="0.6"/>
<path d="M165,266 Q190,268 222,266" stroke="#0a48b0" stroke-width="2" fill="none" opacity="0.5"/>
<path d="M252,196 Q258,215 262,240" stroke="#18a8cc" stroke-width="3" fill="none" opacity="0.5"/>
</g>
<g>
<circle cx="118.4" cy="117.6" r="5" fill="#000c50" opacity="0.22" filter="url(#bl1)"/>
<circle cx="118.10000000000001" cy="117.3" r="3" fill="#4a7cff" opacity="0.2" filter="url(#bl05)"/>
<circle cx="118.4" cy="117.6" r="0.9" fill="#020c40" opacity="0.4"/>
<circle cx="144.4" cy="116.5" r="5" fill="#000c50" opacity="0.22" filter="url(#bl1)"/>
<circle cx="144.1" cy="116.2" r="3" fill="#4a7cff" opacity="0.2" filter="url(#bl05)"/>
<circle cx="144.4" cy="116.5" r="0.9" fill="#020c40" opacity="0.4"/>
<circle cx="173.9" cy="117.0" r="5" fill="#000c50" opacity="0.22" filter="url(#bl1)"/>
<circle cx="173.6" cy="116.7" r="3" fill="#4a7cff" opacity="0.2" filter="url(#bl05)"/>
<circle cx="173.9" cy="117.0" r="0.9" fill="#020c40" opacity="0.4"/>
<circle cx="205.6" cy="117.6" r="5" fill="#000c50" opacity="0.22" filter="url(#bl1)"/>
<circle cx="205.29999999999998" cy="117.3" r="3" fill="#4a7cff" opacity="0.2" filter="url(#bl05)"/>
<circle cx="205.6" cy="117.6" r="0.9" fill="#020c40" opacity="0.4"/>
<circle cx="232.0" cy="119.0" r="5" fill="#000c50" opacity="0.22" filter="url(#bl1)"/>
<circle cx="231.7" cy="118.7" r="3" fill="#4a7cff" opacity="0.2" filter="url(#bl05)"/>
<circle cx="232.0" cy="119.0" r="0.9" fill="#020c40" opacity="0.4"/>
<circle cx="250.0" cy="120.0" r="5" fill="#000c50" opacity="0.22" filter="url(#bl1)"/>
<circle cx="249.7" cy="119.7" r="3" fill="#4a7cff" opacity="0.2" filter="url(#bl05)"/>
<circle cx="250.0" cy="120.0" r="0.9" fill="#020c40" opacity="0.4"/>
<circle cx="117.3" cy="146.0" r="5" fill="#000c50" opacity="0.22" filter="url(#bl1)"/>
<circle cx="117.0" cy="145.7" r="3" fill="#4a7cff" opacity="0.2" filter="url(#bl05)"/>
<circle cx="117.3" cy="146.0" r="0.9" fill="#020c40" opacity="0.4"/>
<circle cx="146.0" cy="145.0" r="5" fill="#000c50" opacity="0.22" filter="url(#bl1)"/>
<circle cx="145.7" cy="144.7" r="3" fill="#4a7cff" opacity="0.2" filter="url(#bl05)"/>
<circle cx="146.0" cy="145.0" r="0.9" fill="#020c40" opacity="0.4"/>
<circle cx="173.9" cy="143.7" r="5" fill="#000c50" opacity="0.22" filter="url(#bl1)"/>
<circle cx="173.6" cy="143.39999999999998" r="3" fill="#4a7cff" opacity="0.2" filter="url(#bl05)"/>
<circle cx="173.9" cy="143.7" r="0.9" fill="#020c40" opacity="0.4"/>
<circle cx="202.0" cy="145.0" r="5" fill="#000c50" opacity="0.22" filter="url(#bl1)"/>
<circle cx="201.7" cy="144.7" r="3" fill="#4a7cff" opacity="0.2" filter="url(#bl05)"/>
<circle cx="202.0" cy="145.0" r="0.9" fill="#020c40" opacity="0.4"/>
<circle cx="230.0" cy="146.0" r="5" fill="#000c50" opacity="0.22" filter="url(#bl1)"/>
<circle cx="229.7" cy="145.7" r="3" fill="#4a7cff" opacity="0.2" filter="url(#bl05)"/>
<circle cx="230.0" cy="146.0" r="0.9" fill="#020c40" opacity="0.4"/>
<circle cx="248.0" cy="147.0" r="5" fill="#000c50" opacity="0.22" filter="url(#bl1)"/>
<circle cx="247.7" cy="146.7" r="3" fill="#4a7cff" opacity="0.2" filter="url(#bl05)"/>
<circle cx="248.0" cy="147.0" r="0.9" fill="#020c40" opacity="0.4"/>
<circle cx="118.7" cy="171.0" r="5" fill="#000c50" opacity="0.22" filter="url(#bl1)"/>
<circle cx="118.4" cy="170.7" r="3" fill="#4a7cff" opacity="0.2" filter="url(#bl05)"/>
<circle cx="118.7" cy="171.0" r="0.9" fill="#020c40" opacity="0.4"/>
<circle cx="146.0" cy="173.2" r="5" fill="#000c50" opacity="0.22" filter="url(#bl1)"/>
<circle cx="145.7" cy="172.89999999999998" r="3" fill="#4a7cff" opacity="0.2" filter="url(#bl05)"/>
<circle cx="146.0" cy="173.2" r="0.9" fill="#020c40" opacity="0.4"/>
<circle cx="175.5" cy="173.2" r="5" fill="#000c50" opacity="0.22" filter="url(#bl1)"/>
<circle cx="175.2" cy="172.89999999999998" r="3" fill="#4a7cff" opacity="0.2" filter="url(#bl05)"/>
<circle cx="175.5" cy="173.2" r="0.9" fill="#020c40" opacity="0.4"/>
<circle cx="202.9" cy="177.4" r="5" fill="#000c50" opacity="0.22" filter="url(#bl1)"/>
<circle cx="202.6" cy="177.1" r="3" fill="#4a7cff" opacity="0.2" filter="url(#bl05)"/>
<circle cx="202.9" cy="177.4" r="0.9" fill="#020c40" opacity="0.4"/>
<circle cx="230.3" cy="175.3" r="5" fill="#000c50" opacity="0.22" filter="url(#bl1)"/>
<circle cx="230.0" cy="175.0" r="3" fill="#4a7cff" opacity="0.2" filter="url(#bl05)"/>
<circle cx="230.3" cy="175.3" r="0.9" fill="#020c40" opacity="0.4"/>
<circle cx="247.0" cy="177.4" r="5" fill="#000c50" opacity="0.22" filter="url(#bl1)"/>
<circle cx="246.7" cy="177.1" r="3" fill="#4a7cff" opacity="0.2" filter="url(#bl05)"/>
<circle cx="247.0" cy="177.4" r="0.9" fill="#020c40" opacity="0.4"/>
<circle cx="118.7" cy="196.3" r="5" fill="#000c50" opacity="0.22" filter="url(#bl1)"/>
<circle cx="118.4" cy="196.0" r="3" fill="#4a7cff" opacity="0.2" filter="url(#bl05)"/>
<circle cx="118.7" cy="196.3" r="0.9" fill="#020c40" opacity="0.4"/>
<circle cx="146.0" cy="200.5" r="5" fill="#000c50" opacity="0.22" filter="url(#bl1)"/>
<circle cx="145.7" cy="200.2" r="3" fill="#4a7cff" opacity="0.2" filter="url(#bl05)"/>
<circle cx="146.0" cy="200.5" r="0.9" fill="#020c40" opacity="0.4"/>
<circle cx="175.5" cy="198.4" r="5" fill="#000c50" opacity="0.22" filter="url(#bl1)"/>
<circle cx="175.2" cy="198.1" r="3" fill="#4a7cff" opacity="0.2" filter="url(#bl05)"/>
<circle cx="175.5" cy="198.4" r="0.9" fill="#020c40" opacity="0.4"/>
<circle cx="202.9" cy="202.6" r="5" fill="#000c50" opacity="0.22" filter="url(#bl1)"/>
<circle cx="202.6" cy="202.29999999999998" r="3" fill="#4a7cff" opacity="0.2" filter="url(#bl05)"/>
<circle cx="202.9" cy="202.6" r="0.9" fill="#020c40" opacity="0.4"/>
<circle cx="228.2" cy="200.5" r="5" fill="#000c50" opacity="0.22" filter="url(#bl1)"/>
<circle cx="227.89999999999998" cy="200.2" r="3" fill="#4a7cff" opacity="0.2" filter="url(#bl05)"/>
<circle cx="228.2" cy="200.5" r="0.9" fill="#020c40" opacity="0.4"/>
<circle cx="245.0" cy="200.5" r="5" fill="#000c50" opacity="0.22" filter="url(#bl1)"/>
<circle cx="244.7" cy="200.2" r="3" fill="#4a7cff" opacity="0.2" filter="url(#bl05)"/>
<circle cx="245.0" cy="200.5" r="0.9" fill="#020c40" opacity="0.4"/>
<circle cx="120.8" cy="221.6" r="5" fill="#000c50" opacity="0.22" filter="url(#bl1)"/>
<circle cx="120.5" cy="221.29999999999998" r="3" fill="#4a7cff" opacity="0.2" filter="url(#bl05)"/>
<circle cx="120.8" cy="221.6" r="0.9" fill="#020c40" opacity="0.4"/>
<circle cx="146.0" cy="227.9" r="5" fill="#000c50" opacity="0.22" filter="url(#bl1)"/>
<circle cx="145.7" cy="227.6" r="3" fill="#4a7cff" opacity="0.2" filter="url(#bl05)"/>
<circle cx="146.0" cy="227.9" r="0.9" fill="#020c40" opacity="0.4"/>
<circle cx="173.4" cy="227.9" r="5" fill="#000c50" opacity="0.22" filter="url(#bl1)"/>
<circle cx="173.1" cy="227.6" r="3" fill="#4a7cff" opacity="0.2" filter="url(#bl05)"/>
<circle cx="173.4" cy="227.9" r="0.9" fill="#020c40" opacity="0.4"/>
<circle cx="200.8" cy="232.1" r="5" fill="#000c50" opacity="0.22" filter="url(#bl1)"/>
<circle cx="200.5" cy="231.79999999999998" r="3" fill="#4a7cff" opacity="0.2" filter="url(#bl05)"/>
<circle cx="200.8" cy="232.1" r="0.9" fill="#020c40" opacity="0.4"/>
<circle cx="224.0" cy="227.9" r="5" fill="#000c50" opacity="0.22" filter="url(#bl1)"/>
<circle cx="223.7" cy="227.6" r="3" fill="#4a7cff" opacity="0.2" filter="url(#bl05)"/>
<circle cx="224.0" cy="227.9" r="0.9" fill="#020c40" opacity="0.4"/>
<circle cx="242.9" cy="227.9" r="5" fill="#000c50" opacity="0.22" filter="url(#bl1)"/>
<circle cx="242.6" cy="227.6" r="3" fill="#4a7cff" opacity="0.2" filter="url(#bl05)"/>
<circle cx="242.9" cy="227.9" r="0.9" fill="#020c40" opacity="0.4"/>
<ellipse cx="168" cy="192" rx="7" ry="1.3" fill="#4a78ff" opacity="0.45" filter="url(#bl05)"/>
<ellipse cx="172" cy="188" rx="9" ry="3" fill="#000a50" opacity="0.25" filter="url(#bl1)"/>
</g>
</g>
<polygon points="161.7,65.6 163.8,63.4 170.6,62.0 177.8,61.0 186.7,62.0 190.4,64.8 193.8,69.3 198.3,72.8 200.9,77.3 200.9,81.7 198.6,88.5 199.6,93.0 204.5,97.2 210.1,99.8 218.0,104.2 223.7,108.6 229.3,114.2 231.4,119.9 228.4,127.4 223.9,133.3 221.6,140.0 218.0,143.5 210.1,146.9 201.0,149.3 189.7,152.6 180.7,155.0 173.9,156.6 167.1,155.2 156.9,151.8 149.6,147.4 144.6,140.6 137.6,137.2 129.7,133.6 125.0,128.4 122.4,121.0 122.6,115.0 125.2,110.5 128.4,107.6 133.2,104.0 139.3,99.6 147.4,96.2 153.8,93.8 156.4,90.5 155.5,87.3 150.6,83.6 145.6,81.4 143.6,78.2 144.8,74.8 149.3,72.8 156.4,71.8 160.0,69.3" fill="url(#redL)" filter="url(#bl05)"/>
<clipPath id="clipRed"><polygon points="161.7,65.6 163.8,63.4 170.6,62.0 177.8,61.0 186.7,62.0 190.4,64.8 193.8,69.3 198.3,72.8 200.9,77.3 200.9,81.7 198.6,88.5 199.6,93.0 204.5,97.2 210.1,99.8 218.0,104.2 223.7,108.6 229.3,114.2 231.4,119.9 228.4,127.4 223.9,133.3 221.6,140.0 218.0,143.5 210.1,146.9 201.0,149.3 189.7,152.6 180.7,155.0 173.9,156.6 167.1,155.2 156.9,151.8 149.6,147.4 144.6,140.6 137.6,137.2 129.7,133.6 125.0,128.4 122.4,121.0 122.6,115.0 125.2,110.5 128.4,107.6 133.2,104.0 139.3,99.6 147.4,96.2 153.8,93.8 156.4,90.5 155.5,87.3 150.6,83.6 145.6,81.4 143.6,78.2 144.8,74.8 149.3,72.8 156.4,71.8 160.0,69.3"/></clipPath>
<g clip-path="url(#clipRed)">
<path d="M140,100 Q170,93 206,100" stroke="#901400" stroke-width="3" fill="none" opacity="0.45" filter="url(#bl1)"/>
<path d="M150,122 Q175,118 200,124" stroke="#a01800" stroke-width="2" fill="none" opacity="0.3" filter="url(#bl1)"/>
<circle cx="144.4" cy="116.5" r="3.8" fill="none" stroke="#901800" stroke-width="1.2" opacity="0.3" filter="url(#bl05)"/>
<circle cx="144.4" cy="116.5" r="0.9" fill="#801000" opacity="0.4"/>
<circle cx="174" cy="117.5" r="3.8" fill="none" stroke="#901800" stroke-width="1.2" opacity="0.3" filter="url(#bl05)"/>
<circle cx="174" cy="117.5" r="0.9" fill="#801000" opacity="0.4"/>
<circle cx="205.6" cy="117.6" r="3.8" fill="none" stroke="#901800" stroke-width="1.2" opacity="0.3" filter="url(#bl05)"/>
<circle cx="205.6" cy="117.6" r="0.9" fill="#801000" opacity="0.4"/>
<circle cx="174" cy="143.7" r="3.8" fill="none" stroke="#901800" stroke-width="1.2" opacity="0.3" filter="url(#bl05)"/>
<circle cx="174" cy="143.7" r="0.9" fill="#801000" opacity="0.4"/>
<circle cx="132" cy="118" r="3.8" fill="none" stroke="#901800" stroke-width="1.2" opacity="0.3" filter="url(#bl05)"/>
<circle cx="132" cy="118" r="0.9" fill="#801000" opacity="0.4"/>
<circle cx="218" cy="120" r="3.8" fill="none" stroke="#901800" stroke-width="1.2" opacity="0.3" filter="url(#bl05)"/>
<circle cx="218" cy="120" r="0.9" fill="#801000" opacity="0.4"/>
</g>
<defs>
<clipPath id="clipR"><polygon points="420.8,48.2 584.9,48.2 583.8,58.6 585.6,72.2 588.3,85.8 590.6,99.3 592.8,110.0 595.2,120.0 598.4,132.4 601.2,146.0 601.6,156.0 600.9,166.0 598.8,176.0 596.0,184.0 593.6,190.0 596.1,197.6 600.5,212.2 606.3,220.9 607.7,229.6 608.3,245.0 608.5,273.3 400.8,273.3 400.8,270.8 402.2,259.7 405.0,232.0 407.8,204.0 410.5,190.0 406.5,180.0 405.3,170.0 405.5,160.0 407.3,148.6 412.8,132.4 418.3,116.2 420.4,103.9 422.6,90.3 423.8,72.2 422.6,58.6"/></clipPath>
<clipPath id="clipB"><polygon points="418.0,103.9 429.4,103.2 437.4,104.3 445.3,108.4 452.1,109.5 458.9,108.4 467.9,104.3 477.0,94.8 486.0,85.8 495.0,79.0 501.9,75.1 510.9,74.9 515.8,76.7 522.6,83.5 529.4,90.3 536.2,97.1 545.3,102.7 554.3,106.1 563.4,107.9 572.5,106.1 580.4,102.7 584.9,103.9 592.0,107.3 595.2,120.0 598.4,132.4 601.2,146.0 601.6,156.0 600.9,166.0 598.8,176.0 596.5,181.0 591.7,193.0 585.2,205.9 577.1,217.2 567.4,228.6 558.0,238.0 549.0,248.0 536.6,256.9 524.9,259.8 513.3,261.7 497.7,263.7 484.1,262.7 470.5,260.8 460.8,256.9 455.0,251.0 450.0,246.0 438.7,235.0 429.0,223.7 420.9,212.4 414.4,201.0 410.5,189.7 406.5,180.0 405.3,170.0 405.5,160.0 407.3,148.6 412.8,132.4 418.3,116.2"/></clipPath>
<linearGradient id="bandG" gradientUnits="userSpaceOnUse" x1="0" y1="72" x2="0" y2="268">
 <stop offset="0" stop-color="#0a22a4"/>
 <stop offset="0.22" stop-color="#0a24ac"/>
 <stop offset="0.45" stop-color="#0832d8"/>
 <stop offset="0.7" stop-color="#0838e4"/>
 <stop offset="1" stop-color="#0a40e4"/>
</linearGradient>
<radialGradient id="paleG">
 <stop offset="0" stop-color="#f4f4e8" stop-opacity="0.6"/>
 <stop offset="0.5" stop-color="#f0f0e0" stop-opacity="0.35"/>
 <stop offset="1" stop-color="#f0f0e0" stop-opacity="0"/>
</radialGradient>
<linearGradient id="shadeB" gradientUnits="userSpaceOnUse" x1="404" y1="0" x2="602" y2="0">
 <stop offset="0" stop-color="#281400" stop-opacity="0.4"/>
 <stop offset="0.08" stop-color="#281400" stop-opacity="0.22"/>
 <stop offset="0.2" stop-color="#281400" stop-opacity="0.1"/>
 <stop offset="0.3" stop-color="#281400" stop-opacity="0"/>
 <stop offset="0.78" stop-color="#281400" stop-opacity="0"/>
 <stop offset="0.9" stop-color="#281400" stop-opacity="0.12"/>
 <stop offset="1" stop-color="#281400" stop-opacity="0.38"/>
</linearGradient>
</defs>
<g clip-path="url(#clipR)">
<g filter="url(#bl2)">
<rect x="406" y="44" width="6.5" height="6.5" fill="#0c44a0"/>
<rect x="412" y="44" width="12.5" height="6.5" fill="#0c3c98"/>
<rect x="424" y="44" width="6.5" height="6.5" fill="#0c44a0"/>
<rect x="430" y="44" width="6.5" height="6.5" fill="#0c4cac"/>
<rect x="436" y="44" width="6.5" height="6.5" fill="#0c50b4"/>
<rect x="442" y="44" width="6.5" height="6.5" fill="#0c54b8"/>
<rect x="448" y="44" width="6.5" height="6.5" fill="#0c58b8"/>
<rect x="454" y="44" width="6.5" height="6.5" fill="#0c60bc"/>
<rect x="460" y="44" width="6.5" height="6.5" fill="#0c64bc"/>
<rect x="466" y="44" width="6.5" height="6.5" fill="#0c6cc0"/>
<rect x="472" y="44" width="6.5" height="6.5" fill="#0c70c4"/>
<rect x="478" y="44" width="6.5" height="6.5" fill="#0c78c4"/>
<rect x="484" y="44" width="6.5" height="6.5" fill="#107cc8"/>
<rect x="490" y="44" width="24.5" height="6.5" fill="#1080c8"/>
<rect x="514" y="44" width="6.5" height="6.5" fill="#107cc8"/>
<rect x="520" y="44" width="6.5" height="6.5" fill="#1074c8"/>
<rect x="526" y="44" width="6.5" height="6.5" fill="#0c6cc4"/>
<rect x="532" y="44" width="6.5" height="6.5" fill="#0c68c0"/>
<rect x="538" y="44" width="6.5" height="6.5" fill="#0c60c0"/>
<rect x="544" y="44" width="6.5" height="6.5" fill="#0c58bc"/>
<rect x="550" y="44" width="6.5" height="6.5" fill="#0c54b8"/>
<rect x="556" y="44" width="6.5" height="6.5" fill="#0c50b4"/>
<rect x="562" y="44" width="6.5" height="6.5" fill="#0c4cb4"/>
<rect x="568" y="44" width="6.5" height="6.5" fill="#0c4cb0"/>
<rect x="574" y="44" width="24.5" height="6.5" fill="#0c48b0"/>
<rect x="406" y="50" width="6.5" height="6.5" fill="#0c44a0"/>
<rect x="412" y="50" width="12.5" height="6.5" fill="#0c3c98"/>
<rect x="424" y="50" width="6.5" height="6.5" fill="#0c44a0"/>
<rect x="430" y="50" width="6.5" height="6.5" fill="#0c4cb0"/>
<rect x="436" y="50" width="6.5" height="6.5" fill="#0c50b4"/>
<rect x="442" y="50" width="6.5" height="6.5" fill="#0c54b8"/>
<rect x="448" y="50" width="6.5" height="6.5" fill="#0c58b8"/>
<rect x="454" y="50" width="6.5" height="6.5" fill="#0c5cbc"/>
<rect x="460" y="50" width="6.5" height="6.5" fill="#0c64c0"/>
<rect x="466" y="50" width="6.5" height="6.5" fill="#0c68c0"/>
<rect x="472" y="50" width="6.5" height="6.5" fill="#0c6cc4"/>
<rect x="478" y="50" width="6.5" height="6.5" fill="#0c70c4"/>
<rect x="484" y="50" width="6.5" height="6.5" fill="#0c78c8"/>
<rect x="490" y="50" width="24.5" height="6.5" fill="#107cc8"/>
<rect x="514" y="50" width="6.5" height="6.5" fill="#1078c8"/>
<rect x="520" y="50" width="6.5" height="6.5" fill="#0c70c4"/>
<rect x="526" y="50" width="6.5" height="6.5" fill="#0c6cc4"/>
<rect x="532" y="50" width="6.5" height="6.5" fill="#0c64c4"/>
<rect x="538" y="50" width="6.5" height="6.5" fill="#0c5cc0"/>
<rect x="544" y="50" width="6.5" height="6.5" fill="#0c58bc"/>
<rect x="550" y="50" width="6.5" height="6.5" fill="#0c54b8"/>
<rect x="556" y="50" width="6.5" height="6.5" fill="#0c50b8"/>
<rect x="562" y="50" width="18.5" height="6.5" fill="#0c4cb4"/>
<rect x="580" y="50" width="6.5" height="6.5" fill="#0c48b4"/>
<rect x="586" y="50" width="12.5" height="6.5" fill="#0c48b0"/>
<rect x="406" y="56" width="6.5" height="6.5" fill="#0c48a8"/>
<rect x="412" y="56" width="12.5" height="6.5" fill="#0c44a4"/>
<rect x="424" y="56" width="6.5" height="6.5" fill="#0c48ac"/>
<rect x="430" y="56" width="6.5" height="6.5" fill="#0c4cb4"/>
<rect x="436" y="56" width="6.5" height="6.5" fill="#0c50b8"/>
<rect x="442" y="56" width="6.5" height="6.5" fill="#0c54b8"/>
<rect x="448" y="56" width="6.5" height="6.5" fill="#0c58bc"/>
<rect x="454" y="56" width="6.5" height="6.5" fill="#0c5cbc"/>
<rect x="460" y="56" width="6.5" height="6.5" fill="#0c60c0"/>
<rect x="466" y="56" width="6.5" height="6.5" fill="#0c64c0"/>
<rect x="472" y="56" width="6.5" height="6.5" fill="#0c68c4"/>
<rect x="478" y="56" width="6.5" height="6.5" fill="#0c6cc4"/>
<rect x="484" y="56" width="6.5" height="6.5" fill="#0c70c4"/>
<rect x="490" y="56" width="6.5" height="6.5" fill="#0c74c8"/>
<rect x="496" y="56" width="12.5" height="6.5" fill="#0c78c8"/>
<rect x="508" y="56" width="6.5" height="6.5" fill="#0c74c8"/>
<rect x="514" y="56" width="6.5" height="6.5" fill="#0c70c8"/>
<rect x="520" y="56" width="6.5" height="6.5" fill="#0c6cc4"/>
<rect x="526" y="56" width="6.5" height="6.5" fill="#0c68c4"/>
<rect x="532" y="56" width="6.5" height="6.5" fill="#0c60c4"/>
<rect x="538" y="56" width="6.5" height="6.5" fill="#0c5cc0"/>
<rect x="544" y="56" width="6.5" height="6.5" fill="#0c58bc"/>
<rect x="550" y="56" width="6.5" height="6.5" fill="#0c54bc"/>
<rect x="556" y="56" width="12.5" height="6.5" fill="#0c50b8"/>
<rect x="568" y="56" width="18.5" height="6.5" fill="#0c4cb4"/>
<rect x="586" y="56" width="12.5" height="6.5" fill="#0c48b4"/>
<rect x="406" y="62" width="6.5" height="6.5" fill="#0c48ac"/>
<rect x="412" y="62" width="12.5" height="6.5" fill="#0c44a8"/>
<rect x="424" y="62" width="6.5" height="6.5" fill="#0c48ac"/>
<rect x="430" y="62" width="6.5" height="6.5" fill="#0c4cb4"/>
<rect x="436" y="62" width="6.5" height="6.5" fill="#0c50bc"/>
<rect x="442" y="62" width="12.5" height="6.5" fill="#0c54bc"/>
<rect x="454" y="62" width="6.5" height="6.5" fill="#0c58c0"/>
<rect x="460" y="62" width="6.5" height="6.5" fill="#0c5cc0"/>
<rect x="466" y="62" width="6.5" height="6.5" fill="#0c60c0"/>
<rect x="472" y="62" width="6.5" height="6.5" fill="#0c60c4"/>
<rect x="478" y="62" width="6.5" height="6.5" fill="#0c64c4"/>
<rect x="484" y="62" width="6.5" height="6.5" fill="#0c6cc4"/>
<rect x="490" y="62" width="6.5" height="6.5" fill="#0c70c4"/>
<rect x="496" y="62" width="18.5" height="6.5" fill="#0c70c8"/>
<rect x="514" y="62" width="6.5" height="6.5" fill="#0c6cc4"/>
<rect x="520" y="62" width="6.5" height="6.5" fill="#0c68c4"/>
<rect x="526" y="62" width="6.5" height="6.5" fill="#0c60c4"/>
<rect x="532" y="62" width="6.5" height="6.5" fill="#0c5cc4"/>
<rect x="538" y="62" width="6.5" height="6.5" fill="#0c58c0"/>
<rect x="544" y="62" width="6.5" height="6.5" fill="#0c54c0"/>
<rect x="550" y="62" width="6.5" height="6.5" fill="#0c54bc"/>
<rect x="556" y="62" width="6.5" height="6.5" fill="#0c50bc"/>
<rect x="562" y="62" width="6.5" height="6.5" fill="#0c50b8"/>
<rect x="568" y="62" width="12.5" height="6.5" fill="#0c4cb8"/>
<rect x="580" y="62" width="6.5" height="6.5" fill="#0c4cb4"/>
<rect x="586" y="62" width="12.5" height="6.5" fill="#0848b4"/>
<rect x="406" y="68" width="6.5" height="6.5" fill="#0c48ac"/>
<rect x="412" y="68" width="6.5" height="6.5" fill="#0c44a8"/>
<rect x="418" y="68" width="6.5" height="6.5" fill="#0c44a4"/>
<rect x="424" y="68" width="6.5" height="6.5" fill="#0c44ac"/>
<rect x="430" y="68" width="6.5" height="6.5" fill="#0c4cb4"/>
<rect x="436" y="68" width="18.5" height="6.5" fill="#0c50bc"/>
<rect x="454" y="68" width="12.5" height="6.5" fill="#0c54c0"/>
<rect x="466" y="68" width="6.5" height="6.5" fill="#0c58c0"/>
<rect x="472" y="68" width="6.5" height="6.5" fill="#0c5cc4"/>
<rect x="478" y="68" width="6.5" height="6.5" fill="#0c60c4"/>
<rect x="484" y="68" width="6.5" height="6.5" fill="#0c64c4"/>
<rect x="490" y="68" width="24.5" height="6.5" fill="#0c68c4"/>
<rect x="514" y="68" width="6.5" height="6.5" fill="#0c64c4"/>
<rect x="520" y="68" width="6.5" height="6.5" fill="#0c60c4"/>
<rect x="526" y="68" width="6.5" height="6.5" fill="#0c5cc4"/>
<rect x="532" y="68" width="6.5" height="6.5" fill="#0c58c0"/>
<rect x="538" y="68" width="6.5" height="6.5" fill="#0c54c0"/>
<rect x="544" y="68" width="6.5" height="6.5" fill="#0850c0"/>
<rect x="550" y="68" width="18.5" height="6.5" fill="#0850bc"/>
<rect x="568" y="68" width="6.5" height="6.5" fill="#084cbc"/>
<rect x="574" y="68" width="6.5" height="6.5" fill="#084cb8"/>
<rect x="580" y="68" width="6.5" height="6.5" fill="#084cb4"/>
<rect x="586" y="68" width="12.5" height="6.5" fill="#0848b4"/>
<rect x="598" y="68" width="6.5" height="6.5" fill="#084cb4"/>
<rect x="406" y="74" width="6.5" height="6.5" fill="#0c48b0"/>
<rect x="412" y="74" width="12.5" height="6.5" fill="#0c44ac"/>
<rect x="424" y="74" width="6.5" height="6.5" fill="#0c44b0"/>
<rect x="430" y="74" width="6.5" height="6.5" fill="#0c48b8"/>
<rect x="436" y="74" width="6.5" height="6.5" fill="#0c4cbc"/>
<rect x="442" y="74" width="12.5" height="6.5" fill="#084cbc"/>
<rect x="454" y="74" width="12.5" height="6.5" fill="#0850c0"/>
<rect x="466" y="74" width="6.5" height="6.5" fill="#0854c0"/>
<rect x="472" y="74" width="6.5" height="6.5" fill="#0c58c0"/>
<rect x="478" y="74" width="6.5" height="6.5" fill="#0c5cc4"/>
<rect x="484" y="74" width="6.5" height="6.5" fill="#0c60c4"/>
<rect x="490" y="74" width="24.5" height="6.5" fill="#0c64c4"/>
<rect x="514" y="74" width="6.5" height="6.5" fill="#0c60c4"/>
<rect x="520" y="74" width="6.5" height="6.5" fill="#0c5cc4"/>
<rect x="526" y="74" width="6.5" height="6.5" fill="#0c54c4"/>
<rect x="532" y="74" width="6.5" height="6.5" fill="#0850c0"/>
<rect x="538" y="74" width="18.5" height="6.5" fill="#084cc0"/>
<rect x="556" y="74" width="24.5" height="6.5" fill="#084cbc"/>
<rect x="580" y="74" width="6.5" height="6.5" fill="#084cb8"/>
<rect x="586" y="74" width="12.5" height="6.5" fill="#0848b8"/>
<rect x="598" y="74" width="6.5" height="6.5" fill="#084cb8"/>
<rect x="406" y="80" width="6.5" height="6.5" fill="#0c44b8"/>
<rect x="412" y="80" width="12.5" height="6.5" fill="#0c44b4"/>
<rect x="424" y="80" width="6.5" height="6.5" fill="#0c44b8"/>
<rect x="430" y="80" width="30.5" height="6.5" fill="#0848bc"/>
<rect x="460" y="80" width="6.5" height="6.5" fill="#0848c0"/>
<rect x="466" y="80" width="6.5" height="6.5" fill="#084cc0"/>
<rect x="472" y="80" width="6.5" height="6.5" fill="#0850c0"/>
<rect x="478" y="80" width="6.5" height="6.5" fill="#0854c4"/>
<rect x="484" y="80" width="6.5" height="6.5" fill="#0c5cc4"/>
<rect x="490" y="80" width="24.5" height="6.5" fill="#0c60c4"/>
<rect x="514" y="80" width="6.5" height="6.5" fill="#0c5cc4"/>
<rect x="520" y="80" width="6.5" height="6.5" fill="#0854c0"/>
<rect x="526" y="80" width="6.5" height="6.5" fill="#084cc0"/>
<rect x="532" y="80" width="12.5" height="6.5" fill="#0848c0"/>
<rect x="544" y="80" width="36.5" height="6.5" fill="#0848bc"/>
<rect x="580" y="80" width="24.5" height="6.5" fill="#0848b8"/>
<rect x="406" y="86" width="6.5" height="6.5" fill="#0c40b4"/>
<rect x="412" y="86" width="6.5" height="6.5" fill="#0c40b0"/>
<rect x="418" y="86" width="6.5" height="6.5" fill="#0840b0"/>
<rect x="424" y="86" width="6.5" height="6.5" fill="#0840b4"/>
<rect x="430" y="86" width="6.5" height="6.5" fill="#0844b8"/>
<rect x="436" y="86" width="18.5" height="6.5" fill="#0844bc"/>
<rect x="454" y="86" width="6.5" height="6.5" fill="#0840bc"/>
<rect x="460" y="86" width="12.5" height="6.5" fill="#0844bc"/>
<rect x="472" y="86" width="6.5" height="6.5" fill="#0848c0"/>
<rect x="478" y="86" width="6.5" height="6.5" fill="#084cc0"/>
<rect x="484" y="86" width="6.5" height="6.5" fill="#0854c4"/>
<rect x="490" y="86" width="24.5" height="6.5" fill="#0c5cc4"/>
<rect x="514" y="86" width="6.5" height="6.5" fill="#0854c0"/>
<rect x="520" y="86" width="6.5" height="6.5" fill="#084cc0"/>
<rect x="526" y="86" width="6.5" height="6.5" fill="#0844c0"/>
<rect x="532" y="86" width="18.5" height="6.5" fill="#0840bc"/>
<rect x="550" y="86" width="24.5" height="6.5" fill="#0844bc"/>
<rect x="574" y="86" width="12.5" height="6.5" fill="#0844b8"/>
<rect x="586" y="86" width="18.5" height="6.5" fill="#0844b4"/>
<rect x="406" y="92" width="6.5" height="6.5" fill="#0840b0"/>
<rect x="412" y="92" width="12.5" height="6.5" fill="#083cac"/>
<rect x="424" y="92" width="6.5" height="6.5" fill="#0840b0"/>
<rect x="430" y="92" width="6.5" height="6.5" fill="#0840b4"/>
<rect x="436" y="92" width="6.5" height="6.5" fill="#0840b8"/>
<rect x="442" y="92" width="12.5" height="6.5" fill="#0840bc"/>
<rect x="454" y="92" width="18.5" height="6.5" fill="#083cbc"/>
<rect x="472" y="92" width="6.5" height="6.5" fill="#0840bc"/>
<rect x="478" y="92" width="6.5" height="6.5" fill="#0844c0"/>
<rect x="484" y="92" width="6.5" height="6.5" fill="#084cc0"/>
<rect x="490" y="92" width="6.5" height="6.5" fill="#0854c4"/>
<rect x="496" y="92" width="12.5" height="6.5" fill="#0c5cc4"/>
<rect x="508" y="92" width="6.5" height="6.5" fill="#0854c4"/>
<rect x="514" y="92" width="6.5" height="6.5" fill="#0848c0"/>
<rect x="520" y="92" width="6.5" height="6.5" fill="#0840c0"/>
<rect x="526" y="92" width="6.5" height="6.5" fill="#0840bc"/>
<rect x="532" y="92" width="18.5" height="6.5" fill="#083cbc"/>
<rect x="550" y="92" width="12.5" height="6.5" fill="#0840bc"/>
<rect x="562" y="92" width="6.5" height="6.5" fill="#0840b8"/>
<rect x="568" y="92" width="12.5" height="6.5" fill="#0844b8"/>
<rect x="580" y="92" width="12.5" height="6.5" fill="#0844b4"/>
<rect x="592" y="92" width="6.5" height="6.5" fill="#0844b0"/>
<rect x="598" y="92" width="6.5" height="6.5" fill="#0844b4"/>
<rect x="406" y="98" width="6.5" height="6.5" fill="#0840b4"/>
<rect x="412" y="98" width="6.5" height="6.5" fill="#083cb0"/>
<rect x="418" y="98" width="6.5" height="6.5" fill="#083cac"/>
<rect x="424" y="98" width="6.5" height="6.5" fill="#0840b0"/>
<rect x="430" y="98" width="6.5" height="6.5" fill="#0840b4"/>
<rect x="436" y="98" width="6.5" height="6.5" fill="#0840b8"/>
<rect x="442" y="98" width="42.5" height="6.5" fill="#083cbc"/>
<rect x="484" y="98" width="6.5" height="6.5" fill="#0840c0"/>
<rect x="490" y="98" width="6.5" height="6.5" fill="#084cc0"/>
<rect x="496" y="98" width="12.5" height="6.5" fill="#0854c4"/>
<rect x="508" y="98" width="6.5" height="6.5" fill="#084cc0"/>
<rect x="514" y="98" width="6.5" height="6.5" fill="#0840bc"/>
<rect x="520" y="98" width="36.5" height="6.5" fill="#083cbc"/>
<rect x="556" y="98" width="24.5" height="6.5" fill="#0840b8"/>
<rect x="580" y="98" width="24.5" height="6.5" fill="#0844b4"/>
<rect x="604" y="98" width="6.5" height="6.5" fill="#0840b4"/>
<rect x="406" y="104" width="12.5" height="6.5" fill="#0840b4"/>
<rect x="418" y="104" width="6.5" height="6.5" fill="#0840b0"/>
<rect x="424" y="104" width="6.5" height="6.5" fill="#0840b4"/>
<rect x="430" y="104" width="12.5" height="6.5" fill="#0840b8"/>
<rect x="442" y="104" width="18.5" height="6.5" fill="#083cbc"/>
<rect x="460" y="104" width="24.5" height="6.5" fill="#0838bc"/>
<rect x="484" y="104" width="6.5" height="6.5" fill="#083cbc"/>
<rect x="490" y="104" width="6.5" height="6.5" fill="#0840bc"/>
<rect x="496" y="104" width="12.5" height="6.5" fill="#084cc0"/>
<rect x="508" y="104" width="6.5" height="6.5" fill="#0840c0"/>
<rect x="514" y="104" width="6.5" height="6.5" fill="#083cbc"/>
<rect x="520" y="104" width="24.5" height="6.5" fill="#0838bc"/>
<rect x="544" y="104" width="12.5" height="6.5" fill="#083cbc"/>
<rect x="556" y="104" width="30.5" height="6.5" fill="#0840b8"/>
<rect x="586" y="104" width="6.5" height="6.5" fill="#0840b4"/>
<rect x="592" y="104" width="6.5" height="6.5" fill="#0844b4"/>
<rect x="598" y="104" width="6.5" height="6.5" fill="#0840b4"/>
<rect x="604" y="104" width="6.5" height="6.5" fill="#0840b8"/>
<rect x="400" y="110" width="36.5" height="6.5" fill="#0840b8"/>
<rect x="436" y="110" width="6.5" height="6.5" fill="#083cb8"/>
<rect x="442" y="110" width="12.5" height="6.5" fill="#083cbc"/>
<rect x="454" y="110" width="36.5" height="6.5" fill="#0838bc"/>
<rect x="490" y="110" width="6.5" height="6.5" fill="#083cbc"/>
<rect x="496" y="110" width="6.5" height="6.5" fill="#0840c0"/>
<rect x="502" y="110" width="6.5" height="6.5" fill="#0844c0"/>
<rect x="508" y="110" width="6.5" height="6.5" fill="#083cbc"/>
<rect x="514" y="110" width="30.5" height="6.5" fill="#0838bc"/>
<rect x="544" y="110" width="12.5" height="6.5" fill="#083cbc"/>
<rect x="556" y="110" width="54.5" height="6.5" fill="#0840b8"/>
<rect x="400" y="116" width="36.5" height="6.5" fill="#0840b8"/>
<rect x="436" y="116" width="6.5" height="6.5" fill="#083cb8"/>
<rect x="442" y="116" width="12.5" height="6.5" fill="#083cbc"/>
<rect x="454" y="116" width="42.5" height="6.5" fill="#0838bc"/>
<rect x="496" y="116" width="12.5" height="6.5" fill="#083cbc"/>
<rect x="508" y="116" width="36.5" height="6.5" fill="#0838bc"/>
<rect x="544" y="116" width="6.5" height="6.5" fill="#083cbc"/>
<rect x="550" y="116" width="6.5" height="6.5" fill="#083cb8"/>
<rect x="556" y="116" width="60.5" height="6.5" fill="#0840b8"/>
<rect x="400" y="122" width="36.5" height="6.5" fill="#0840b8"/>
<rect x="436" y="122" width="6.5" height="6.5" fill="#083cb8"/>
<rect x="442" y="122" width="12.5" height="6.5" fill="#083cbc"/>
<rect x="454" y="122" width="90.5" height="6.5" fill="#0838bc"/>
<rect x="544" y="122" width="6.5" height="6.5" fill="#083cbc"/>
<rect x="550" y="122" width="6.5" height="6.5" fill="#083cb8"/>
<rect x="556" y="122" width="60.5" height="6.5" fill="#0840b8"/>
<rect x="394" y="128" width="42.5" height="6.5" fill="#0840b8"/>
<rect x="436" y="128" width="6.5" height="6.5" fill="#083cb8"/>
<rect x="442" y="128" width="6.5" height="6.5" fill="#083cbc"/>
<rect x="448" y="128" width="96.5" height="6.5" fill="#0838bc"/>
<rect x="544" y="128" width="6.5" height="6.5" fill="#083cbc"/>
<rect x="550" y="128" width="6.5" height="6.5" fill="#083cb8"/>
<rect x="556" y="128" width="42.5" height="6.5" fill="#0840b8"/>
<rect x="598" y="128" width="18.5" height="6.5" fill="#0c40b8"/>
<rect x="394" y="134" width="42.5" height="6.5" fill="#0840b8"/>
<rect x="436" y="134" width="6.5" height="6.5" fill="#083cb8"/>
<rect x="442" y="134" width="6.5" height="6.5" fill="#083cbc"/>
<rect x="448" y="134" width="96.5" height="6.5" fill="#0838bc"/>
<rect x="544" y="134" width="6.5" height="6.5" fill="#083cbc"/>
<rect x="550" y="134" width="6.5" height="6.5" fill="#083cb8"/>
<rect x="556" y="134" width="30.5" height="6.5" fill="#0840b8"/>
<rect x="586" y="134" width="18.5" height="6.5" fill="#0c40b8"/>
<rect x="604" y="134" width="6.5" height="6.5" fill="#0c44b8"/>
<rect x="610" y="134" width="6.5" height="6.5" fill="#0c48b8"/>
<rect x="394" y="140" width="12.5" height="6.5" fill="#0c40b8"/>
<rect x="406" y="140" width="24.5" height="6.5" fill="#0840b8"/>
<rect x="430" y="140" width="12.5" height="6.5" fill="#083cb8"/>
<rect x="442" y="140" width="6.5" height="6.5" fill="#083cbc"/>
<rect x="448" y="140" width="96.5" height="6.5" fill="#0838bc"/>
<rect x="544" y="140" width="6.5" height="6.5" fill="#083cbc"/>
<rect x="550" y="140" width="6.5" height="6.5" fill="#083cb8"/>
<rect x="556" y="140" width="18.5" height="6.5" fill="#0840b8"/>
<rect x="574" y="140" width="6.5" height="6.5" fill="#0c40b8"/>
<rect x="580" y="140" width="6.5" height="6.5" fill="#0c44b8"/>
<rect x="586" y="140" width="6.5" height="6.5" fill="#0c48b8"/>
<rect x="592" y="140" width="6.5" height="6.5" fill="#0c54bc"/>
<rect x="598" y="140" width="6.5" height="6.5" fill="#0c68c0"/>
<rect x="604" y="140" width="6.5" height="6.5" fill="#107cc4"/>
<rect x="610" y="140" width="6.5" height="6.5" fill="#1088c8"/>
<rect x="394" y="146" width="6.5" height="6.5" fill="#0c80c0"/>
<rect x="400" y="146" width="6.5" height="6.5" fill="#0c6cc0"/>
<rect x="406" y="146" width="6.5" height="6.5" fill="#0c58bc"/>
<rect x="412" y="146" width="6.5" height="6.5" fill="#0c4cb8"/>
<rect x="418" y="146" width="6.5" height="6.5" fill="#0c44b8"/>
<rect x="424" y="146" width="12.5" height="6.5" fill="#0840b8"/>
<rect x="436" y="146" width="6.5" height="6.5" fill="#083cb8"/>
<rect x="442" y="146" width="6.5" height="6.5" fill="#083cbc"/>
<rect x="448" y="146" width="54.5" height="6.5" fill="#0838bc"/>
<rect x="502" y="146" width="6.5" height="6.5" fill="#0838b8"/>
<rect x="508" y="146" width="30.5" height="6.5" fill="#0838bc"/>
<rect x="538" y="146" width="6.5" height="6.5" fill="#083cbc"/>
<rect x="544" y="146" width="6.5" height="6.5" fill="#083cb8"/>
<rect x="550" y="146" width="6.5" height="6.5" fill="#0840b8"/>
<rect x="556" y="146" width="6.5" height="6.5" fill="#0c44b8"/>
<rect x="562" y="146" width="6.5" height="6.5" fill="#0c48bc"/>
<rect x="568" y="146" width="6.5" height="6.5" fill="#0c58bc"/>
<rect x="574" y="146" width="6.5" height="6.5" fill="#0c6cc0"/>
<rect x="580" y="146" width="6.5" height="6.5" fill="#107cc4"/>
<rect x="586" y="146" width="6.5" height="6.5" fill="#1088c8"/>
<rect x="592" y="146" width="6.5" height="6.5" fill="#108cc8"/>
<rect x="598" y="146" width="18.5" height="6.5" fill="#1090c8"/>
<rect x="394" y="152" width="6.5" height="6.5" fill="#10a0c8"/>
<rect x="400" y="152" width="18.5" height="6.5" fill="#109cc8"/>
<rect x="418" y="152" width="6.5" height="6.5" fill="#1094c8"/>
<rect x="424" y="152" width="6.5" height="6.5" fill="#1088c4"/>
<rect x="430" y="152" width="6.5" height="6.5" fill="#0c70c0"/>
<rect x="436" y="152" width="6.5" height="6.5" fill="#0c54bc"/>
<rect x="442" y="152" width="6.5" height="6.5" fill="#0840bc"/>
<rect x="448" y="152" width="6.5" height="6.5" fill="#083cbc"/>
<rect x="454" y="152" width="36.5" height="6.5" fill="#0838bc"/>
<rect x="490" y="152" width="6.5" height="6.5" fill="#0838b8"/>
<rect x="496" y="152" width="6.5" height="6.5" fill="#0834ac"/>
<rect x="502" y="152" width="6.5" height="6.5" fill="#082c90"/>
<rect x="508" y="152" width="6.5" height="6.5" fill="#0830a8"/>
<rect x="514" y="152" width="6.5" height="6.5" fill="#0838b4"/>
<rect x="520" y="152" width="6.5" height="6.5" fill="#0838b8"/>
<rect x="526" y="152" width="12.5" height="6.5" fill="#0838bc"/>
<rect x="538" y="152" width="6.5" height="6.5" fill="#0840bc"/>
<rect x="544" y="152" width="6.5" height="6.5" fill="#0c50bc"/>
<rect x="550" y="152" width="6.5" height="6.5" fill="#0c68c0"/>
<rect x="556" y="152" width="6.5" height="6.5" fill="#1080c4"/>
<rect x="562" y="152" width="6.5" height="6.5" fill="#1088c8"/>
<rect x="568" y="152" width="6.5" height="6.5" fill="#108cc8"/>
<rect x="574" y="152" width="42.5" height="6.5" fill="#1090c8"/>
<rect x="394" y="158" width="18.5" height="6.5" fill="#109cc4"/>
<rect x="412" y="158" width="6.5" height="6.5" fill="#109cc8"/>
<rect x="418" y="158" width="18.5" height="6.5" fill="#10a0c8"/>
<rect x="436" y="158" width="6.5" height="6.5" fill="#109cc8"/>
<rect x="442" y="158" width="6.5" height="6.5" fill="#1098c8"/>
<rect x="448" y="158" width="6.5" height="6.5" fill="#0c80c4"/>
<rect x="454" y="158" width="6.5" height="6.5" fill="#0c58c0"/>
<rect x="460" y="158" width="6.5" height="6.5" fill="#0840bc"/>
<rect x="466" y="158" width="12.5" height="6.5" fill="#0838bc"/>
<rect x="478" y="158" width="6.5" height="6.5" fill="#0838b8"/>
<rect x="484" y="158" width="6.5" height="6.5" fill="#0834b0"/>
<rect x="490" y="158" width="6.5" height="6.5" fill="#082c94"/>
<rect x="496" y="158" width="6.5" height="6.5" fill="#041854"/>
<rect x="502" y="158" width="6.5" height="6.5" fill="#000c24"/>
<rect x="508" y="158" width="6.5" height="6.5" fill="#04103c"/>
<rect x="514" y="158" width="6.5" height="6.5" fill="#042474"/>
<rect x="520" y="158" width="6.5" height="6.5" fill="#08309c"/>
<rect x="526" y="158" width="6.5" height="6.5" fill="#083cb0"/>
<rect x="532" y="158" width="6.5" height="6.5" fill="#0c60bc"/>
<rect x="538" y="158" width="6.5" height="6.5" fill="#1084c4"/>
<rect x="544" y="158" width="6.5" height="6.5" fill="#108cc8"/>
<rect x="550" y="158" width="66.5" height="6.5" fill="#1090c8"/>
<rect x="394" y="164" width="12.5" height="6.5" fill="#0c94c0"/>
<rect x="406" y="164" width="6.5" height="6.5" fill="#1098c0"/>
<rect x="412" y="164" width="6.5" height="6.5" fill="#109cc4"/>
<rect x="418" y="164" width="6.5" height="6.5" fill="#109cc8"/>
<rect x="424" y="164" width="36.5" height="6.5" fill="#10a0c8"/>
<rect x="460" y="164" width="6.5" height="6.5" fill="#1098c4"/>
<rect x="466" y="164" width="6.5" height="6.5" fill="#0c78bc"/>
<rect x="472" y="164" width="6.5" height="6.5" fill="#0848a8"/>
<rect x="478" y="164" width="6.5" height="6.5" fill="#082c88"/>
<rect x="484" y="164" width="6.5" height="6.5" fill="#041854"/>
<rect x="490" y="164" width="6.5" height="6.5" fill="#000c20"/>
<rect x="496" y="164" width="6.5" height="6.5" fill="#000408"/>
<rect x="502" y="164" width="12.5" height="6.5" fill="#000004"/>
<rect x="514" y="164" width="6.5" height="6.5" fill="#000410"/>
<rect x="520" y="164" width="6.5" height="6.5" fill="#042848"/>
<rect x="526" y="164" width="6.5" height="6.5" fill="#0c78ac"/>
<rect x="532" y="164" width="6.5" height="6.5" fill="#108cc4"/>
<rect x="538" y="164" width="78.5" height="6.5" fill="#1090c8"/>
<rect x="394" y="170" width="18.5" height="6.5" fill="#0c90bc"/>
<rect x="412" y="170" width="6.5" height="6.5" fill="#1094c0"/>
<rect x="418" y="170" width="6.5" height="6.5" fill="#109cc4"/>
<rect x="424" y="170" width="48.5" height="6.5" fill="#10a0c8"/>
<rect x="472" y="170" width="6.5" height="6.5" fill="#1094b8"/>
<rect x="478" y="170" width="6.5" height="6.5" fill="#084c64"/>
<rect x="484" y="170" width="6.5" height="6.5" fill="#000810"/>
<rect x="490" y="170" width="6.5" height="6.5" fill="#000004"/>
<rect x="496" y="170" width="18.5" height="6.5" fill="#000000"/>
<rect x="514" y="170" width="6.5" height="6.5" fill="#00080c"/>
<rect x="520" y="170" width="6.5" height="6.5" fill="#08506c"/>
<rect x="526" y="170" width="6.5" height="6.5" fill="#1088c0"/>
<rect x="532" y="170" width="84.5" height="6.5" fill="#1090c8"/>
<rect x="394" y="176" width="18.5" height="6.5" fill="#0c8cbc"/>
<rect x="412" y="176" width="6.5" height="6.5" fill="#0c90c0"/>
<rect x="418" y="176" width="6.5" height="6.5" fill="#1098c4"/>
<rect x="424" y="176" width="6.5" height="6.5" fill="#109cc8"/>
<rect x="430" y="176" width="42.5" height="6.5" fill="#10a0c8"/>
<rect x="472" y="176" width="6.5" height="6.5" fill="#109cc4"/>
<rect x="478" y="176" width="6.5" height="6.5" fill="#0c84a4"/>
<rect x="484" y="176" width="6.5" height="6.5" fill="#04242c"/>
<rect x="490" y="176" width="6.5" height="6.5" fill="#000404"/>
<rect x="496" y="176" width="18.5" height="6.5" fill="#000000"/>
<rect x="514" y="176" width="6.5" height="6.5" fill="#041418"/>
<rect x="520" y="176" width="6.5" height="6.5" fill="#0c7098"/>
<rect x="526" y="176" width="6.5" height="6.5" fill="#108cc4"/>
<rect x="532" y="176" width="84.5" height="6.5" fill="#1090c8"/>
<rect x="394" y="182" width="6.5" height="6.5" fill="#0c8cb8"/>
<rect x="400" y="182" width="12.5" height="6.5" fill="#0c8cbc"/>
<rect x="412" y="182" width="6.5" height="6.5" fill="#0c90bc"/>
<rect x="418" y="182" width="6.5" height="6.5" fill="#1094c0"/>
<rect x="424" y="182" width="6.5" height="6.5" fill="#109cc4"/>
<rect x="430" y="182" width="48.5" height="6.5" fill="#10a0c8"/>
<rect x="478" y="182" width="6.5" height="6.5" fill="#1098bc"/>
<rect x="484" y="182" width="6.5" height="6.5" fill="#085468"/>
<rect x="490" y="182" width="6.5" height="6.5" fill="#00080c"/>
<rect x="496" y="182" width="12.5" height="6.5" fill="#000000"/>
<rect x="508" y="182" width="6.5" height="6.5" fill="#000404"/>
<rect x="514" y="182" width="6.5" height="6.5" fill="#042430"/>
<rect x="520" y="182" width="6.5" height="6.5" fill="#1080b0"/>
<rect x="526" y="182" width="90.5" height="6.5" fill="#1090c8"/>
<rect x="394" y="188" width="6.5" height="6.5" fill="#0c8cb8"/>
<rect x="400" y="188" width="12.5" height="6.5" fill="#0c8cbc"/>
<rect x="412" y="188" width="6.5" height="6.5" fill="#0c90bc"/>
<rect x="418" y="188" width="6.5" height="6.5" fill="#1094c0"/>
<rect x="424" y="188" width="6.5" height="6.5" fill="#109cc4"/>
<rect x="430" y="188" width="48.5" height="6.5" fill="#10a0c8"/>
<rect x="478" y="188" width="6.5" height="6.5" fill="#109cc4"/>
<rect x="484" y="188" width="6.5" height="6.5" fill="#0c7c9c"/>
<rect x="490" y="188" width="6.5" height="6.5" fill="#041c30"/>
<rect x="496" y="188" width="6.5" height="6.5" fill="#000c1c"/>
<rect x="502" y="188" width="6.5" height="6.5" fill="#000c20"/>
<rect x="508" y="188" width="6.5" height="6.5" fill="#001028"/>
<rect x="514" y="188" width="6.5" height="6.5" fill="#083860"/>
<rect x="520" y="188" width="6.5" height="6.5" fill="#1084bc"/>
<rect x="526" y="188" width="90.5" height="6.5" fill="#1090c8"/>
<rect x="394" y="194" width="18.5" height="6.5" fill="#0c8cbc"/>
<rect x="412" y="194" width="6.5" height="6.5" fill="#0c90c0"/>
<rect x="418" y="194" width="6.5" height="6.5" fill="#1098c4"/>
<rect x="424" y="194" width="6.5" height="6.5" fill="#109cc8"/>
<rect x="430" y="194" width="48.5" height="6.5" fill="#10a0c8"/>
<rect x="478" y="194" width="6.5" height="6.5" fill="#109cc8"/>
<rect x="484" y="194" width="6.5" height="6.5" fill="#0c7cbc"/>
<rect x="490" y="194" width="6.5" height="6.5" fill="#0840a8"/>
<rect x="496" y="194" width="12.5" height="6.5" fill="#083cac"/>
<rect x="508" y="194" width="6.5" height="6.5" fill="#0840b4"/>
<rect x="514" y="194" width="6.5" height="6.5" fill="#0c50bc"/>
<rect x="520" y="194" width="6.5" height="6.5" fill="#107cc8"/>
<rect x="526" y="194" width="6.5" height="6.5" fill="#108cc8"/>
<rect x="532" y="194" width="84.5" height="6.5" fill="#1090c8"/>
<rect x="394" y="200" width="12.5" height="6.5" fill="#0c90bc"/>
<rect x="406" y="200" width="6.5" height="6.5" fill="#0c90c0"/>
<rect x="412" y="200" width="6.5" height="6.5" fill="#1094c0"/>
<rect x="418" y="200" width="6.5" height="6.5" fill="#109cc4"/>
<rect x="424" y="200" width="54.5" height="6.5" fill="#10a0c8"/>
<rect x="478" y="200" width="6.5" height="6.5" fill="#1090cc"/>
<rect x="484" y="200" width="6.5" height="6.5" fill="#0c5cd4"/>
<rect x="490" y="200" width="18.5" height="6.5" fill="#0848d4"/>
<rect x="508" y="200" width="6.5" height="6.5" fill="#0c4cd4"/>
<rect x="514" y="200" width="6.5" height="6.5" fill="#0c54d4"/>
<rect x="520" y="200" width="6.5" height="6.5" fill="#0c64d4"/>
<rect x="526" y="200" width="6.5" height="6.5" fill="#1080cc"/>
<rect x="532" y="200" width="6.5" height="6.5" fill="#1090c8"/>
<rect x="538" y="200" width="24.5" height="6.5" fill="#1094c8"/>
<rect x="562" y="200" width="54.5" height="6.5" fill="#1090c8"/>
<rect x="394" y="206" width="12.5" height="6.5" fill="#1094c0"/>
<rect x="406" y="206" width="6.5" height="6.5" fill="#1098c0"/>
<rect x="412" y="206" width="6.5" height="6.5" fill="#109cc4"/>
<rect x="418" y="206" width="6.5" height="6.5" fill="#109cc8"/>
<rect x="424" y="206" width="48.5" height="6.5" fill="#10a0c8"/>
<rect x="472" y="206" width="6.5" height="6.5" fill="#1090cc"/>
<rect x="478" y="206" width="6.5" height="6.5" fill="#0c64d4"/>
<rect x="484" y="206" width="6.5" height="6.5" fill="#0c4cd8"/>
<rect x="490" y="206" width="12.5" height="6.5" fill="#0848d8"/>
<rect x="502" y="206" width="6.5" height="6.5" fill="#0c48d8"/>
<rect x="508" y="206" width="6.5" height="6.5" fill="#0c4cd8"/>
<rect x="514" y="206" width="6.5" height="6.5" fill="#0c50d8"/>
<rect x="520" y="206" width="6.5" height="6.5" fill="#0c5cd4"/>
<rect x="526" y="206" width="6.5" height="6.5" fill="#0c74d0"/>
<rect x="532" y="206" width="6.5" height="6.5" fill="#1088cc"/>
<rect x="538" y="206" width="6.5" height="6.5" fill="#1090cc"/>
<rect x="544" y="206" width="6.5" height="6.5" fill="#1094cc"/>
<rect x="550" y="206" width="12.5" height="6.5" fill="#1098cc"/>
<rect x="562" y="206" width="54.5" height="6.5" fill="#1094c8"/>
<rect x="394" y="212" width="12.5" height="6.5" fill="#109cc4"/>
<rect x="406" y="212" width="6.5" height="6.5" fill="#109cc8"/>
<rect x="412" y="212" width="54.5" height="6.5" fill="#10a0c8"/>
<rect x="466" y="212" width="6.5" height="6.5" fill="#1090cc"/>
<rect x="472" y="212" width="6.5" height="6.5" fill="#0c6cd4"/>
<rect x="478" y="212" width="6.5" height="6.5" fill="#0c50d8"/>
<rect x="484" y="212" width="6.5" height="6.5" fill="#0c4cd8"/>
<rect x="490" y="212" width="6.5" height="6.5" fill="#0c48d8"/>
<rect x="496" y="212" width="6.5" height="6.5" fill="#0848d8"/>
<rect x="502" y="212" width="6.5" height="6.5" fill="#0c48d8"/>
<rect x="508" y="212" width="6.5" height="6.5" fill="#0c4cd8"/>
<rect x="514" y="212" width="6.5" height="6.5" fill="#0c50d8"/>
<rect x="520" y="212" width="6.5" height="6.5" fill="#0c58d8"/>
<rect x="526" y="212" width="6.5" height="6.5" fill="#0c68d4"/>
<rect x="532" y="212" width="6.5" height="6.5" fill="#107cd0"/>
<rect x="538" y="212" width="6.5" height="6.5" fill="#1088cc"/>
<rect x="544" y="212" width="6.5" height="6.5" fill="#1090cc"/>
<rect x="550" y="212" width="12.5" height="6.5" fill="#1098cc"/>
<rect x="562" y="212" width="24.5" height="6.5" fill="#109ccc"/>
<rect x="586" y="212" width="6.5" height="6.5" fill="#1098cc"/>
<rect x="592" y="212" width="6.5" height="6.5" fill="#149ccc"/>
<rect x="598" y="212" width="6.5" height="6.5" fill="#14a0d0"/>
<rect x="604" y="212" width="6.5" height="6.5" fill="#14a4d0"/>
<rect x="610" y="212" width="6.5" height="6.5" fill="#14a0d0"/>
<rect x="394" y="218" width="60.5" height="6.5" fill="#10a0c8"/>
<rect x="454" y="218" width="6.5" height="6.5" fill="#109cc8"/>
<rect x="460" y="218" width="6.5" height="6.5" fill="#1090cc"/>
<rect x="466" y="218" width="6.5" height="6.5" fill="#0c70d0"/>
<rect x="472" y="218" width="6.5" height="6.5" fill="#0c58d8"/>
<rect x="478" y="218" width="6.5" height="6.5" fill="#0c50d8"/>
<rect x="484" y="218" width="6.5" height="6.5" fill="#0c4cd8"/>
<rect x="490" y="218" width="18.5" height="6.5" fill="#0c48d8"/>
<rect x="508" y="218" width="6.5" height="6.5" fill="#0c4cd8"/>
<rect x="514" y="218" width="6.5" height="6.5" fill="#0c50d8"/>
<rect x="520" y="218" width="6.5" height="6.5" fill="#0c54d8"/>
<rect x="526" y="218" width="6.5" height="6.5" fill="#0c60d4"/>
<rect x="532" y="218" width="6.5" height="6.5" fill="#1074d0"/>
<rect x="538" y="218" width="6.5" height="6.5" fill="#1084cc"/>
<rect x="544" y="218" width="6.5" height="6.5" fill="#108ccc"/>
<rect x="550" y="218" width="6.5" height="6.5" fill="#1094cc"/>
<rect x="556" y="218" width="6.5" height="6.5" fill="#1098cc"/>
<rect x="562" y="218" width="6.5" height="6.5" fill="#149ccc"/>
<rect x="568" y="218" width="18.5" height="6.5" fill="#14a0cc"/>
<rect x="586" y="218" width="6.5" height="6.5" fill="#14a4d0"/>
<rect x="592" y="218" width="6.5" height="6.5" fill="#14a8d0"/>
<rect x="598" y="218" width="6.5" height="6.5" fill="#18b4d8"/>
<rect x="604" y="218" width="12.5" height="6.5" fill="#1cb8d8"/>
<rect x="394" y="224" width="12.5" height="6.5" fill="#10a4cc"/>
<rect x="406" y="224" width="42.5" height="6.5" fill="#10a0c8"/>
<rect x="448" y="224" width="6.5" height="6.5" fill="#109cc8"/>
<rect x="454" y="224" width="6.5" height="6.5" fill="#1094c8"/>
<rect x="460" y="224" width="6.5" height="6.5" fill="#0c78d0"/>
<rect x="466" y="224" width="6.5" height="6.5" fill="#0c60d4"/>
<rect x="472" y="224" width="6.5" height="6.5" fill="#0c54d8"/>
<rect x="478" y="224" width="6.5" height="6.5" fill="#0c50d8"/>
<rect x="484" y="224" width="6.5" height="6.5" fill="#0c4cd8"/>
<rect x="490" y="224" width="18.5" height="6.5" fill="#0c48d8"/>
<rect x="508" y="224" width="6.5" height="6.5" fill="#0c4cd8"/>
<rect x="514" y="224" width="6.5" height="6.5" fill="#0c50d8"/>
<rect x="520" y="224" width="6.5" height="6.5" fill="#0c54d8"/>
<rect x="526" y="224" width="6.5" height="6.5" fill="#0c5cd4"/>
<rect x="532" y="224" width="6.5" height="6.5" fill="#0c6cd0"/>
<rect x="538" y="224" width="6.5" height="6.5" fill="#107cd0"/>
<rect x="544" y="224" width="6.5" height="6.5" fill="#1088cc"/>
<rect x="550" y="224" width="6.5" height="6.5" fill="#108ccc"/>
<rect x="556" y="224" width="6.5" height="6.5" fill="#1094cc"/>
<rect x="562" y="224" width="6.5" height="6.5" fill="#1098cc"/>
<rect x="568" y="224" width="6.5" height="6.5" fill="#149ccc"/>
<rect x="574" y="224" width="6.5" height="6.5" fill="#14a0cc"/>
<rect x="580" y="224" width="12.5" height="6.5" fill="#14a4d0"/>
<rect x="592" y="224" width="6.5" height="6.5" fill="#18b0d4"/>
<rect x="598" y="224" width="6.5" height="6.5" fill="#1cb8d8"/>
<rect x="604" y="224" width="12.5" height="6.5" fill="#1cbcdc"/>
<rect x="394" y="230" width="30.5" height="6.5" fill="#10a4cc"/>
<rect x="424" y="230" width="18.5" height="6.5" fill="#10a0c8"/>
<rect x="442" y="230" width="6.5" height="6.5" fill="#109cc8"/>
<rect x="448" y="230" width="6.5" height="6.5" fill="#1098c8"/>
<rect x="454" y="230" width="6.5" height="6.5" fill="#1088cc"/>
<rect x="460" y="230" width="6.5" height="6.5" fill="#0c6cd0"/>
<rect x="466" y="230" width="6.5" height="6.5" fill="#0c58d4"/>
<rect x="472" y="230" width="12.5" height="6.5" fill="#0c50d8"/>
<rect x="484" y="230" width="6.5" height="6.5" fill="#0c4cd8"/>
<rect x="490" y="230" width="18.5" height="6.5" fill="#0c48d8"/>
<rect x="508" y="230" width="6.5" height="6.5" fill="#0c4cd8"/>
<rect x="514" y="230" width="12.5" height="6.5" fill="#0c50d8"/>
<rect x="526" y="230" width="6.5" height="6.5" fill="#0c58d8"/>
<rect x="532" y="230" width="6.5" height="6.5" fill="#0c64d4"/>
<rect x="538" y="230" width="6.5" height="6.5" fill="#1074d0"/>
<rect x="544" y="230" width="6.5" height="6.5" fill="#1080cc"/>
<rect x="550" y="230" width="6.5" height="6.5" fill="#1088cc"/>
<rect x="556" y="230" width="6.5" height="6.5" fill="#1090cc"/>
<rect x="562" y="230" width="6.5" height="6.5" fill="#1094cc"/>
<rect x="568" y="230" width="6.5" height="6.5" fill="#1098cc"/>
<rect x="574" y="230" width="6.5" height="6.5" fill="#149ccc"/>
<rect x="580" y="230" width="6.5" height="6.5" fill="#14a0cc"/>
<rect x="586" y="230" width="6.5" height="6.5" fill="#14a4d0"/>
<rect x="592" y="230" width="6.5" height="6.5" fill="#14acd0"/>
<rect x="598" y="230" width="6.5" height="6.5" fill="#18b4d4"/>
<rect x="604" y="230" width="6.5" height="6.5" fill="#18b8d8"/>
<rect x="610" y="230" width="6.5" height="6.5" fill="#18b4d8"/>
<rect x="394" y="236" width="30.5" height="6.5" fill="#10a4cc"/>
<rect x="424" y="236" width="12.5" height="6.5" fill="#10a0c8"/>
<rect x="436" y="236" width="6.5" height="6.5" fill="#109cc8"/>
<rect x="442" y="236" width="6.5" height="6.5" fill="#1098c8"/>
<rect x="448" y="236" width="6.5" height="6.5" fill="#1090c8"/>
<rect x="454" y="236" width="6.5" height="6.5" fill="#1080cc"/>
<rect x="460" y="236" width="6.5" height="6.5" fill="#0c68d4"/>
<rect x="466" y="236" width="6.5" height="6.5" fill="#0c58d8"/>
<rect x="472" y="236" width="12.5" height="6.5" fill="#0c50d8"/>
<rect x="484" y="236" width="6.5" height="6.5" fill="#0c4cd8"/>
<rect x="490" y="236" width="18.5" height="6.5" fill="#0c48d8"/>
<rect x="508" y="236" width="6.5" height="6.5" fill="#0c4cd8"/>
<rect x="514" y="236" width="12.5" height="6.5" fill="#0c50d8"/>
<rect x="526" y="236" width="6.5" height="6.5" fill="#0c54d8"/>
<rect x="532" y="236" width="6.5" height="6.5" fill="#0c60d4"/>
<rect x="538" y="236" width="6.5" height="6.5" fill="#1070d0"/>
<rect x="544" y="236" width="6.5" height="6.5" fill="#107cd0"/>
<rect x="550" y="236" width="6.5" height="6.5" fill="#1084cc"/>
<rect x="556" y="236" width="6.5" height="6.5" fill="#1088cc"/>
<rect x="562" y="236" width="6.5" height="6.5" fill="#1090cc"/>
<rect x="568" y="236" width="6.5" height="6.5" fill="#1094cc"/>
<rect x="574" y="236" width="6.5" height="6.5" fill="#1098cc"/>
<rect x="580" y="236" width="6.5" height="6.5" fill="#14a0cc"/>
<rect x="586" y="236" width="12.5" height="6.5" fill="#14a4d0"/>
<rect x="598" y="236" width="6.5" height="6.5" fill="#14a8d0"/>
<rect x="604" y="236" width="6.5" height="6.5" fill="#14acd4"/>
<rect x="610" y="236" width="6.5" height="6.5" fill="#14acd0"/>
<rect x="394" y="242" width="24.5" height="6.5" fill="#10a4cc"/>
<rect x="418" y="242" width="12.5" height="6.5" fill="#10a0c8"/>
<rect x="430" y="242" width="12.5" height="6.5" fill="#109cc8"/>
<rect x="442" y="242" width="6.5" height="6.5" fill="#1098c8"/>
<rect x="448" y="242" width="6.5" height="6.5" fill="#108ccc"/>
<rect x="454" y="242" width="6.5" height="6.5" fill="#0c7ccc"/>
<rect x="460" y="242" width="6.5" height="6.5" fill="#0c64d4"/>
<rect x="466" y="242" width="6.5" height="6.5" fill="#0c58d8"/>
<rect x="472" y="242" width="6.5" height="6.5" fill="#0c50d8"/>
<rect x="478" y="242" width="12.5" height="6.5" fill="#0c4cd8"/>
<rect x="490" y="242" width="18.5" height="6.5" fill="#0c48d8"/>
<rect x="508" y="242" width="12.5" height="6.5" fill="#0c4cd8"/>
<rect x="520" y="242" width="6.5" height="6.5" fill="#0c50d8"/>
<rect x="526" y="242" width="6.5" height="6.5" fill="#0c54d8"/>
<rect x="532" y="242" width="6.5" height="6.5" fill="#0c5cd4"/>
<rect x="538" y="242" width="6.5" height="6.5" fill="#0c6cd4"/>
<rect x="544" y="242" width="6.5" height="6.5" fill="#1078d0"/>
<rect x="550" y="242" width="6.5" height="6.5" fill="#1080cc"/>
<rect x="556" y="242" width="6.5" height="6.5" fill="#1084cc"/>
<rect x="562" y="242" width="6.5" height="6.5" fill="#108ccc"/>
<rect x="568" y="242" width="6.5" height="6.5" fill="#1090cc"/>
<rect x="574" y="242" width="6.5" height="6.5" fill="#1094cc"/>
<rect x="580" y="242" width="6.5" height="6.5" fill="#109ccc"/>
<rect x="586" y="242" width="6.5" height="6.5" fill="#14a0cc"/>
<rect x="592" y="242" width="12.5" height="6.5" fill="#14a4d0"/>
<rect x="604" y="242" width="12.5" height="6.5" fill="#14a8d0"/>
<rect x="394" y="248" width="12.5" height="6.5" fill="#109cc8"/>
<rect x="406" y="248" width="24.5" height="6.5" fill="#10a0c8"/>
<rect x="430" y="248" width="6.5" height="6.5" fill="#109cc8"/>
<rect x="436" y="248" width="6.5" height="6.5" fill="#1098c8"/>
<rect x="442" y="248" width="6.5" height="6.5" fill="#1094c8"/>
<rect x="448" y="248" width="6.5" height="6.5" fill="#1088cc"/>
<rect x="454" y="248" width="6.5" height="6.5" fill="#0c74d0"/>
<rect x="460" y="248" width="6.5" height="6.5" fill="#0c60d4"/>
<rect x="466" y="248" width="6.5" height="6.5" fill="#0c54d8"/>
<rect x="472" y="248" width="6.5" height="6.5" fill="#0c50d8"/>
<rect x="478" y="248" width="12.5" height="6.5" fill="#0c4cd8"/>
<rect x="490" y="248" width="18.5" height="6.5" fill="#0c48d8"/>
<rect x="508" y="248" width="12.5" height="6.5" fill="#0c4cd8"/>
<rect x="520" y="248" width="6.5" height="6.5" fill="#0c50d8"/>
<rect x="526" y="248" width="6.5" height="6.5" fill="#0c54d8"/>
<rect x="532" y="248" width="6.5" height="6.5" fill="#0c58d8"/>
<rect x="538" y="248" width="6.5" height="6.5" fill="#0c64d4"/>
<rect x="544" y="248" width="6.5" height="6.5" fill="#1074d0"/>
<rect x="550" y="248" width="6.5" height="6.5" fill="#107cd0"/>
<rect x="556" y="248" width="6.5" height="6.5" fill="#1080cc"/>
<rect x="562" y="248" width="6.5" height="6.5" fill="#1088cc"/>
<rect x="568" y="248" width="6.5" height="6.5" fill="#108ccc"/>
<rect x="574" y="248" width="6.5" height="6.5" fill="#1090cc"/>
<rect x="580" y="248" width="6.5" height="6.5" fill="#1098cc"/>
<rect x="586" y="248" width="6.5" height="6.5" fill="#14a0cc"/>
<rect x="592" y="248" width="12.5" height="6.5" fill="#14a4d0"/>
<rect x="604" y="248" width="12.5" height="6.5" fill="#14a8d0"/>
<rect x="394" y="254" width="12.5" height="6.5" fill="#1094c0"/>
<rect x="406" y="254" width="6.5" height="6.5" fill="#1098c4"/>
<rect x="412" y="254" width="18.5" height="6.5" fill="#109cc8"/>
<rect x="430" y="254" width="12.5" height="6.5" fill="#1098c8"/>
<rect x="442" y="254" width="6.5" height="6.5" fill="#1090c8"/>
<rect x="448" y="254" width="6.5" height="6.5" fill="#1084cc"/>
<rect x="454" y="254" width="6.5" height="6.5" fill="#0c70d0"/>
<rect x="460" y="254" width="6.5" height="6.5" fill="#0c60d4"/>
<rect x="466" y="254" width="6.5" height="6.5" fill="#0c54d8"/>
<rect x="472" y="254" width="6.5" height="6.5" fill="#0c50d8"/>
<rect x="478" y="254" width="12.5" height="6.5" fill="#0c4cd8"/>
<rect x="490" y="254" width="18.5" height="6.5" fill="#0c48d8"/>
<rect x="508" y="254" width="12.5" height="6.5" fill="#0c4cd8"/>
<rect x="520" y="254" width="12.5" height="6.5" fill="#0c50d8"/>
<rect x="532" y="254" width="6.5" height="6.5" fill="#0c58d8"/>
<rect x="538" y="254" width="6.5" height="6.5" fill="#0c60d4"/>
<rect x="544" y="254" width="6.5" height="6.5" fill="#1070d0"/>
<rect x="550" y="254" width="6.5" height="6.5" fill="#1078d0"/>
<rect x="556" y="254" width="6.5" height="6.5" fill="#107cd0"/>
<rect x="562" y="254" width="6.5" height="6.5" fill="#1084cc"/>
<rect x="568" y="254" width="6.5" height="6.5" fill="#1088cc"/>
<rect x="574" y="254" width="6.5" height="6.5" fill="#1090cc"/>
<rect x="580" y="254" width="6.5" height="6.5" fill="#1098cc"/>
<rect x="586" y="254" width="6.5" height="6.5" fill="#14a0cc"/>
<rect x="592" y="254" width="6.5" height="6.5" fill="#14a4d0"/>
<rect x="598" y="254" width="18.5" height="6.5" fill="#14a8d0"/>
<rect x="394" y="260" width="6.5" height="6.5" fill="#0c8cbc"/>
<rect x="400" y="260" width="6.5" height="6.5" fill="#0c90bc"/>
<rect x="406" y="260" width="6.5" height="6.5" fill="#0c94c0"/>
<rect x="412" y="260" width="6.5" height="6.5" fill="#1098c4"/>
<rect x="418" y="260" width="12.5" height="6.5" fill="#109cc8"/>
<rect x="430" y="260" width="6.5" height="6.5" fill="#1098c8"/>
<rect x="436" y="260" width="6.5" height="6.5" fill="#1094c8"/>
<rect x="442" y="260" width="6.5" height="6.5" fill="#1090c8"/>
<rect x="448" y="260" width="6.5" height="6.5" fill="#1084cc"/>
<rect x="454" y="260" width="6.5" height="6.5" fill="#0c70d0"/>
<rect x="460" y="260" width="6.5" height="6.5" fill="#0c5cd4"/>
<rect x="466" y="260" width="6.5" height="6.5" fill="#0c54d8"/>
<rect x="472" y="260" width="6.5" height="6.5" fill="#0c50d8"/>
<rect x="478" y="260" width="12.5" height="6.5" fill="#0c4cd8"/>
<rect x="490" y="260" width="18.5" height="6.5" fill="#0c48d8"/>
<rect x="508" y="260" width="12.5" height="6.5" fill="#0c4cd8"/>
<rect x="520" y="260" width="12.5" height="6.5" fill="#0c50d8"/>
<rect x="532" y="260" width="6.5" height="6.5" fill="#0c54d8"/>
<rect x="538" y="260" width="6.5" height="6.5" fill="#0c60d4"/>
<rect x="544" y="260" width="6.5" height="6.5" fill="#0c6cd4"/>
<rect x="550" y="260" width="6.5" height="6.5" fill="#1074d0"/>
<rect x="556" y="260" width="6.5" height="6.5" fill="#107cd0"/>
<rect x="562" y="260" width="6.5" height="6.5" fill="#1080cc"/>
<rect x="568" y="260" width="6.5" height="6.5" fill="#1084cc"/>
<rect x="574" y="260" width="6.5" height="6.5" fill="#108ccc"/>
<rect x="580" y="260" width="6.5" height="6.5" fill="#1098cc"/>
<rect x="586" y="260" width="6.5" height="6.5" fill="#14a0cc"/>
<rect x="592" y="260" width="6.5" height="6.5" fill="#14a4d0"/>
<rect x="598" y="260" width="18.5" height="6.5" fill="#14a8d0"/>
<rect x="394" y="266" width="6.5" height="6.5" fill="#0c8cb8"/>
<rect x="400" y="266" width="6.5" height="6.5" fill="#0c8cbc"/>
<rect x="406" y="266" width="6.5" height="6.5" fill="#0c90bc"/>
<rect x="412" y="266" width="6.5" height="6.5" fill="#1094c4"/>
<rect x="418" y="266" width="12.5" height="6.5" fill="#1098c8"/>
<rect x="430" y="266" width="12.5" height="6.5" fill="#1094c8"/>
<rect x="442" y="266" width="6.5" height="6.5" fill="#108cc8"/>
<rect x="448" y="266" width="6.5" height="6.5" fill="#1080cc"/>
<rect x="454" y="266" width="6.5" height="6.5" fill="#0c6cd0"/>
<rect x="460" y="266" width="6.5" height="6.5" fill="#0c5cd4"/>
<rect x="466" y="266" width="6.5" height="6.5" fill="#0c54d8"/>
<rect x="472" y="266" width="6.5" height="6.5" fill="#0c50d8"/>
<rect x="478" y="266" width="12.5" height="6.5" fill="#0c4cd8"/>
<rect x="490" y="266" width="18.5" height="6.5" fill="#0c48d8"/>
<rect x="508" y="266" width="12.5" height="6.5" fill="#0c4cd8"/>
<rect x="520" y="266" width="12.5" height="6.5" fill="#0c50d8"/>
<rect x="532" y="266" width="6.5" height="6.5" fill="#0c54d8"/>
<rect x="538" y="266" width="6.5" height="6.5" fill="#0c5cd4"/>
<rect x="544" y="266" width="6.5" height="6.5" fill="#0c68d4"/>
<rect x="550" y="266" width="6.5" height="6.5" fill="#1074d0"/>
<rect x="556" y="266" width="6.5" height="6.5" fill="#1078d0"/>
<rect x="562" y="266" width="6.5" height="6.5" fill="#107cd0"/>
<rect x="568" y="266" width="6.5" height="6.5" fill="#1084cc"/>
<rect x="574" y="266" width="6.5" height="6.5" fill="#108ccc"/>
<rect x="580" y="266" width="6.5" height="6.5" fill="#1098cc"/>
<rect x="586" y="266" width="6.5" height="6.5" fill="#14a0d0"/>
<rect x="592" y="266" width="6.5" height="6.5" fill="#14a4d0"/>
<rect x="598" y="266" width="18.5" height="6.5" fill="#14a8d0"/>
<rect x="394" y="272" width="6.5" height="6.5" fill="#0c8cb8"/>
<rect x="400" y="272" width="6.5" height="6.5" fill="#0c8cbc"/>
<rect x="406" y="272" width="6.5" height="6.5" fill="#0c90bc"/>
<rect x="412" y="272" width="6.5" height="6.5" fill="#1094c4"/>
<rect x="418" y="272" width="12.5" height="6.5" fill="#1098c8"/>
<rect x="430" y="272" width="6.5" height="6.5" fill="#1094c8"/>
<rect x="436" y="272" width="6.5" height="6.5" fill="#1090c8"/>
<rect x="442" y="272" width="6.5" height="6.5" fill="#108cc8"/>
<rect x="448" y="272" width="6.5" height="6.5" fill="#107ccc"/>
<rect x="454" y="272" width="6.5" height="6.5" fill="#0c68d4"/>
<rect x="460" y="272" width="6.5" height="6.5" fill="#0c58d4"/>
<rect x="466" y="272" width="6.5" height="6.5" fill="#0c54d8"/>
<rect x="472" y="272" width="6.5" height="6.5" fill="#0c50d8"/>
<rect x="478" y="272" width="12.5" height="6.5" fill="#0c4cd8"/>
<rect x="490" y="272" width="18.5" height="6.5" fill="#0c48d8"/>
<rect x="508" y="272" width="12.5" height="6.5" fill="#0c4cd8"/>
<rect x="520" y="272" width="12.5" height="6.5" fill="#0c50d8"/>
<rect x="532" y="272" width="6.5" height="6.5" fill="#0c54d8"/>
<rect x="538" y="272" width="6.5" height="6.5" fill="#0c58d8"/>
<rect x="544" y="272" width="6.5" height="6.5" fill="#0c64d4"/>
<rect x="550" y="272" width="6.5" height="6.5" fill="#1070d0"/>
<rect x="556" y="272" width="6.5" height="6.5" fill="#1078d0"/>
<rect x="562" y="272" width="6.5" height="6.5" fill="#107cd0"/>
<rect x="568" y="272" width="6.5" height="6.5" fill="#1080d0"/>
<rect x="574" y="272" width="6.5" height="6.5" fill="#1088cc"/>
<rect x="580" y="272" width="6.5" height="6.5" fill="#1498d0"/>
<rect x="586" y="272" width="6.5" height="6.5" fill="#14a0d0"/>
<rect x="592" y="272" width="24.5" height="6.5" fill="#14a8d0"/>
<rect x="394" y="278" width="12.5" height="6.5" fill="#0c8cbc"/>
<rect x="406" y="278" width="6.5" height="6.5" fill="#0c90c0"/>
<rect x="412" y="278" width="6.5" height="6.5" fill="#1098c4"/>
<rect x="418" y="278" width="6.5" height="6.5" fill="#1098c8"/>
<rect x="424" y="278" width="12.5" height="6.5" fill="#1094c8"/>
<rect x="436" y="278" width="6.5" height="6.5" fill="#1090c8"/>
<rect x="442" y="278" width="6.5" height="6.5" fill="#1088cc"/>
<rect x="448" y="278" width="6.5" height="6.5" fill="#0c78cc"/>
<rect x="454" y="278" width="6.5" height="6.5" fill="#0c64d4"/>
<rect x="460" y="278" width="6.5" height="6.5" fill="#0c58d8"/>
<rect x="466" y="278" width="6.5" height="6.5" fill="#0c54d8"/>
<rect x="472" y="278" width="6.5" height="6.5" fill="#0c50d8"/>
<rect x="478" y="278" width="12.5" height="6.5" fill="#0c4cd8"/>
<rect x="490" y="278" width="18.5" height="6.5" fill="#0c48d8"/>
<rect x="508" y="278" width="12.5" height="6.5" fill="#0c4cd8"/>
<rect x="520" y="278" width="18.5" height="6.5" fill="#0c50d8"/>
<rect x="538" y="278" width="6.5" height="6.5" fill="#0c58d8"/>
<rect x="544" y="278" width="6.5" height="6.5" fill="#0c60d4"/>
<rect x="550" y="278" width="6.5" height="6.5" fill="#106cd4"/>
<rect x="556" y="278" width="6.5" height="6.5" fill="#1074d0"/>
<rect x="562" y="278" width="6.5" height="6.5" fill="#1078d0"/>
<rect x="568" y="278" width="6.5" height="6.5" fill="#1080d0"/>
<rect x="574" y="278" width="6.5" height="6.5" fill="#1088d0"/>
<rect x="580" y="278" width="6.5" height="6.5" fill="#1498d0"/>
<rect x="586" y="278" width="6.5" height="6.5" fill="#14a4d0"/>
<rect x="592" y="278" width="24.5" height="6.5" fill="#14a8d0"/>
</g>
<g filter="url(#bl2)">
<path d="M426,54 Q450,62 482,51" stroke="#06308c" stroke-width="5" fill="none" opacity="0.9"/>
<path d="M534,59 Q560,51 588,50" stroke="#06308c" stroke-width="5" fill="none" opacity="0.9"/>
</g>
<g filter="url(#bl2)">
<path d="M415,205 Q412,240 411,270" stroke="#22c2d8" stroke-width="5" fill="none" opacity="0.45"/>
<path d="M403,235 L401.5,272" stroke="#0870a0" stroke-width="3" fill="none" opacity="0.5"/>
<path d="M603,214 Q606,235 606,262" stroke="#28d0e2" stroke-width="4" fill="none" opacity="0.6"/>
<path d="M588,205 Q593,235 591,270" stroke="#0c80b0" stroke-width="3" fill="none" opacity="0.45"/>
</g>
<polygon points="418.0,103.9 429.4,103.2 437.4,104.3 445.3,108.4 452.1,109.5 458.9,108.4 467.9,104.3 477.0,94.8 486.0,85.8 495.0,79.0 501.9,75.1 510.9,74.9 515.8,76.7 522.6,83.5 529.4,90.3 536.2,97.1 545.3,102.7 554.3,106.1 563.4,107.9 572.5,106.1 580.4,102.7 584.9,103.9 592.0,107.3 595.2,120.0 598.4,132.4 601.2,146.0 601.6,156.0 600.9,166.0 598.8,176.0 596.5,181.0 591.7,193.0 585.2,205.9 577.1,217.2 567.4,228.6 558.0,238.0 549.0,248.0 536.6,256.9 524.9,259.8 513.3,261.7 497.7,263.7 484.1,262.7 470.5,260.8 460.8,256.9 455.0,251.0 450.0,246.0 438.7,235.0 429.0,223.7 420.9,212.4 414.4,201.0 410.5,189.7 406.5,180.0 405.3,170.0 405.5,160.0 407.3,148.6 412.8,132.4 418.3,116.2" fill="none" stroke="url(#bandG)" stroke-width="13" stroke-linejoin="round" filter="url(#bl1)"/>
</g>
<g clip-path="url(#clipB)">
<polygon points="418.0,103.9 429.4,103.2 437.4,104.3 445.3,108.4 452.1,109.5 458.9,108.4 467.9,104.3 477.0,94.8 486.0,85.8 495.0,79.0 501.9,75.1 510.9,74.9 515.8,76.7 522.6,83.5 529.4,90.3 536.2,97.1 545.3,102.7 554.3,106.1 563.4,107.9 572.5,106.1 580.4,102.7 584.9,103.9 592.0,107.3 595.2,120.0 598.4,132.4 601.2,146.0 601.6,156.0 600.9,166.0 598.8,176.0 596.5,181.0 591.7,193.0 585.2,205.9 577.1,217.2 567.4,228.6 558.0,238.0 549.0,248.0 536.6,256.9 524.9,259.8 513.3,261.7 497.7,263.7 484.1,262.7 470.5,260.8 460.8,256.9 455.0,251.0 450.0,246.0 438.7,235.0 429.0,223.7 420.9,212.4 414.4,201.0 410.5,189.7 406.5,180.0 405.3,170.0 405.5,160.0 407.3,148.6 412.8,132.4 418.3,116.2" fill="#d42808"/>
<g filter="url(#bl1)">
<path fill="#d84410" fill-rule="evenodd" d="M565.2 115.5 556.5 111.8 545.5 108.0 529.0 104.0 520.5 102.8 508.8 101.8 487.8 102.0 476.0 103.5 472.5 104.5 468.8 106.5 459.5 110.2 452.5 111.8 446.8 112.0 443.2 113.0 432.5 118.5 422.8 125.8 418.8 130.0 416.0 134.0 412.2 142.0 410.0 149.0 409.0 157.8 409.0 166.5 410.2 176.8 411.5 182.0 415.5 194.0 419.8 203.8 423.2 210.0 429.0 218.2 439.8 231.2 454.0 244.0 462.8 250.0 471.2 253.8 476.0 255.2 485.0 257.2 497.2 258.5 511.5 257.2 522.8 255.2 534.2 251.8 542.5 247.2 546.8 244.5 551.5 240.2 568.2 223.2 575.8 214.2 583.0 203.8 588.8 192.0 591.5 185.0 594.5 175.2 596.0 165.5 596.5 157.2 596.2 150.8 595.0 145.0 591.5 137.5 587.2 131.8 582.0 126.5 573.2 120.0Z"/>
<path fill="#dc5c10" fill-rule="evenodd" d="M442.2 115.5 434.0 120.0 426.8 125.2 422.0 129.8 417.2 136.5 413.8 144.5 412.0 151.0 411.5 156.0 412.0 170.8 414.0 181.2 417.0 190.5 420.0 198.2 425.8 208.8 432.8 218.5 441.8 228.8 449.5 235.8 459.5 243.0 467.0 247.0 475.0 250.0 480.5 251.5 491.0 253.2 507.5 253.2 518.0 251.8 526.2 249.8 532.2 247.8 541.5 243.2 549.0 238.0 556.2 231.5 566.2 221.5 573.2 213.2 580.5 203.0 587.0 189.8 590.8 178.8 593.0 167.0 593.5 161.0 593.5 151.5 592.5 146.5 591.2 143.0 587.0 135.5 581.2 129.0 571.2 121.2 564.8 117.5 558.2 114.5 540.0 108.2 529.0 105.8 521.0 104.5 504.8 103.2 490.0 103.5 478.8 104.8 473.8 106.0 470.0 108.0 460.0 112.0 451.5 113.8 448.0 113.8Z"/>
<path fill="#da7414" fill-rule="evenodd" d="M438.8 119.5 433.2 123.0 427.0 128.0 421.2 134.5 418.0 140.2 415.8 146.0 414.2 152.2 414.0 162.0 415.2 174.2 417.0 182.0 419.8 190.2 424.8 201.2 428.8 208.0 436.2 218.0 445.8 228.0 453.5 234.2 460.0 238.5 467.8 242.5 475.0 245.2 482.5 247.2 492.0 248.8 504.2 249.0 510.0 248.5 518.0 247.2 528.2 244.5 535.2 241.8 541.2 238.8 547.0 235.0 555.0 228.5 568.8 214.5 578.2 201.5 585.5 186.5 588.5 176.2 590.5 162.5 590.5 151.0 589.8 147.2 588.0 142.5 583.8 135.5 575.8 127.2 567.2 121.2 556.2 115.8 538.8 109.8 524.8 106.8 507.2 105.0 492.8 105.0 483.5 105.8 477.5 106.8 474.2 107.8 469.0 110.5 461.5 113.5 452.8 115.5 446.8 116.0Z"/>
<path fill="#d78b18" fill-rule="evenodd" d="M483.2 107.5 475.5 109.2 470.8 111.8 461.5 115.5 452.2 117.5 449.2 117.5 444.8 118.8 435.5 124.0 429.0 129.2 425.2 133.2 421.8 138.2 419.2 143.5 418.0 147.0 416.8 153.2 416.8 162.8 418.2 175.2 420.2 183.5 423.8 192.8 427.0 199.2 432.2 207.8 437.2 214.2 448.5 225.8 456.5 231.8 463.2 235.8 469.0 238.5 476.5 241.2 485.8 243.5 493.2 244.5 501.8 244.8 509.2 244.2 518.5 242.8 525.2 241.0 533.5 238.0 540.2 234.8 547.0 230.5 553.2 225.8 557.2 222.2 566.0 213.2 571.2 206.8 575.5 200.5 582.2 187.2 585.8 175.2 587.0 168.0 587.8 158.8 587.8 153.0 586.5 146.5 585.2 143.2 582.0 137.5 579.2 134.0 574.5 129.2 565.2 122.5 553.0 116.5 537.5 111.2 521.8 108.0 502.5 106.5 491.0 106.8Z"/>
<path fill="#d29c1a" fill-rule="evenodd" d="M441.8 122.5 434.8 127.2 429.5 132.0 424.5 138.5 421.8 144.0 419.5 152.5 419.5 162.2 421.0 174.5 423.5 184.8 425.8 190.2 429.2 197.2 434.2 205.2 441.2 214.0 447.5 220.2 455.0 226.2 463.0 231.2 469.8 234.5 477.2 237.2 486.8 239.5 495.2 240.5 504.8 240.5 513.8 239.5 522.8 237.5 534.0 233.5 542.2 229.2 549.0 224.8 555.5 219.5 563.5 211.5 567.5 206.8 573.0 199.0 576.2 193.2 580.0 185.2 583.2 172.8 584.8 159.2 584.8 152.8 584.0 148.2 580.8 140.5 574.8 132.8 567.8 126.8 559.2 121.5 546.2 116.0 530.2 111.2 520.2 109.5 510.5 108.5 494.0 108.2 484.8 109.0 479.0 110.0 463.0 117.0 451.8 119.5 448.0 119.8Z"/>
<path fill="#cdab1c" fill-rule="evenodd" d="M439.0 126.8 435.5 129.5 430.2 134.8 427.8 138.0 424.8 143.5 422.8 149.5 422.2 152.5 422.2 161.5 422.8 167.2 424.2 176.2 426.2 184.0 429.0 190.5 433.8 199.0 438.5 205.8 445.0 213.2 451.2 219.0 456.5 223.0 464.2 227.8 470.5 230.8 480.8 234.2 489.5 236.0 494.0 236.5 506.0 236.5 519.0 234.5 532.0 230.2 543.5 224.2 554.5 216.0 562.0 208.5 568.0 201.0 572.5 194.0 576.2 186.8 579.2 177.2 581.5 163.2 581.8 152.5 580.2 146.0 576.2 138.5 570.0 131.5 561.2 125.0 552.0 120.2 537.5 115.0 523.8 111.8 508.0 110.0 492.2 110.0 480.2 111.5 463.5 118.8 452.8 121.2 447.5 122.0 443.2 124.0Z"/>
<path fill="#cab31e" fill-rule="evenodd" d="M445.2 125.2 439.0 129.5 432.8 135.5 429.5 140.0 426.8 145.5 425.0 153.0 425.0 160.0 425.8 168.2 427.5 177.8 429.5 184.8 433.0 192.0 438.0 200.0 443.8 207.2 450.5 214.0 456.8 219.0 462.5 222.8 469.8 226.5 476.8 229.2 484.0 231.2 491.5 232.5 498.8 233.0 506.2 232.8 514.0 231.8 522.5 229.8 531.0 226.8 541.8 221.2 548.0 217.0 553.5 212.5 560.2 205.8 565.5 199.2 570.5 191.5 574.0 184.8 576.8 174.8 578.5 163.2 578.8 152.5 577.0 145.5 573.8 139.5 571.0 136.0 566.8 131.8 560.0 126.8 552.8 122.8 536.2 116.5 525.2 113.8 509.5 111.8 495.5 111.5 485.8 112.2 480.8 113.2 465.0 120.2 452.5 123.2 448.8 123.8Z"/>
<path fill="#c7bb20" fill-rule="evenodd" d="M443.2 129.0 439.8 131.8 433.5 138.5 430.2 144.0 428.2 150.0 427.8 153.8 428.2 165.2 429.5 173.5 432.5 184.8 436.8 192.8 442.5 201.0 447.5 206.8 452.5 211.5 458.2 216.0 464.5 220.0 471.5 223.5 484.5 227.8 494.8 229.2 505.2 229.2 512.0 228.5 520.2 226.8 527.2 224.5 534.8 221.2 541.0 217.8 551.8 209.8 558.8 202.8 562.2 198.5 567.2 191.2 570.8 184.8 574.0 173.2 575.5 163.0 575.8 152.8 574.5 147.0 573.0 143.5 570.5 139.5 563.8 132.2 558.0 128.0 548.5 123.0 535.0 118.0 522.5 115.0 506.8 113.2 493.5 113.2 485.5 114.0 481.0 115.0 465.8 122.0 448.0 126.2Z"/>
<path fill="#c6bd22" fill-rule="evenodd" d="M487.0 115.5 480.2 117.2 474.8 120.2 466.5 123.8 457.0 125.8 449.2 128.0 446.8 129.2 441.8 133.0 435.5 140.0 432.5 145.5 431.0 150.5 430.8 161.0 432.8 175.0 435.8 185.2 439.0 191.0 443.5 197.5 447.0 201.8 453.5 208.2 463.2 215.5 473.5 220.8 485.5 224.5 497.8 226.0 510.8 225.2 516.2 224.2 525.0 221.8 531.8 219.0 538.0 215.8 547.8 209.0 557.8 199.2 564.8 189.8 567.5 185.0 569.2 179.8 572.0 167.2 572.8 159.5 572.8 152.8 571.2 146.5 569.0 142.0 566.5 138.5 559.5 131.8 551.8 126.8 540.2 121.8 526.2 117.5 514.0 115.5 502.2 114.8Z"/>
<path fill="#c5bf25" fill-rule="evenodd" d="M447.2 131.5 443.8 134.2 438.8 139.8 435.8 144.8 434.0 149.8 433.5 152.8 434.0 165.2 435.2 173.0 438.5 184.5 440.8 188.5 448.2 198.8 455.2 205.8 459.2 209.0 464.8 212.8 471.8 216.5 476.5 218.5 484.8 221.0 491.8 222.2 499.0 222.8 510.2 222.0 515.8 221.0 523.8 218.8 535.5 213.5 546.2 206.2 555.8 197.0 560.2 191.2 564.2 185.0 566.8 177.5 569.0 167.0 569.8 159.2 569.8 152.8 569.2 149.8 567.0 144.0 563.0 138.2 555.8 131.8 547.2 126.8 531.8 120.8 521.2 118.2 509.5 116.8 494.8 116.5 483.5 118.0 467.2 125.5 456.0 128.0 450.0 130.0Z"/>
<path fill="#c5c127" fill-rule="evenodd" d="M447.2 134.2 444.0 137.2 440.2 142.0 437.8 147.0 436.5 151.8 436.2 156.5 437.2 168.0 439.2 177.2 441.2 183.5 443.5 187.8 448.0 194.0 455.8 202.2 464.5 209.0 474.2 214.2 485.8 218.0 496.5 219.5 503.2 219.5 510.8 218.8 518.8 217.0 524.2 215.2 535.0 210.2 545.8 202.8 555.5 192.8 561.5 183.8 564.2 175.2 566.2 164.8 566.8 152.8 566.0 149.0 564.0 144.2 561.8 140.8 556.2 135.0 550.8 131.0 542.5 126.8 531.2 122.5 520.0 119.8 507.2 118.2 493.2 118.2 484.0 119.8 476.2 123.8 468.5 127.0 460.5 128.8 453.2 131.0Z"/>
<path fill="#c4c32a" fill-rule="evenodd" d="M449.8 135.2 445.0 139.8 442.5 143.2 440.8 146.8 439.2 152.5 439.8 165.2 441.2 173.5 443.0 179.8 445.0 185.0 452.5 195.0 457.2 199.8 462.8 204.2 473.2 210.5 478.0 212.5 486.2 215.0 498.0 216.5 508.2 216.0 520.8 213.2 531.5 208.8 542.0 202.0 547.5 197.2 552.0 192.5 558.0 184.2 560.8 176.5 562.8 168.0 563.8 159.2 563.8 152.8 562.2 147.0 560.2 143.2 555.2 137.2 548.8 132.2 540.5 128.0 529.2 123.8 515.5 120.8 504.0 119.8 492.2 120.0 484.5 121.5 481.5 122.8 478.0 125.0 469.2 128.8 457.8 131.5 453.8 133.0Z"/>
<path fill="#c4c42d" fill-rule="evenodd" d="M450.2 137.8 446.8 141.5 444.5 145.0 443.0 148.5 442.0 153.2 442.8 166.0 443.8 171.5 446.5 181.0 448.0 184.8 451.2 189.2 459.5 198.0 468.2 204.5 476.5 208.8 487.5 212.2 497.2 213.5 506.2 213.2 518.0 211.0 529.5 206.5 536.0 202.8 540.5 199.5 546.0 194.8 553.2 186.5 555.2 183.0 558.2 174.2 560.2 164.2 560.8 152.8 560.0 149.2 556.8 142.8 551.8 137.2 545.5 132.8 538.5 129.2 528.0 125.2 515.8 122.5 506.0 121.5 491.5 121.8 483.8 123.8 477.0 127.5 470.0 130.5 457.2 133.8 453.5 135.5Z"/>
<path fill="#c5c532" fill-rule="evenodd" d="M453.0 138.5 449.5 142.0 447.5 145.0 446.0 148.2 445.0 152.2 445.0 160.5 445.8 166.8 447.2 173.8 449.2 180.0 451.8 185.5 456.0 190.8 460.2 195.0 468.8 201.5 477.2 206.0 487.2 209.2 495.5 210.5 507.0 210.2 518.0 208.0 524.2 205.8 530.5 202.8 538.5 197.5 546.8 190.0 550.8 185.2 552.2 182.2 554.8 175.5 557.0 165.8 557.8 159.0 557.8 153.0 556.5 148.0 553.5 142.8 548.8 137.8 543.0 133.8 536.0 130.2 527.5 127.0 516.0 124.2 502.0 123.0 493.5 123.2 489.8 123.8 485.5 125.0 480.2 128.0 471.0 132.2 466.8 133.0 459.0 135.2Z"/>
<path fill="#c5c538" fill-rule="evenodd" d="M454.2 140.5 450.2 145.5 449.0 148.0 447.8 153.0 447.8 159.0 448.8 167.2 450.2 173.8 452.2 179.8 455.0 185.5 461.8 192.8 469.5 198.8 478.5 203.5 487.8 206.5 496.2 207.8 506.5 207.5 517.5 205.2 523.0 203.2 529.2 200.2 537.2 195.0 547.5 185.0 550.0 179.8 552.8 171.5 554.5 161.8 554.8 153.0 553.5 148.2 550.2 142.8 545.8 138.2 538.2 133.5 531.0 130.2 523.8 127.8 512.8 125.5 504.8 124.8 493.0 125.0 489.0 125.8 485.5 127.0 481.0 129.8 471.5 134.0 461.2 136.5 457.0 138.5Z"/>
<path fill="#c6c63d" fill-rule="evenodd" d="M457.2 141.0 453.2 145.5 451.0 150.8 450.5 154.0 451.2 164.8 452.2 170.0 454.2 176.8 457.8 184.8 463.8 191.0 468.8 195.0 477.8 200.2 486.0 203.2 496.0 205.0 504.0 205.0 514.5 203.2 524.2 199.8 533.0 194.8 538.8 190.2 544.0 185.0 546.2 180.8 549.2 172.8 551.0 165.2 551.8 158.8 551.8 153.0 551.2 150.5 548.5 144.8 544.5 140.2 539.8 136.8 533.8 133.5 525.0 130.0 514.8 127.5 506.2 126.5 495.0 126.5 490.2 127.2 487.2 128.2 481.8 131.5 472.2 135.8 463.0 138.0Z"/>
<path fill="#c6c642" fill-rule="evenodd" d="M459.8 142.0 456.0 146.0 454.5 149.0 453.5 152.8 454.0 164.0 455.8 172.0 457.2 176.5 461.0 184.5 463.5 187.2 471.5 193.8 479.8 198.2 486.0 200.5 495.0 202.2 507.0 202.0 511.5 201.2 518.5 199.2 528.5 194.5 536.8 188.5 540.8 184.5 544.8 176.5 546.8 170.5 548.5 161.5 548.8 153.0 547.8 149.2 545.2 144.8 541.5 140.8 534.8 136.2 527.8 133.0 521.2 130.8 511.8 128.8 503.2 128.0 494.5 128.2 489.8 129.2 486.8 130.5 480.5 134.2 473.0 137.5 464.0 139.8Z"/>
<path fill="#c7c748" fill-rule="evenodd" d="M461.0 144.0 457.8 148.2 456.2 153.5 456.5 161.0 457.2 166.0 460.5 176.8 464.0 183.8 467.2 187.2 473.5 192.0 482.2 196.5 488.5 198.5 496.2 199.8 506.2 199.5 510.8 198.8 517.8 196.8 528.0 191.8 536.5 185.2 539.2 181.0 542.2 174.5 544.5 167.0 545.8 158.5 545.8 153.2 544.5 148.8 542.0 144.8 537.5 140.5 533.2 137.8 524.5 133.8 516.0 131.2 505.2 129.8 494.5 130.0 489.0 131.5 481.2 136.0 474.5 139.0 465.8 141.2Z"/>
<path fill="#c8c84d" fill-rule="evenodd" d="M463.5 145.0 460.5 148.8 459.2 152.5 459.2 159.8 460.0 165.0 461.2 170.2 463.2 175.8 466.0 181.2 469.0 185.5 476.2 190.8 485.5 195.0 494.2 197.0 503.0 197.2 510.2 196.2 518.5 193.8 524.8 190.8 531.8 186.0 533.8 184.0 536.0 180.5 539.8 172.5 541.8 165.5 542.8 158.2 542.8 153.2 541.5 149.0 539.5 145.8 534.8 141.2 531.2 139.0 523.2 135.2 517.0 133.2 508.8 131.8 496.0 131.5 490.8 132.8 482.0 137.8 475.2 140.8 468.2 142.5Z"/>
<path fill="#c8c854" fill-rule="evenodd" d="M465.8 146.2 463.8 148.5 462.0 153.2 462.5 162.8 465.2 173.0 468.2 179.2 472.2 185.0 477.8 188.8 484.5 192.0 494.2 194.5 503.2 194.8 510.0 193.8 516.8 191.8 524.5 188.0 528.2 185.5 530.2 183.5 533.8 178.2 537.0 171.2 539.0 164.0 539.8 158.2 539.8 153.2 538.8 149.8 537.0 146.8 533.0 142.8 529.2 140.2 522.0 136.8 515.8 134.8 509.2 133.5 504.0 133.0 496.0 133.2 490.8 134.8 482.8 139.5 476.0 142.5 470.0 144.0Z"/>
<path fill="#c9c95c" fill-rule="evenodd" d="M467.8 147.8 465.5 151.0 464.8 156.2 465.8 164.5 468.8 173.8 472.8 180.8 476.8 185.2 483.0 188.8 489.2 191.0 496.0 192.2 506.0 192.0 512.0 190.8 521.8 186.8 525.0 184.8 529.5 179.2 533.0 173.0 535.2 166.8 536.5 160.5 536.8 153.2 536.0 150.5 534.2 147.5 531.5 144.5 527.2 141.5 521.2 138.5 514.5 136.2 505.2 134.8 496.0 135.0 492.5 136.0 483.5 141.2 476.8 144.2 471.2 145.8Z"/>
<path fill="#caca64" fill-rule="evenodd" d="M470.8 148.5 469.0 150.2 468.0 152.5 467.8 158.5 469.2 166.8 471.8 173.2 476.0 180.0 480.5 184.8 485.0 187.0 490.0 188.8 498.0 190.0 504.8 189.8 512.0 188.2 520.2 184.8 523.8 181.5 527.8 176.2 530.8 170.5 532.2 166.2 533.8 158.0 533.8 153.5 532.2 149.2 528.5 145.0 525.2 142.8 520.5 140.2 515.0 138.2 506.0 136.5 496.2 136.8 492.0 138.2 484.8 142.8Z"/>
<path fill="#cbcb6c" fill-rule="evenodd" d="M522.5 143.5 516.8 140.8 509.8 138.8 503.8 138.0 497.8 138.2 494.2 139.2 487.5 143.5 473.2 149.8 471.5 151.5 470.5 154.5 471.0 161.5 473.5 170.0 475.5 174.0 478.2 178.0 481.8 181.8 485.8 184.8 489.8 186.2 496.0 187.5 504.0 187.5 508.5 186.8 514.2 185.0 518.0 182.5 522.0 178.8 526.2 172.8 528.8 167.2 530.5 160.0 530.8 153.5 530.0 151.0 528.5 148.5 525.8 145.8Z"/>
<path fill="#cccc74" fill-rule="evenodd" d="M499.8 139.8 495.5 140.8 492.5 142.2 488.2 145.2 475.8 151.0 474.2 152.5 473.5 154.2 473.5 158.8 475.0 165.8 477.5 171.5 480.8 176.2 484.5 180.0 487.8 182.2 493.5 184.8 496.5 185.2 503.2 185.2 507.5 184.5 512.2 182.5 517.2 179.0 521.2 174.8 524.8 169.0 526.8 163.5 527.8 157.8 527.8 153.5 526.5 150.2 524.8 148.0 522.0 145.8 517.2 143.0 511.8 141.0 507.0 140.0Z"/>
<path fill="#cdcd7c" fill-rule="evenodd" d="M505.2 141.5 499.8 141.5 495.5 142.8 489.5 146.8 478.2 152.2 477.0 153.5 476.5 154.8 476.5 159.5 477.0 162.2 478.5 166.8 480.5 170.8 483.2 174.5 486.8 177.8 489.8 179.8 494.0 181.5 497.8 182.2 502.2 182.2 508.2 180.8 512.2 178.8 515.0 176.8 519.2 172.2 522.5 166.5 523.8 163.0 524.8 157.5 524.8 153.8 524.2 152.0 522.5 149.2 519.0 146.2 514.8 144.0 510.5 142.5Z"/>
<path fill="#cece83" fill-rule="evenodd" d="M512.8 145.2 505.5 143.2 500.0 143.2 498.0 143.8 494.0 145.8 488.5 149.5 483.0 152.0 479.8 154.8 479.2 158.0 481.0 165.2 483.8 170.2 488.0 174.8 490.5 176.5 494.5 178.2 498.2 179.0 501.5 179.0 505.5 178.2 509.8 176.5 513.0 174.2 516.2 171.0 518.5 167.8 520.8 162.5 521.8 157.2 521.8 153.8 520.8 151.2 518.0 148.2Z"/>
<path fill="#cfcf8a" fill-rule="evenodd" d="M511.5 146.8 505.8 145.0 500.5 145.0 498.5 145.5 483.8 154.2 482.8 155.8 482.2 157.8 483.0 162.2 485.5 167.5 489.2 171.8 491.8 173.5 496.0 175.2 499.0 175.8 502.8 175.5 505.8 174.8 509.2 173.0 514.2 168.5 515.5 166.8 518.0 161.0 518.8 157.0 518.8 154.0 517.5 151.2 515.0 148.8Z"/>
<path fill="#d1d192" fill-rule="evenodd" d="M511.5 149.0 506.8 147.0 501.0 146.8 497.5 148.0 492.2 151.8 487.2 154.5 485.5 157.0 485.5 160.2 488.5 166.5 492.5 170.2 497.5 172.2 503.5 172.0 508.8 169.5 511.2 167.2 513.2 164.5 515.0 160.5 515.8 156.8 515.8 154.2 515.0 152.2Z"/>
<path fill="#d2d299" fill-rule="evenodd" d="M509.5 150.2 506.2 148.8 501.5 148.5 499.2 149.2 490.2 155.2 488.8 157.0 488.5 159.8 490.2 163.8 493.0 166.8 495.0 168.0 498.0 169.0 503.0 168.8 506.8 167.0 509.2 164.8 511.0 162.2 512.5 158.2 512.5 153.5 512.0 152.5Z"/>
<path fill="#d4d49d" fill-rule="evenodd" d="M508.8 152.5 506.8 151.0 504.2 150.2 501.2 150.5 498.5 151.8 494.8 154.5 492.2 157.0 491.8 158.0 491.8 160.0 492.8 162.0 495.8 164.8 498.5 165.8 501.2 165.8 504.2 164.8 507.2 162.2 509.0 159.2 509.8 154.5Z"/>
<path fill="#d5d5a1" fill-rule="evenodd" d="M506.2 153.5 503.8 152.2 501.2 152.5 499.2 153.5 495.8 156.8 495.2 157.8 495.5 160.2 497.5 162.0 499.2 162.5 503.0 161.8 505.2 159.8 506.2 158.0 506.8 156.0Z"/>
<path fill="#d7d7a5" fill-rule="evenodd" d="M503.0 155.2 502.5 154.8 501.5 154.8 500.0 155.5 499.0 157.0 499.0 158.2 499.8 158.8 502.0 158.2 503.0 157.0Z"/>
</g>
<ellipse cx="500" cy="142" rx="20" ry="18" fill="url(#paleG)"/>
<linearGradient id="fadeTop" gradientUnits="userSpaceOnUse" x1="0" y1="60" x2="0" y2="215"><stop offset="0" stop-color="#fff"/><stop offset="0.55" stop-color="#fff"/><stop offset="1" stop-color="#000"/></linearGradient>
<mask id="mTop" maskUnits="userSpaceOnUse" x="390" y="50" width="230" height="230"><rect x="390" y="50" width="230" height="230" fill="url(#fadeTop)"/></mask>
<g mask="url(#mTop)"><polygon points="418.0,103.9 429.4,103.2 437.4,104.3 445.3,108.4 452.1,109.5 458.9,108.4 467.9,104.3 477.0,94.8 486.0,85.8 495.0,79.0 501.9,75.1 510.9,74.9 515.8,76.7 522.6,83.5 529.4,90.3 536.2,97.1 545.3,102.7 554.3,106.1 563.4,107.9 572.5,106.1 580.4,102.7 584.9,103.9 592.0,107.3 595.2,120.0 598.4,132.4 601.2,146.0 601.6,156.0 600.9,166.0 598.8,176.0 596.5,181.0 591.7,193.0 585.2,205.9 577.1,217.2 567.4,228.6 558.0,238.0 549.0,248.0 536.6,256.9 524.9,259.8 513.3,261.7 497.7,263.7 484.1,262.7 470.5,260.8 460.8,256.9 455.0,251.0 450.0,246.0 438.7,235.0 429.0,223.7 420.9,212.4 414.4,201.0 410.5,189.7 406.5,180.0 405.3,170.0 405.5,160.0 407.3,148.6 412.8,132.4 418.3,116.2" fill="none" stroke="#402008" stroke-width="30" opacity="0.45" filter="url(#bl7)"/></g>
<rect x="400" y="70" width="210" height="200" fill="url(#shadeB)"/>
<path d="M494,177 Q500,171 507,176" stroke="#3a2a08" stroke-width="1.6" fill="none" opacity="0.75" filter="url(#bl05)"/>
<ellipse cx="500" cy="170" rx="6" ry="3" fill="#fffff0" opacity="0.25" filter="url(#bl1)"/>
<circle cx="505.3" cy="100.2" r="4.4" fill="#fff0a0" opacity="0.28" filter="url(#bl1)"/>
<path d="M502.6,102.2 Q505.8,105.2 509.0,102.2" stroke="#4a3008" stroke-width="1.4" fill="none" opacity="0.35" filter="url(#bl05)"/>
<circle cx="505.8" cy="101.3" r="0.9" fill="#402808" opacity="0.5" filter="url(#bl05)"/>
<circle cx="446.3" cy="125.5" r="4.4" fill="#fff0a0" opacity="0.28" filter="url(#bl1)"/>
<path d="M443.6,127.5 Q446.8,130.5 450.0,127.5" stroke="#4a3008" stroke-width="1.4" fill="none" opacity="0.35" filter="url(#bl05)"/>
<circle cx="446.8" cy="126.6" r="0.9" fill="#402808" opacity="0.5" filter="url(#bl05)"/>
<circle cx="473.7" cy="127.60000000000001" r="4.4" fill="#fff0a0" opacity="0.28" filter="url(#bl1)"/>
<path d="M471.0,129.6 Q474.2,132.6 477.4,129.6" stroke="#4a3008" stroke-width="1.4" fill="none" opacity="0.35" filter="url(#bl05)"/>
<circle cx="474.2" cy="128.70000000000002" r="0.9" fill="#402808" opacity="0.5" filter="url(#bl05)"/>
<circle cx="503.2" cy="127.60000000000001" r="4.4" fill="#fff0a0" opacity="0.28" filter="url(#bl1)"/>
<path d="M500.5,129.6 Q503.7,132.6 506.9,129.6" stroke="#4a3008" stroke-width="1.4" fill="none" opacity="0.35" filter="url(#bl05)"/>
<circle cx="503.7" cy="128.70000000000002" r="0.9" fill="#402808" opacity="0.5" filter="url(#bl05)"/>
<circle cx="528.5" cy="127.60000000000001" r="4.4" fill="#fff0a0" opacity="0.28" filter="url(#bl1)"/>
<path d="M525.8,129.6 Q529.0,132.6 532.2,129.6" stroke="#4a3008" stroke-width="1.4" fill="none" opacity="0.35" filter="url(#bl05)"/>
<circle cx="529.0" cy="128.70000000000002" r="0.9" fill="#402808" opacity="0.5" filter="url(#bl05)"/>
<circle cx="555.8" cy="129.7" r="4.4" fill="#fff0a0" opacity="0.28" filter="url(#bl1)"/>
<path d="M553.0999999999999,131.7 Q556.3,134.7 559.5,131.7" stroke="#4a3008" stroke-width="1.4" fill="none" opacity="0.35" filter="url(#bl05)"/>
<circle cx="556.3" cy="130.8" r="0.9" fill="#402808" opacity="0.5" filter="url(#bl05)"/>
<circle cx="421.1" cy="152.89999999999998" r="4.4" fill="#fff0a0" opacity="0.28" filter="url(#bl1)"/>
<path d="M418.40000000000003,154.89999999999998 Q421.6,157.89999999999998 424.8,154.89999999999998" stroke="#4a3008" stroke-width="1.4" fill="none" opacity="0.35" filter="url(#bl05)"/>
<circle cx="421.6" cy="154.0" r="0.9" fill="#402808" opacity="0.5" filter="url(#bl05)"/>
<circle cx="448.5" cy="155.0" r="4.4" fill="#fff0a0" opacity="0.28" filter="url(#bl1)"/>
<path d="M445.8,157.0 Q449.0,160.0 452.2,157.0" stroke="#4a3008" stroke-width="1.4" fill="none" opacity="0.35" filter="url(#bl05)"/>
<circle cx="449.0" cy="156.10000000000002" r="0.9" fill="#402808" opacity="0.5" filter="url(#bl05)"/>
<circle cx="475.8" cy="157.1" r="4.4" fill="#fff0a0" opacity="0.28" filter="url(#bl1)"/>
<path d="M473.1,159.1 Q476.3,162.1 479.5,159.1" stroke="#4a3008" stroke-width="1.4" fill="none" opacity="0.35" filter="url(#bl05)"/>
<circle cx="476.3" cy="158.20000000000002" r="0.9" fill="#402808" opacity="0.5" filter="url(#bl05)"/>
<circle cx="503.2" cy="157.1" r="4.4" fill="#fff0a0" opacity="0.28" filter="url(#bl1)"/>
<path d="M500.5,159.1 Q503.7,162.1 506.9,159.1" stroke="#4a3008" stroke-width="1.4" fill="none" opacity="0.35" filter="url(#bl05)"/>
<circle cx="503.7" cy="158.20000000000002" r="0.9" fill="#402808" opacity="0.5" filter="url(#bl05)"/>
<circle cx="530.5" cy="157.1" r="4.4" fill="#fff0a0" opacity="0.28" filter="url(#bl1)"/>
<path d="M527.8,159.1 Q531.0,162.1 534.2,159.1" stroke="#4a3008" stroke-width="1.4" fill="none" opacity="0.35" filter="url(#bl05)"/>
<circle cx="531.0" cy="158.20000000000002" r="0.9" fill="#402808" opacity="0.5" filter="url(#bl05)"/>
<circle cx="557.9" cy="155.0" r="4.4" fill="#fff0a0" opacity="0.28" filter="url(#bl1)"/>
<path d="M555.1999999999999,157.0 Q558.4,160.0 561.6,157.0" stroke="#4a3008" stroke-width="1.4" fill="none" opacity="0.35" filter="url(#bl05)"/>
<circle cx="558.4" cy="156.10000000000002" r="0.9" fill="#402808" opacity="0.5" filter="url(#bl05)"/>
<circle cx="423.2" cy="180.79999999999998" r="4.4" fill="#fff0a0" opacity="0.28" filter="url(#bl1)"/>
<path d="M420.5,182.79999999999998 Q423.7,185.79999999999998 426.9,182.79999999999998" stroke="#4a3008" stroke-width="1.4" fill="none" opacity="0.35" filter="url(#bl05)"/>
<circle cx="423.7" cy="181.9" r="0.9" fill="#402808" opacity="0.5" filter="url(#bl05)"/>
<circle cx="446.3" cy="185.0" r="4.4" fill="#fff0a0" opacity="0.28" filter="url(#bl1)"/>
<path d="M443.6,187.0 Q446.8,190.0 450.0,187.0" stroke="#4a3008" stroke-width="1.4" fill="none" opacity="0.35" filter="url(#bl05)"/>
<circle cx="446.8" cy="186.10000000000002" r="0.9" fill="#402808" opacity="0.5" filter="url(#bl05)"/>
<circle cx="472.8" cy="186.89999999999998" r="4.4" fill="#fff0a0" opacity="0.28" filter="url(#bl1)"/>
<path d="M470.1,188.89999999999998 Q473.3,191.89999999999998 476.5,188.89999999999998" stroke="#4a3008" stroke-width="1.4" fill="none" opacity="0.35" filter="url(#bl05)"/>
<circle cx="473.3" cy="188.0" r="0.9" fill="#402808" opacity="0.5" filter="url(#bl05)"/>
<circle cx="500.0" cy="181.2" r="4.4" fill="#fff0a0" opacity="0.28" filter="url(#bl1)"/>
<path d="M497.3,183.2 Q500.5,186.2 503.7,183.2" stroke="#4a3008" stroke-width="1.4" fill="none" opacity="0.35" filter="url(#bl05)"/>
<circle cx="500.5" cy="182.3" r="0.9" fill="#402808" opacity="0.5" filter="url(#bl05)"/>
<circle cx="524.2" cy="187.1" r="4.4" fill="#fff0a0" opacity="0.28" filter="url(#bl1)"/>
<path d="M521.5,189.1 Q524.7,192.1 527.9000000000001,189.1" stroke="#4a3008" stroke-width="1.4" fill="none" opacity="0.35" filter="url(#bl05)"/>
<circle cx="524.7" cy="188.20000000000002" r="0.9" fill="#402808" opacity="0.5" filter="url(#bl05)"/>
<circle cx="553.7" cy="185.0" r="4.4" fill="#fff0a0" opacity="0.28" filter="url(#bl1)"/>
<path d="M551.0,187.0 Q554.2,190.0 557.4000000000001,187.0" stroke="#4a3008" stroke-width="1.4" fill="none" opacity="0.35" filter="url(#bl05)"/>
<circle cx="554.2" cy="186.10000000000002" r="0.9" fill="#402808" opacity="0.5" filter="url(#bl05)"/>
<circle cx="579.5" cy="182.2" r="4.4" fill="#fff0a0" opacity="0.28" filter="url(#bl1)"/>
<path d="M576.8,184.2 Q580.0,187.2 583.2,184.2" stroke="#4a3008" stroke-width="1.4" fill="none" opacity="0.35" filter="url(#bl05)"/>
<circle cx="580.0" cy="183.3" r="0.9" fill="#402808" opacity="0.5" filter="url(#bl05)"/>
<circle cx="444.2" cy="212.39999999999998" r="4.4" fill="#fff0a0" opacity="0.28" filter="url(#bl1)"/>
<path d="M441.5,214.39999999999998 Q444.7,217.39999999999998 447.9,214.39999999999998" stroke="#4a3008" stroke-width="1.4" fill="none" opacity="0.35" filter="url(#bl05)"/>
<circle cx="444.7" cy="213.5" r="0.9" fill="#402808" opacity="0.5" filter="url(#bl05)"/>
<circle cx="469.5" cy="212.39999999999998" r="4.4" fill="#fff0a0" opacity="0.28" filter="url(#bl1)"/>
<path d="M466.8,214.39999999999998 Q470.0,217.39999999999998 473.2,214.39999999999998" stroke="#4a3008" stroke-width="1.4" fill="none" opacity="0.35" filter="url(#bl05)"/>
<circle cx="470.0" cy="213.5" r="0.9" fill="#402808" opacity="0.5" filter="url(#bl05)"/>
<circle cx="496.9" cy="212.39999999999998" r="4.4" fill="#fff0a0" opacity="0.28" filter="url(#bl1)"/>
<path d="M494.2,214.39999999999998 Q497.4,217.39999999999998 500.59999999999997,214.39999999999998" stroke="#4a3008" stroke-width="1.4" fill="none" opacity="0.35" filter="url(#bl05)"/>
<circle cx="497.4" cy="213.5" r="0.9" fill="#402808" opacity="0.5" filter="url(#bl05)"/>
<circle cx="524.2" cy="212.39999999999998" r="4.4" fill="#fff0a0" opacity="0.28" filter="url(#bl1)"/>
<path d="M521.5,214.39999999999998 Q524.7,217.39999999999998 527.9000000000001,214.39999999999998" stroke="#4a3008" stroke-width="1.4" fill="none" opacity="0.35" filter="url(#bl05)"/>
<circle cx="524.7" cy="213.5" r="0.9" fill="#402808" opacity="0.5" filter="url(#bl05)"/>
<circle cx="551.6" cy="212.39999999999998" r="4.4" fill="#fff0a0" opacity="0.28" filter="url(#bl1)"/>
<path d="M548.9,214.39999999999998 Q552.1,217.39999999999998 555.3000000000001,214.39999999999998" stroke="#4a3008" stroke-width="1.4" fill="none" opacity="0.35" filter="url(#bl05)"/>
<circle cx="552.1" cy="213.5" r="0.9" fill="#402808" opacity="0.5" filter="url(#bl05)"/>
<circle cx="463.2" cy="241.79999999999998" r="4.4" fill="#fff0a0" opacity="0.28" filter="url(#bl1)"/>
<path d="M460.5,243.79999999999998 Q463.7,246.79999999999998 466.9,243.79999999999998" stroke="#4a3008" stroke-width="1.4" fill="none" opacity="0.35" filter="url(#bl05)"/>
<circle cx="463.7" cy="242.9" r="0.9" fill="#402808" opacity="0.5" filter="url(#bl05)"/>
<circle cx="492.7" cy="239.7" r="4.4" fill="#fff0a0" opacity="0.28" filter="url(#bl1)"/>
<path d="M490.0,241.7 Q493.2,244.7 496.4,241.7" stroke="#4a3008" stroke-width="1.4" fill="none" opacity="0.35" filter="url(#bl05)"/>
<circle cx="493.2" cy="240.8" r="0.9" fill="#402808" opacity="0.5" filter="url(#bl05)"/>
<circle cx="520.0" cy="241.79999999999998" r="4.4" fill="#fff0a0" opacity="0.28" filter="url(#bl1)"/>
<path d="M517.3,243.79999999999998 Q520.5,246.79999999999998 523.7,243.79999999999998" stroke="#4a3008" stroke-width="1.4" fill="none" opacity="0.35" filter="url(#bl05)"/>
<circle cx="520.5" cy="242.9" r="0.9" fill="#402808" opacity="0.5" filter="url(#bl05)"/>
</g>
<g stroke="#000" stroke-opacity="0.75" stroke-width="1.1" fill="none">
<line x1="38.56" y1="274.80" x2="279.00" y2="274.80"/>
<line x1="38.56" y1="246.61" x2="279.00" y2="246.61"/>
<line x1="38.56" y1="218.42" x2="279.00" y2="218.42"/>
<line x1="38.56" y1="190.23" x2="279.00" y2="190.23"/>
<line x1="38.56" y1="162.04" x2="279.00" y2="162.04"/>
<line x1="38.56" y1="133.85" x2="279.00" y2="133.85"/>
<line x1="38.56" y1="105.66" x2="279.00" y2="105.66"/>
<line x1="38.56" y1="77.47" x2="279.00" y2="77.47"/>
<line x1="38.56" y1="49.28" x2="279.00" y2="49.28"/>
<line x1="50.56" y1="46.00" x2="50.56" y2="280.50"/>
<line x1="78.81" y1="46.00" x2="78.81" y2="280.50"/>
<line x1="107.06" y1="46.00" x2="107.06" y2="280.50"/>
<line x1="135.31" y1="46.00" x2="135.31" y2="280.50"/>
<line x1="163.56" y1="46.00" x2="163.56" y2="280.50"/>
<line x1="191.81" y1="46.00" x2="191.81" y2="280.50"/>
<line x1="220.06" y1="46.00" x2="220.06" y2="280.50"/>
<line x1="248.31" y1="46.00" x2="248.31" y2="280.50"/>
<line x1="276.56" y1="46.00" x2="276.56" y2="280.50"/>
<line x1="388.50" y1="273.30" x2="624.00" y2="273.30"/>
<line x1="388.50" y1="245.19" x2="624.00" y2="245.19"/>
<line x1="388.50" y1="217.08" x2="624.00" y2="217.08"/>
<line x1="388.50" y1="188.97" x2="624.00" y2="188.97"/>
<line x1="388.50" y1="160.86" x2="624.00" y2="160.86"/>
<line x1="388.50" y1="132.75" x2="624.00" y2="132.75"/>
<line x1="388.50" y1="104.64" x2="624.00" y2="104.64"/>
<line x1="388.50" y1="76.53" x2="624.00" y2="76.53"/>
<line x1="388.50" y1="48.42" x2="624.00" y2="48.42"/>
<line x1="400.50" y1="48.40" x2="400.50" y2="281.50"/>
<line x1="428.76" y1="48.40" x2="428.76" y2="281.50"/>
<line x1="457.02" y1="48.40" x2="457.02" y2="281.50"/>
<line x1="485.28" y1="48.40" x2="485.28" y2="281.50"/>
<line x1="513.54" y1="48.40" x2="513.54" y2="281.50"/>
<line x1="541.80" y1="48.40" x2="541.80" y2="281.50"/>
<line x1="570.06" y1="48.40" x2="570.06" y2="281.50"/>
<line x1="598.32" y1="48.40" x2="598.32" y2="281.50"/>
</g>
<g font-size="7.35" fill="#222">
<text x="38.06" y="277.50" text-anchor="end">0</text>
<text x="38.06" y="249.31" text-anchor="end">50</text>
<text x="38.06" y="221.12" text-anchor="end">100</text>
<text x="38.06" y="192.93" text-anchor="end">150</text>
<text x="38.06" y="164.74" text-anchor="end">200</text>
<text x="38.06" y="136.55" text-anchor="end">250</text>
<text x="38.06" y="108.36" text-anchor="end">300</text>
<text x="38.06" y="80.17" text-anchor="end">350</text>
<text x="38.06" y="51.98" text-anchor="end">400</text>
<text x="50.56" y="287.50" text-anchor="middle">0</text>
<text x="78.81" y="287.50" text-anchor="middle">50</text>
<text x="107.06" y="287.50" text-anchor="middle">100</text>
<text x="135.31" y="287.50" text-anchor="middle">150</text>
<text x="163.56" y="287.50" text-anchor="middle">200</text>
<text x="191.81" y="287.50" text-anchor="middle">250</text>
<text x="220.06" y="287.50" text-anchor="middle">300</text>
<text x="248.31" y="287.50" text-anchor="middle">350</text>
<text x="276.56" y="287.50" text-anchor="middle">400</text>
<text x="388.00" y="276.00" text-anchor="end">0</text>
<text x="388.00" y="247.89" text-anchor="end">50</text>
<text x="388.00" y="219.78" text-anchor="end">100</text>
<text x="388.00" y="191.67" text-anchor="end">150</text>
<text x="388.00" y="163.56" text-anchor="end">200</text>
<text x="388.00" y="135.45" text-anchor="end">250</text>
<text x="388.00" y="107.34" text-anchor="end">300</text>
<text x="388.00" y="79.23" text-anchor="end">350</text>
<text x="388.00" y="51.12" text-anchor="end">400</text>
<text x="400.50" y="288.40" text-anchor="middle">0</text>
<text x="428.76" y="288.40" text-anchor="middle">50</text>
<text x="457.02" y="288.40" text-anchor="middle">100</text>
<text x="485.28" y="288.40" text-anchor="middle">150</text>
<text x="513.54" y="288.40" text-anchor="middle">200</text>
<text x="541.80" y="288.40" text-anchor="middle">250</text>
<text x="570.06" y="288.40" text-anchor="middle">300</text>
<text x="598.32" y="288.40" text-anchor="middle">350</text>
</g>
<g font-size="9.55" font-weight="bold" fill="#111" text-anchor="middle">
<text x="168.0" y="6.8">Rest</text>
<text x="168.0" y="18.7">Unstable Abdominal Wall (Displacement &gt; 15mm)</text>
<text x="168.0" y="30.3">Width: 19cm | Length: 17cm | Area: 225cm<tspan font-size="5.6" dy="-3.4">2</tspan></text>
</g>
<g font-size="9.55" font-weight="bold" fill="#111" text-anchor="middle">
<text x="504.0" y="6.8">Rest</text>
<text x="504.0" y="18.7">Unstable Abdominal Wall (Displacement &gt; 15mm)</text>
<text x="504.0" y="30.3">Width: 35cm | Length: 34cm | Area: 1492cm<tspan font-size="5.6" dy="-3.4">2</tspan></text>
</g>
<text x="-0.7" y="16.6" font-size="14" font-weight="bold" fill="#111">a</text>
<text x="348.9" y="15.7" font-size="14" font-weight="bold" fill="#111">b</text>
<g font-size="6.8" font-weight="bold" fill="#111" text-anchor="middle">
<text x="11.0" y="160.0">Z Axis</text>
<text x="11.0" y="168.8">(mm)</text>
<text x="155.6" y="297.2">X Axis</text>
<text x="155.6" y="305.9">(mm)</text>
</g>
<g font-size="6.8" font-weight="bold" fill="#111" text-anchor="middle">
<text x="361.2" y="158.1">Z Axis</text>
<text x="361.2" y="166.9">(mm)</text>
<text x="505.8" y="297.9">X Axis</text>
<text x="505.8" y="306.59999999999997">(mm)</text>
</g>
<defs>
<linearGradient id="cbL" x1="0" y1="1" x2="0" y2="0">
 <stop offset="0" stop-color="#00f0ff"/>
 <stop offset="0.3" stop-color="#00a4ff"/>
 <stop offset="0.5" stop-color="#0a64ff"/>
 <stop offset="0.649" stop-color="#0a22ff"/>
 <stop offset="0.651" stop-color="#ff1000"/>
 <stop offset="1" stop-color="#ff3c10"/>
</linearGradient>
<linearGradient id="cbR" x1="0" y1="1" x2="0" y2="0">
 <stop offset="0" stop-color="#00d4ff"/>
 <stop offset="0.21" stop-color="#0030ff"/>
 <stop offset="0.213" stop-color="#ff1400"/>
 <stop offset="0.3" stop-color="#ff4000"/>
 <stop offset="0.45" stop-color="#ffa000"/>
 <stop offset="0.69" stop-color="#ffff00"/>
 <stop offset="1" stop-color="#fffff0"/>
</linearGradient>
</defs>
<rect x="308.2" y="188.9" width="8.9" height="105.9" fill="url(#cbL)"/>
<g stroke="#222" stroke-width="0.9">
<line x1="317.09999999999997" y1="188.9" x2="322.5" y2="188.9"/>
<line x1="317.09999999999997" y1="226.0" x2="322.5" y2="226.0"/>
<line x1="317.09999999999997" y1="294.8" x2="322.5" y2="294.8"/>
</g><g font-size="7" fill="#222">
<text x="323.4" y="191.4">23</text>
<text x="323.4" y="228.5">15</text>
<text x="323.4" y="297.3">0</text>
</g>
<g font-size="7.8" font-weight="bold" fill="#111" text-anchor="middle">
<text x="312.2" y="169.1">Displacement</text>
<text x="313.0" y="179.4" font-size="8.1" letter-spacing="0.25">(mm)</text></g>
<rect x="651.9" y="191.6" width="8.9" height="105.9" fill="url(#cbR)"/>
<g stroke="#222" stroke-width="0.9">
<line x1="660.8" y1="191.6" x2="666.1999999999999" y2="191.6"/>
<line x1="660.8" y1="230.4" x2="666.1999999999999" y2="230.4"/>
<line x1="660.8" y1="275.0" x2="666.1999999999999" y2="275.0"/>
<line x1="660.8" y1="297.5" x2="666.1999999999999" y2="297.5"/>
</g><g font-size="7" fill="#222">
<text x="667.1" y="194.1">71</text>
<text x="667.1" y="232.9">45</text>
<text x="667.1" y="277.5">15</text>
<text x="667.1" y="300.0">0</text>
</g>
<g font-size="7.8" font-weight="bold" fill="#111" text-anchor="middle">
<text x="658.2" y="170.1">Displacement</text>
<text x="659.0" y="180.4" font-size="8.1" letter-spacing="0.25">(mm)</text></g>
</svg>
</body></html>
